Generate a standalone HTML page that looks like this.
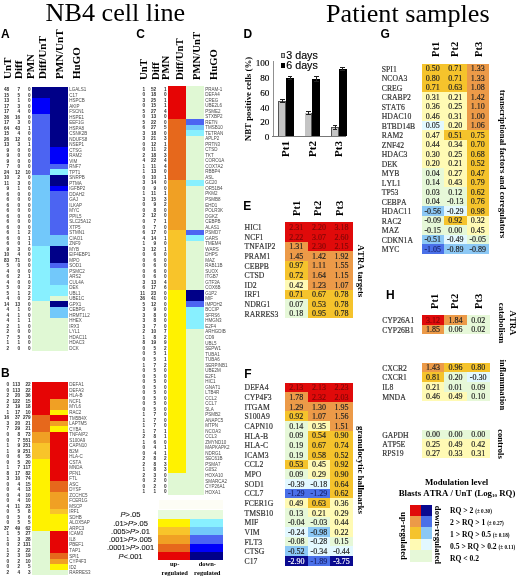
<!DOCTYPE html>
<html><head><meta charset="utf-8"><style>
html,body{margin:0;padding:0;background:#fff;}
body{width:520px;height:578px;position:relative;overflow:hidden;filter:blur(0.3px);}
body>div{position:absolute;font-kerning:none;font-variant-ligatures:none;}
</style></head><body>
<div style="left:45.50px;top:0.40px;font-family:'Liberation Serif', serif;font-size:26.2px;line-height:26.2px;font-weight:normal;color:#000;white-space:nowrap;">NB4 cell line</div>
<div style="left:326.00px;top:0.50px;font-family:'Liberation Serif', serif;font-size:26.2px;line-height:26.2px;font-weight:normal;color:#000;white-space:nowrap;">Patient samples</div>
<div style="left:1.00px;top:28.30px;font-family:'Liberation Sans', sans-serif;font-size:12px;line-height:12px;font-weight:bold;color:#000;white-space:nowrap;">A</div>
<div style="left:136.30px;top:28.20px;font-family:'Liberation Sans', sans-serif;font-size:12px;line-height:12px;font-weight:bold;color:#000;white-space:nowrap;">C</div>
<div style="left:243.50px;top:28.10px;font-family:'Liberation Sans', sans-serif;font-size:12px;line-height:12px;font-weight:bold;color:#000;white-space:nowrap;">D</div>
<div style="left:380.60px;top:27.60px;font-family:'Liberation Sans', sans-serif;font-size:12px;line-height:12px;font-weight:bold;color:#000;white-space:nowrap;">G</div>
<div style="left:1.00px;top:367.00px;font-family:'Liberation Sans', sans-serif;font-size:12px;line-height:12px;font-weight:bold;color:#000;white-space:nowrap;">B</div>
<div style="left:243.20px;top:200.30px;font-family:'Liberation Sans', sans-serif;font-size:12px;line-height:12px;font-weight:bold;color:#000;white-space:nowrap;">E</div>
<div style="left:244.30px;top:368.20px;font-family:'Liberation Sans', sans-serif;font-size:12px;line-height:12px;font-weight:bold;color:#000;white-space:nowrap;">F</div>
<div style="left:386.00px;top:288.80px;font-family:'Liberation Sans', sans-serif;font-size:12px;line-height:12px;font-weight:bold;color:#000;white-space:nowrap;">H</div>
<div style="left:32.00px;top:86.80px;width:18.00px;height:11.00px;background:#000088"></div>
<div style="left:32.00px;top:97.80px;width:18.00px;height:16.50px;background:#0000fa"></div>
<div style="left:32.00px;top:114.30px;width:18.00px;height:60.50px;background:#4c64f2"></div>
<div style="left:32.00px;top:174.80px;width:18.00px;height:71.50px;background:#72c8fa"></div>
<div style="left:32.00px;top:246.30px;width:18.00px;height:55.00px;background:#88f0ff"></div>
<div style="left:32.00px;top:301.30px;width:18.00px;height:49.50px;background:#e0f8d4"></div>
<div style="left:50.00px;top:86.80px;width:18.00px;height:60.50px;background:#000088"></div>
<div style="left:50.00px;top:147.30px;width:18.00px;height:16.50px;background:#0000fa"></div>
<div style="left:50.00px;top:163.80px;width:18.00px;height:5.50px;background:#4c64f2"></div>
<div style="left:50.00px;top:169.30px;width:18.00px;height:5.50px;background:#88f0ff"></div>
<div style="left:50.00px;top:174.80px;width:18.00px;height:11.00px;background:#000088"></div>
<div style="left:50.00px;top:185.80px;width:18.00px;height:5.50px;background:#0000fa"></div>
<div style="left:50.00px;top:191.30px;width:18.00px;height:44.00px;background:#4c64f2"></div>
<div style="left:50.00px;top:235.30px;width:18.00px;height:11.00px;background:#72c8fa"></div>
<div style="left:50.00px;top:246.30px;width:18.00px;height:16.50px;background:#000088"></div>
<div style="left:50.00px;top:262.80px;width:18.00px;height:5.50px;background:#4c64f2"></div>
<div style="left:50.00px;top:268.30px;width:18.00px;height:16.50px;background:#72c8fa"></div>
<div style="left:50.00px;top:284.80px;width:18.00px;height:11.00px;background:#88f0ff"></div>
<div style="left:50.00px;top:295.80px;width:18.00px;height:5.50px;background:#e0f8d4"></div>
<div style="left:50.00px;top:301.30px;width:18.00px;height:5.50px;background:#000088"></div>
<div style="left:50.00px;top:306.80px;width:18.00px;height:11.00px;background:#72c8fa"></div>
<div style="left:50.00px;top:317.80px;width:18.00px;height:33.00px;background:#e0f8d4"></div>
<div style="right:510.80px;top:88.10px;font-family:'Liberation Sans', sans-serif;font-size:4.7px;line-height:4.7px;font-weight:bold;color:#333;white-space:nowrap;">48</div>
<div style="right:499.80px;top:88.10px;font-family:'Liberation Sans', sans-serif;font-size:4.7px;line-height:4.7px;font-weight:bold;color:#333;white-space:nowrap;">7</div>
<div style="right:489.30px;top:88.10px;font-family:'Liberation Sans', sans-serif;font-size:4.7px;line-height:4.7px;font-weight:bold;color:#333;white-space:nowrap;">0</div>
<div style="left:69.20px;top:88.20px;font-family:'Liberation Sans', sans-serif;font-size:4.5px;line-height:4.5px;font-weight:normal;color:#4a4a4a;white-space:nowrap;">LGALS1</div>
<div style="right:510.80px;top:93.60px;font-family:'Liberation Sans', sans-serif;font-size:4.7px;line-height:4.7px;font-weight:bold;color:#333;white-space:nowrap;">15</div>
<div style="right:499.80px;top:93.60px;font-family:'Liberation Sans', sans-serif;font-size:4.7px;line-height:4.7px;font-weight:bold;color:#333;white-space:nowrap;">5</div>
<div style="right:489.30px;top:93.60px;font-family:'Liberation Sans', sans-serif;font-size:4.7px;line-height:4.7px;font-weight:bold;color:#333;white-space:nowrap;">0</div>
<div style="left:69.20px;top:93.70px;font-family:'Liberation Sans', sans-serif;font-size:4.5px;line-height:4.5px;font-weight:normal;color:#4a4a4a;white-space:nowrap;">C17</div>
<div style="right:510.80px;top:99.10px;font-family:'Liberation Sans', sans-serif;font-size:4.7px;line-height:4.7px;font-weight:bold;color:#333;white-space:nowrap;">13</div>
<div style="right:499.80px;top:99.10px;font-family:'Liberation Sans', sans-serif;font-size:4.7px;line-height:4.7px;font-weight:bold;color:#333;white-space:nowrap;">1</div>
<div style="right:489.30px;top:99.10px;font-family:'Liberation Sans', sans-serif;font-size:4.7px;line-height:4.7px;font-weight:bold;color:#333;white-space:nowrap;">0</div>
<div style="left:69.20px;top:99.20px;font-family:'Liberation Sans', sans-serif;font-size:4.5px;line-height:4.5px;font-weight:normal;color:#4a4a4a;white-space:nowrap;">HSPCB</div>
<div style="right:510.80px;top:104.60px;font-family:'Liberation Sans', sans-serif;font-size:4.7px;line-height:4.7px;font-weight:bold;color:#333;white-space:nowrap;">17</div>
<div style="right:499.80px;top:104.60px;font-family:'Liberation Sans', sans-serif;font-size:4.7px;line-height:4.7px;font-weight:bold;color:#333;white-space:nowrap;">3</div>
<div style="right:489.30px;top:104.60px;font-family:'Liberation Sans', sans-serif;font-size:4.7px;line-height:4.7px;font-weight:bold;color:#333;white-space:nowrap;">0</div>
<div style="left:69.20px;top:104.70px;font-family:'Liberation Sans', sans-serif;font-size:4.5px;line-height:4.5px;font-weight:normal;color:#4a4a4a;white-space:nowrap;">AKIP</div>
<div style="right:510.80px;top:110.10px;font-family:'Liberation Sans', sans-serif;font-size:4.7px;line-height:4.7px;font-weight:bold;color:#333;white-space:nowrap;">17</div>
<div style="right:499.80px;top:110.10px;font-family:'Liberation Sans', sans-serif;font-size:4.7px;line-height:4.7px;font-weight:bold;color:#333;white-space:nowrap;">4</div>
<div style="right:489.30px;top:110.10px;font-family:'Liberation Sans', sans-serif;font-size:4.7px;line-height:4.7px;font-weight:bold;color:#333;white-space:nowrap;">0</div>
<div style="left:69.20px;top:110.20px;font-family:'Liberation Sans', sans-serif;font-size:4.5px;line-height:4.5px;font-weight:normal;color:#4a4a4a;white-space:nowrap;">FSCN1</div>
<div style="right:510.80px;top:115.60px;font-family:'Liberation Sans', sans-serif;font-size:4.7px;line-height:4.7px;font-weight:bold;color:#333;white-space:nowrap;">36</div>
<div style="right:499.80px;top:115.60px;font-family:'Liberation Sans', sans-serif;font-size:4.7px;line-height:4.7px;font-weight:bold;color:#333;white-space:nowrap;">16</div>
<div style="right:489.30px;top:115.60px;font-family:'Liberation Sans', sans-serif;font-size:4.7px;line-height:4.7px;font-weight:bold;color:#333;white-space:nowrap;">0</div>
<div style="left:69.20px;top:115.70px;font-family:'Liberation Sans', sans-serif;font-size:4.5px;line-height:4.5px;font-weight:normal;color:#4a4a4a;white-space:nowrap;">HSPE1</div>
<div style="right:510.80px;top:121.10px;font-family:'Liberation Sans', sans-serif;font-size:4.7px;line-height:4.7px;font-weight:bold;color:#333;white-space:nowrap;">17</div>
<div style="right:499.80px;top:121.10px;font-family:'Liberation Sans', sans-serif;font-size:4.7px;line-height:4.7px;font-weight:bold;color:#333;white-space:nowrap;">3</div>
<div style="right:489.30px;top:121.10px;font-family:'Liberation Sans', sans-serif;font-size:4.7px;line-height:4.7px;font-weight:bold;color:#333;white-space:nowrap;">0</div>
<div style="left:69.20px;top:121.20px;font-family:'Liberation Sans', sans-serif;font-size:4.5px;line-height:4.5px;font-weight:normal;color:#4a4a4a;white-space:nowrap;">EEF1G</div>
<div style="right:510.80px;top:126.60px;font-family:'Liberation Sans', sans-serif;font-size:4.7px;line-height:4.7px;font-weight:bold;color:#333;white-space:nowrap;">64</div>
<div style="right:499.80px;top:126.60px;font-family:'Liberation Sans', sans-serif;font-size:4.7px;line-height:4.7px;font-weight:bold;color:#333;white-space:nowrap;">43</div>
<div style="right:489.30px;top:126.60px;font-family:'Liberation Sans', sans-serif;font-size:4.7px;line-height:4.7px;font-weight:bold;color:#333;white-space:nowrap;">1</div>
<div style="left:69.20px;top:126.70px;font-family:'Liberation Sans', sans-serif;font-size:4.5px;line-height:4.5px;font-weight:normal;color:#4a4a4a;white-space:nowrap;">HSPA8</div>
<div style="right:510.80px;top:132.10px;font-family:'Liberation Sans', sans-serif;font-size:4.7px;line-height:4.7px;font-weight:bold;color:#333;white-space:nowrap;">15</div>
<div style="right:499.80px;top:132.10px;font-family:'Liberation Sans', sans-serif;font-size:4.7px;line-height:4.7px;font-weight:bold;color:#333;white-space:nowrap;">4</div>
<div style="right:489.30px;top:132.10px;font-family:'Liberation Sans', sans-serif;font-size:4.7px;line-height:4.7px;font-weight:bold;color:#333;white-space:nowrap;">0</div>
<div style="left:69.20px;top:132.20px;font-family:'Liberation Sans', sans-serif;font-size:4.5px;line-height:4.5px;font-weight:normal;color:#4a4a4a;white-space:nowrap;">CSNK2B</div>
<div style="right:510.80px;top:137.60px;font-family:'Liberation Sans', sans-serif;font-size:4.7px;line-height:4.7px;font-weight:bold;color:#333;white-space:nowrap;">26</div>
<div style="right:499.80px;top:137.60px;font-family:'Liberation Sans', sans-serif;font-size:4.7px;line-height:4.7px;font-weight:bold;color:#333;white-space:nowrap;">12</div>
<div style="right:489.30px;top:137.60px;font-family:'Liberation Sans', sans-serif;font-size:4.7px;line-height:4.7px;font-weight:bold;color:#333;white-space:nowrap;">0</div>
<div style="left:69.20px;top:137.70px;font-family:'Liberation Sans', sans-serif;font-size:4.5px;line-height:4.5px;font-weight:normal;color:#4a4a4a;white-space:nowrap;">NDUFS8</div>
<div style="right:510.80px;top:143.10px;font-family:'Liberation Sans', sans-serif;font-size:4.7px;line-height:4.7px;font-weight:bold;color:#333;white-space:nowrap;">13</div>
<div style="right:499.80px;top:143.10px;font-family:'Liberation Sans', sans-serif;font-size:4.7px;line-height:4.7px;font-weight:bold;color:#333;white-space:nowrap;">3</div>
<div style="right:489.30px;top:143.10px;font-family:'Liberation Sans', sans-serif;font-size:4.7px;line-height:4.7px;font-weight:bold;color:#333;white-space:nowrap;">1</div>
<div style="left:69.20px;top:143.20px;font-family:'Liberation Sans', sans-serif;font-size:4.5px;line-height:4.5px;font-weight:normal;color:#4a4a4a;white-space:nowrap;">NSEP1</div>
<div style="right:510.80px;top:148.60px;font-family:'Liberation Sans', sans-serif;font-size:4.7px;line-height:4.7px;font-weight:bold;color:#333;white-space:nowrap;">9</div>
<div style="right:499.80px;top:148.60px;font-family:'Liberation Sans', sans-serif;font-size:4.7px;line-height:4.7px;font-weight:bold;color:#333;white-space:nowrap;">0</div>
<div style="right:489.30px;top:148.60px;font-family:'Liberation Sans', sans-serif;font-size:4.7px;line-height:4.7px;font-weight:bold;color:#333;white-space:nowrap;">0</div>
<div style="left:69.20px;top:148.70px;font-family:'Liberation Sans', sans-serif;font-size:4.5px;line-height:4.5px;font-weight:normal;color:#4a4a4a;white-space:nowrap;">CTSG</div>
<div style="right:510.80px;top:154.10px;font-family:'Liberation Sans', sans-serif;font-size:4.7px;line-height:4.7px;font-weight:bold;color:#333;white-space:nowrap;">9</div>
<div style="right:499.80px;top:154.10px;font-family:'Liberation Sans', sans-serif;font-size:4.7px;line-height:4.7px;font-weight:bold;color:#333;white-space:nowrap;">0</div>
<div style="right:489.30px;top:154.10px;font-family:'Liberation Sans', sans-serif;font-size:4.7px;line-height:4.7px;font-weight:bold;color:#333;white-space:nowrap;">0</div>
<div style="left:69.20px;top:154.20px;font-family:'Liberation Sans', sans-serif;font-size:4.5px;line-height:4.5px;font-weight:normal;color:#4a4a4a;white-space:nowrap;">RAM2</div>
<div style="right:510.80px;top:159.60px;font-family:'Liberation Sans', sans-serif;font-size:4.7px;line-height:4.7px;font-weight:bold;color:#333;white-space:nowrap;">9</div>
<div style="right:499.80px;top:159.60px;font-family:'Liberation Sans', sans-serif;font-size:4.7px;line-height:4.7px;font-weight:bold;color:#333;white-space:nowrap;">0</div>
<div style="right:489.30px;top:159.60px;font-family:'Liberation Sans', sans-serif;font-size:4.7px;line-height:4.7px;font-weight:bold;color:#333;white-space:nowrap;">0</div>
<div style="left:69.20px;top:159.70px;font-family:'Liberation Sans', sans-serif;font-size:4.5px;line-height:4.5px;font-weight:normal;color:#4a4a4a;white-space:nowrap;">VIM</div>
<div style="right:510.80px;top:165.10px;font-family:'Liberation Sans', sans-serif;font-size:4.7px;line-height:4.7px;font-weight:bold;color:#333;white-space:nowrap;">7</div>
<div style="right:499.80px;top:165.10px;font-family:'Liberation Sans', sans-serif;font-size:4.7px;line-height:4.7px;font-weight:bold;color:#333;white-space:nowrap;">0</div>
<div style="right:489.30px;top:165.10px;font-family:'Liberation Sans', sans-serif;font-size:4.7px;line-height:4.7px;font-weight:bold;color:#333;white-space:nowrap;">0</div>
<div style="left:69.20px;top:165.20px;font-family:'Liberation Sans', sans-serif;font-size:4.5px;line-height:4.5px;font-weight:normal;color:#4a4a4a;white-space:nowrap;">RNF7</div>
<div style="right:510.80px;top:170.60px;font-family:'Liberation Sans', sans-serif;font-size:4.7px;line-height:4.7px;font-weight:bold;color:#333;white-space:nowrap;">24</div>
<div style="right:499.80px;top:170.60px;font-family:'Liberation Sans', sans-serif;font-size:4.7px;line-height:4.7px;font-weight:bold;color:#333;white-space:nowrap;">12</div>
<div style="right:489.30px;top:170.60px;font-family:'Liberation Sans', sans-serif;font-size:4.7px;line-height:4.7px;font-weight:bold;color:#333;white-space:nowrap;">10</div>
<div style="left:69.20px;top:170.70px;font-family:'Liberation Sans', sans-serif;font-size:4.5px;line-height:4.5px;font-weight:normal;color:#4a4a4a;white-space:nowrap;">TPT1</div>
<div style="right:510.80px;top:176.10px;font-family:'Liberation Sans', sans-serif;font-size:4.7px;line-height:4.7px;font-weight:bold;color:#333;white-space:nowrap;">10</div>
<div style="right:499.80px;top:176.10px;font-family:'Liberation Sans', sans-serif;font-size:4.7px;line-height:4.7px;font-weight:bold;color:#333;white-space:nowrap;">2</div>
<div style="right:489.30px;top:176.10px;font-family:'Liberation Sans', sans-serif;font-size:4.7px;line-height:4.7px;font-weight:bold;color:#333;white-space:nowrap;">0</div>
<div style="left:69.20px;top:176.20px;font-family:'Liberation Sans', sans-serif;font-size:4.5px;line-height:4.5px;font-weight:normal;color:#4a4a4a;white-space:nowrap;">SNRPB</div>
<div style="right:510.80px;top:181.60px;font-family:'Liberation Sans', sans-serif;font-size:4.7px;line-height:4.7px;font-weight:bold;color:#333;white-space:nowrap;">11</div>
<div style="right:499.80px;top:181.60px;font-family:'Liberation Sans', sans-serif;font-size:4.7px;line-height:4.7px;font-weight:bold;color:#333;white-space:nowrap;">3</div>
<div style="right:489.30px;top:181.60px;font-family:'Liberation Sans', sans-serif;font-size:4.7px;line-height:4.7px;font-weight:bold;color:#333;white-space:nowrap;">0</div>
<div style="left:69.20px;top:181.70px;font-family:'Liberation Sans', sans-serif;font-size:4.5px;line-height:4.5px;font-weight:normal;color:#4a4a4a;white-space:nowrap;">PTMA</div>
<div style="right:510.80px;top:187.10px;font-family:'Liberation Sans', sans-serif;font-size:4.7px;line-height:4.7px;font-weight:bold;color:#333;white-space:nowrap;">9</div>
<div style="right:499.80px;top:187.10px;font-family:'Liberation Sans', sans-serif;font-size:4.7px;line-height:4.7px;font-weight:bold;color:#333;white-space:nowrap;">1</div>
<div style="right:489.30px;top:187.10px;font-family:'Liberation Sans', sans-serif;font-size:4.7px;line-height:4.7px;font-weight:bold;color:#333;white-space:nowrap;">0</div>
<div style="left:69.20px;top:187.20px;font-family:'Liberation Sans', sans-serif;font-size:4.5px;line-height:4.5px;font-weight:normal;color:#4a4a4a;white-space:nowrap;">IGFBP2</div>
<div style="right:510.80px;top:192.60px;font-family:'Liberation Sans', sans-serif;font-size:4.7px;line-height:4.7px;font-weight:bold;color:#333;white-space:nowrap;">6</div>
<div style="right:499.80px;top:192.60px;font-family:'Liberation Sans', sans-serif;font-size:4.7px;line-height:4.7px;font-weight:bold;color:#333;white-space:nowrap;">0</div>
<div style="right:489.30px;top:192.60px;font-family:'Liberation Sans', sans-serif;font-size:4.7px;line-height:4.7px;font-weight:bold;color:#333;white-space:nowrap;">0</div>
<div style="left:69.20px;top:192.70px;font-family:'Liberation Sans', sans-serif;font-size:4.5px;line-height:4.5px;font-weight:normal;color:#4a4a4a;white-space:nowrap;">DDAH2</div>
<div style="right:510.80px;top:198.10px;font-family:'Liberation Sans', sans-serif;font-size:4.7px;line-height:4.7px;font-weight:bold;color:#333;white-space:nowrap;">6</div>
<div style="right:499.80px;top:198.10px;font-family:'Liberation Sans', sans-serif;font-size:4.7px;line-height:4.7px;font-weight:bold;color:#333;white-space:nowrap;">0</div>
<div style="right:489.30px;top:198.10px;font-family:'Liberation Sans', sans-serif;font-size:4.7px;line-height:4.7px;font-weight:bold;color:#333;white-space:nowrap;">0</div>
<div style="left:69.20px;top:198.20px;font-family:'Liberation Sans', sans-serif;font-size:4.5px;line-height:4.5px;font-weight:normal;color:#4a4a4a;white-space:nowrap;">GAJ</div>
<div style="right:510.80px;top:203.60px;font-family:'Liberation Sans', sans-serif;font-size:4.7px;line-height:4.7px;font-weight:bold;color:#333;white-space:nowrap;">6</div>
<div style="right:499.80px;top:203.60px;font-family:'Liberation Sans', sans-serif;font-size:4.7px;line-height:4.7px;font-weight:bold;color:#333;white-space:nowrap;">0</div>
<div style="right:489.30px;top:203.60px;font-family:'Liberation Sans', sans-serif;font-size:4.7px;line-height:4.7px;font-weight:bold;color:#333;white-space:nowrap;">0</div>
<div style="left:69.20px;top:203.70px;font-family:'Liberation Sans', sans-serif;font-size:4.5px;line-height:4.5px;font-weight:normal;color:#4a4a4a;white-space:nowrap;">ILKAP</div>
<div style="right:510.80px;top:209.10px;font-family:'Liberation Sans', sans-serif;font-size:4.7px;line-height:4.7px;font-weight:bold;color:#333;white-space:nowrap;">6</div>
<div style="right:499.80px;top:209.10px;font-family:'Liberation Sans', sans-serif;font-size:4.7px;line-height:4.7px;font-weight:bold;color:#333;white-space:nowrap;">0</div>
<div style="right:489.30px;top:209.10px;font-family:'Liberation Sans', sans-serif;font-size:4.7px;line-height:4.7px;font-weight:bold;color:#333;white-space:nowrap;">0</div>
<div style="left:69.20px;top:209.20px;font-family:'Liberation Sans', sans-serif;font-size:4.5px;line-height:4.5px;font-weight:normal;color:#4a4a4a;white-space:nowrap;">MYC</div>
<div style="right:510.80px;top:214.60px;font-family:'Liberation Sans', sans-serif;font-size:4.7px;line-height:4.7px;font-weight:bold;color:#333;white-space:nowrap;">6</div>
<div style="right:499.80px;top:214.60px;font-family:'Liberation Sans', sans-serif;font-size:4.7px;line-height:4.7px;font-weight:bold;color:#333;white-space:nowrap;">0</div>
<div style="right:489.30px;top:214.60px;font-family:'Liberation Sans', sans-serif;font-size:4.7px;line-height:4.7px;font-weight:bold;color:#333;white-space:nowrap;">0</div>
<div style="left:69.20px;top:214.70px;font-family:'Liberation Sans', sans-serif;font-size:4.5px;line-height:4.5px;font-weight:normal;color:#4a4a4a;white-space:nowrap;">PPIL5</div>
<div style="right:510.80px;top:220.10px;font-family:'Liberation Sans', sans-serif;font-size:4.7px;line-height:4.7px;font-weight:bold;color:#333;white-space:nowrap;">6</div>
<div style="right:499.80px;top:220.10px;font-family:'Liberation Sans', sans-serif;font-size:4.7px;line-height:4.7px;font-weight:bold;color:#333;white-space:nowrap;">0</div>
<div style="right:489.30px;top:220.10px;font-family:'Liberation Sans', sans-serif;font-size:4.7px;line-height:4.7px;font-weight:bold;color:#333;white-space:nowrap;">0</div>
<div style="left:69.20px;top:220.20px;font-family:'Liberation Sans', sans-serif;font-size:4.5px;line-height:4.5px;font-weight:normal;color:#4a4a4a;white-space:nowrap;">SLC25A12</div>
<div style="right:510.80px;top:225.60px;font-family:'Liberation Sans', sans-serif;font-size:4.7px;line-height:4.7px;font-weight:bold;color:#333;white-space:nowrap;">6</div>
<div style="right:499.80px;top:225.60px;font-family:'Liberation Sans', sans-serif;font-size:4.7px;line-height:4.7px;font-weight:bold;color:#333;white-space:nowrap;">0</div>
<div style="right:489.30px;top:225.60px;font-family:'Liberation Sans', sans-serif;font-size:4.7px;line-height:4.7px;font-weight:bold;color:#333;white-space:nowrap;">0</div>
<div style="left:69.20px;top:225.70px;font-family:'Liberation Sans', sans-serif;font-size:4.5px;line-height:4.5px;font-weight:normal;color:#4a4a4a;white-space:nowrap;">XTP5</div>
<div style="right:510.80px;top:231.10px;font-family:'Liberation Sans', sans-serif;font-size:4.7px;line-height:4.7px;font-weight:bold;color:#333;white-space:nowrap;">6</div>
<div style="right:499.80px;top:231.10px;font-family:'Liberation Sans', sans-serif;font-size:4.7px;line-height:4.7px;font-weight:bold;color:#333;white-space:nowrap;">1</div>
<div style="right:489.30px;top:231.10px;font-family:'Liberation Sans', sans-serif;font-size:4.7px;line-height:4.7px;font-weight:bold;color:#333;white-space:nowrap;">2</div>
<div style="left:69.20px;top:231.20px;font-family:'Liberation Sans', sans-serif;font-size:4.5px;line-height:4.5px;font-weight:normal;color:#4a4a4a;white-space:nowrap;">STMN1</div>
<div style="right:510.80px;top:236.60px;font-family:'Liberation Sans', sans-serif;font-size:4.7px;line-height:4.7px;font-weight:bold;color:#333;white-space:nowrap;">6</div>
<div style="right:499.80px;top:236.60px;font-family:'Liberation Sans', sans-serif;font-size:4.7px;line-height:4.7px;font-weight:bold;color:#333;white-space:nowrap;">0</div>
<div style="right:489.30px;top:236.60px;font-family:'Liberation Sans', sans-serif;font-size:4.7px;line-height:4.7px;font-weight:bold;color:#333;white-space:nowrap;">1</div>
<div style="left:69.20px;top:236.70px;font-family:'Liberation Sans', sans-serif;font-size:4.5px;line-height:4.5px;font-weight:normal;color:#4a4a4a;white-space:nowrap;">CIAO1</div>
<div style="right:510.80px;top:242.10px;font-family:'Liberation Sans', sans-serif;font-size:4.7px;line-height:4.7px;font-weight:bold;color:#333;white-space:nowrap;">6</div>
<div style="right:499.80px;top:242.10px;font-family:'Liberation Sans', sans-serif;font-size:4.7px;line-height:4.7px;font-weight:bold;color:#333;white-space:nowrap;">0</div>
<div style="right:489.30px;top:242.10px;font-family:'Liberation Sans', sans-serif;font-size:4.7px;line-height:4.7px;font-weight:bold;color:#333;white-space:nowrap;">1</div>
<div style="left:69.20px;top:242.20px;font-family:'Liberation Sans', sans-serif;font-size:4.5px;line-height:4.5px;font-weight:normal;color:#4a4a4a;white-space:nowrap;">ZNF9</div>
<div style="right:510.80px;top:247.60px;font-family:'Liberation Sans', sans-serif;font-size:4.7px;line-height:4.7px;font-weight:bold;color:#333;white-space:nowrap;">9</div>
<div style="right:499.80px;top:247.60px;font-family:'Liberation Sans', sans-serif;font-size:4.7px;line-height:4.7px;font-weight:bold;color:#333;white-space:nowrap;">3</div>
<div style="right:489.30px;top:247.60px;font-family:'Liberation Sans', sans-serif;font-size:4.7px;line-height:4.7px;font-weight:bold;color:#333;white-space:nowrap;">0</div>
<div style="left:69.20px;top:247.70px;font-family:'Liberation Sans', sans-serif;font-size:4.5px;line-height:4.5px;font-weight:normal;color:#4a4a4a;white-space:nowrap;">MYB</div>
<div style="right:510.80px;top:253.10px;font-family:'Liberation Sans', sans-serif;font-size:4.7px;line-height:4.7px;font-weight:bold;color:#333;white-space:nowrap;">10</div>
<div style="right:499.80px;top:253.10px;font-family:'Liberation Sans', sans-serif;font-size:4.7px;line-height:4.7px;font-weight:bold;color:#333;white-space:nowrap;">4</div>
<div style="right:489.30px;top:253.10px;font-family:'Liberation Sans', sans-serif;font-size:4.7px;line-height:4.7px;font-weight:bold;color:#333;white-space:nowrap;">0</div>
<div style="left:69.20px;top:253.20px;font-family:'Liberation Sans', sans-serif;font-size:4.5px;line-height:4.5px;font-weight:normal;color:#4a4a4a;white-space:nowrap;">EIF4EBP1</div>
<div style="right:510.80px;top:258.60px;font-family:'Liberation Sans', sans-serif;font-size:4.7px;line-height:4.7px;font-weight:bold;color:#333;white-space:nowrap;">83</div>
<div style="right:499.80px;top:258.60px;font-family:'Liberation Sans', sans-serif;font-size:4.7px;line-height:4.7px;font-weight:bold;color:#333;white-space:nowrap;">71</div>
<div style="right:489.30px;top:258.60px;font-family:'Liberation Sans', sans-serif;font-size:4.7px;line-height:4.7px;font-weight:bold;color:#333;white-space:nowrap;">0</div>
<div style="left:69.20px;top:258.70px;font-family:'Liberation Sans', sans-serif;font-size:4.5px;line-height:4.5px;font-weight:normal;color:#4a4a4a;white-space:nowrap;">MPO</div>
<div style="right:510.80px;top:264.10px;font-family:'Liberation Sans', sans-serif;font-size:4.7px;line-height:4.7px;font-weight:bold;color:#333;white-space:nowrap;">5</div>
<div style="right:499.80px;top:264.10px;font-family:'Liberation Sans', sans-serif;font-size:4.7px;line-height:4.7px;font-weight:bold;color:#333;white-space:nowrap;">0</div>
<div style="right:489.30px;top:264.10px;font-family:'Liberation Sans', sans-serif;font-size:4.7px;line-height:4.7px;font-weight:bold;color:#333;white-space:nowrap;">0</div>
<div style="left:69.20px;top:264.20px;font-family:'Liberation Sans', sans-serif;font-size:4.5px;line-height:4.5px;font-weight:normal;color:#4a4a4a;white-space:nowrap;">SOD1</div>
<div style="right:510.80px;top:269.60px;font-family:'Liberation Sans', sans-serif;font-size:4.7px;line-height:4.7px;font-weight:bold;color:#333;white-space:nowrap;">4</div>
<div style="right:499.80px;top:269.60px;font-family:'Liberation Sans', sans-serif;font-size:4.7px;line-height:4.7px;font-weight:bold;color:#333;white-space:nowrap;">0</div>
<div style="right:489.30px;top:269.60px;font-family:'Liberation Sans', sans-serif;font-size:4.7px;line-height:4.7px;font-weight:bold;color:#333;white-space:nowrap;">0</div>
<div style="left:69.20px;top:269.70px;font-family:'Liberation Sans', sans-serif;font-size:4.5px;line-height:4.5px;font-weight:normal;color:#4a4a4a;white-space:nowrap;">PSMC2</div>
<div style="right:510.80px;top:275.10px;font-family:'Liberation Sans', sans-serif;font-size:4.7px;line-height:4.7px;font-weight:bold;color:#333;white-space:nowrap;">6</div>
<div style="right:499.80px;top:275.10px;font-family:'Liberation Sans', sans-serif;font-size:4.7px;line-height:4.7px;font-weight:bold;color:#333;white-space:nowrap;">2</div>
<div style="right:489.30px;top:275.10px;font-family:'Liberation Sans', sans-serif;font-size:4.7px;line-height:4.7px;font-weight:bold;color:#333;white-space:nowrap;">1</div>
<div style="left:69.20px;top:275.20px;font-family:'Liberation Sans', sans-serif;font-size:4.5px;line-height:4.5px;font-weight:normal;color:#4a4a4a;white-space:nowrap;">ARS2</div>
<div style="right:510.80px;top:280.60px;font-family:'Liberation Sans', sans-serif;font-size:4.7px;line-height:4.7px;font-weight:bold;color:#333;white-space:nowrap;">4</div>
<div style="right:499.80px;top:280.60px;font-family:'Liberation Sans', sans-serif;font-size:4.7px;line-height:4.7px;font-weight:bold;color:#333;white-space:nowrap;">0</div>
<div style="right:489.30px;top:280.60px;font-family:'Liberation Sans', sans-serif;font-size:4.7px;line-height:4.7px;font-weight:bold;color:#333;white-space:nowrap;">0</div>
<div style="left:69.20px;top:280.70px;font-family:'Liberation Sans', sans-serif;font-size:4.5px;line-height:4.5px;font-weight:normal;color:#4a4a4a;white-space:nowrap;">CUL4A</div>
<div style="right:510.80px;top:286.10px;font-family:'Liberation Sans', sans-serif;font-size:4.7px;line-height:4.7px;font-weight:bold;color:#333;white-space:nowrap;">5</div>
<div style="right:499.80px;top:286.10px;font-family:'Liberation Sans', sans-serif;font-size:4.7px;line-height:4.7px;font-weight:bold;color:#333;white-space:nowrap;">0</div>
<div style="right:489.30px;top:286.10px;font-family:'Liberation Sans', sans-serif;font-size:4.7px;line-height:4.7px;font-weight:bold;color:#333;white-space:nowrap;">2</div>
<div style="left:69.20px;top:286.20px;font-family:'Liberation Sans', sans-serif;font-size:4.5px;line-height:4.5px;font-weight:normal;color:#4a4a4a;white-space:nowrap;">DEK</div>
<div style="right:510.80px;top:291.60px;font-family:'Liberation Sans', sans-serif;font-size:4.7px;line-height:4.7px;font-weight:bold;color:#333;white-space:nowrap;">5</div>
<div style="right:499.80px;top:291.60px;font-family:'Liberation Sans', sans-serif;font-size:4.7px;line-height:4.7px;font-weight:bold;color:#333;white-space:nowrap;">1</div>
<div style="right:489.30px;top:291.60px;font-family:'Liberation Sans', sans-serif;font-size:4.7px;line-height:4.7px;font-weight:bold;color:#333;white-space:nowrap;">2</div>
<div style="left:69.20px;top:291.70px;font-family:'Liberation Sans', sans-serif;font-size:4.5px;line-height:4.5px;font-weight:normal;color:#4a4a4a;white-space:nowrap;">UBL1</div>
<div style="right:510.80px;top:297.10px;font-family:'Liberation Sans', sans-serif;font-size:4.7px;line-height:4.7px;font-weight:bold;color:#333;white-space:nowrap;">4</div>
<div style="right:499.80px;top:297.10px;font-family:'Liberation Sans', sans-serif;font-size:4.7px;line-height:4.7px;font-weight:bold;color:#333;white-space:nowrap;">0</div>
<div style="right:489.30px;top:297.10px;font-family:'Liberation Sans', sans-serif;font-size:4.7px;line-height:4.7px;font-weight:bold;color:#333;white-space:nowrap;">2</div>
<div style="left:69.20px;top:297.20px;font-family:'Liberation Sans', sans-serif;font-size:4.5px;line-height:4.5px;font-weight:normal;color:#4a4a4a;white-space:nowrap;">UBE1C</div>
<div style="right:510.80px;top:302.60px;font-family:'Liberation Sans', sans-serif;font-size:4.7px;line-height:4.7px;font-weight:bold;color:#333;white-space:nowrap;">14</div>
<div style="right:499.80px;top:302.60px;font-family:'Liberation Sans', sans-serif;font-size:4.7px;line-height:4.7px;font-weight:bold;color:#333;white-space:nowrap;">13</div>
<div style="right:489.30px;top:302.60px;font-family:'Liberation Sans', sans-serif;font-size:4.7px;line-height:4.7px;font-weight:bold;color:#333;white-space:nowrap;">0</div>
<div style="left:69.20px;top:302.70px;font-family:'Liberation Sans', sans-serif;font-size:4.5px;line-height:4.5px;font-weight:normal;color:#4a4a4a;white-space:nowrap;">GPX1</div>
<div style="right:510.80px;top:308.10px;font-family:'Liberation Sans', sans-serif;font-size:4.7px;line-height:4.7px;font-weight:bold;color:#333;white-space:nowrap;">4</div>
<div style="right:499.80px;top:308.10px;font-family:'Liberation Sans', sans-serif;font-size:4.7px;line-height:4.7px;font-weight:bold;color:#333;white-space:nowrap;">1</div>
<div style="right:489.30px;top:308.10px;font-family:'Liberation Sans', sans-serif;font-size:4.7px;line-height:4.7px;font-weight:bold;color:#333;white-space:nowrap;">0</div>
<div style="left:69.20px;top:308.20px;font-family:'Liberation Sans', sans-serif;font-size:4.5px;line-height:4.5px;font-weight:normal;color:#4a4a4a;white-space:nowrap;">CEBPG</div>
<div style="right:510.80px;top:313.60px;font-family:'Liberation Sans', sans-serif;font-size:4.7px;line-height:4.7px;font-weight:bold;color:#333;white-space:nowrap;">4</div>
<div style="right:499.80px;top:313.60px;font-family:'Liberation Sans', sans-serif;font-size:4.7px;line-height:4.7px;font-weight:bold;color:#333;white-space:nowrap;">1</div>
<div style="right:489.30px;top:313.60px;font-family:'Liberation Sans', sans-serif;font-size:4.7px;line-height:4.7px;font-weight:bold;color:#333;white-space:nowrap;">0</div>
<div style="left:69.20px;top:313.70px;font-family:'Liberation Sans', sans-serif;font-size:4.5px;line-height:4.5px;font-weight:normal;color:#4a4a4a;white-space:nowrap;">HRMT1L2</div>
<div style="right:510.80px;top:319.10px;font-family:'Liberation Sans', sans-serif;font-size:4.7px;line-height:4.7px;font-weight:bold;color:#333;white-space:nowrap;">4</div>
<div style="right:499.80px;top:319.10px;font-family:'Liberation Sans', sans-serif;font-size:4.7px;line-height:4.7px;font-weight:bold;color:#333;white-space:nowrap;">1</div>
<div style="right:489.30px;top:319.10px;font-family:'Liberation Sans', sans-serif;font-size:4.7px;line-height:4.7px;font-weight:bold;color:#333;white-space:nowrap;">1</div>
<div style="left:69.20px;top:319.20px;font-family:'Liberation Sans', sans-serif;font-size:4.5px;line-height:4.5px;font-weight:normal;color:#4a4a4a;white-space:nowrap;">HHEX</div>
<div style="right:510.80px;top:324.60px;font-family:'Liberation Sans', sans-serif;font-size:4.7px;line-height:4.7px;font-weight:bold;color:#333;white-space:nowrap;">2</div>
<div style="right:499.80px;top:324.60px;font-family:'Liberation Sans', sans-serif;font-size:4.7px;line-height:4.7px;font-weight:bold;color:#333;white-space:nowrap;">1</div>
<div style="right:489.30px;top:324.60px;font-family:'Liberation Sans', sans-serif;font-size:4.7px;line-height:4.7px;font-weight:bold;color:#333;white-space:nowrap;">0</div>
<div style="left:69.20px;top:324.70px;font-family:'Liberation Sans', sans-serif;font-size:4.5px;line-height:4.5px;font-weight:normal;color:#4a4a4a;white-space:nowrap;">IRX3</div>
<div style="right:510.80px;top:330.10px;font-family:'Liberation Sans', sans-serif;font-size:4.7px;line-height:4.7px;font-weight:bold;color:#333;white-space:nowrap;">2</div>
<div style="right:499.80px;top:330.10px;font-family:'Liberation Sans', sans-serif;font-size:4.7px;line-height:4.7px;font-weight:bold;color:#333;white-space:nowrap;">0</div>
<div style="right:489.30px;top:330.10px;font-family:'Liberation Sans', sans-serif;font-size:4.7px;line-height:4.7px;font-weight:bold;color:#333;white-space:nowrap;">0</div>
<div style="left:69.20px;top:330.20px;font-family:'Liberation Sans', sans-serif;font-size:4.5px;line-height:4.5px;font-weight:normal;color:#4a4a4a;white-space:nowrap;">LYL1</div>
<div style="right:510.80px;top:335.60px;font-family:'Liberation Sans', sans-serif;font-size:4.7px;line-height:4.7px;font-weight:bold;color:#333;white-space:nowrap;">7</div>
<div style="right:499.80px;top:335.60px;font-family:'Liberation Sans', sans-serif;font-size:4.7px;line-height:4.7px;font-weight:bold;color:#333;white-space:nowrap;">5</div>
<div style="right:489.30px;top:335.60px;font-family:'Liberation Sans', sans-serif;font-size:4.7px;line-height:4.7px;font-weight:bold;color:#333;white-space:nowrap;">0</div>
<div style="left:69.20px;top:335.70px;font-family:'Liberation Sans', sans-serif;font-size:4.5px;line-height:4.5px;font-weight:normal;color:#4a4a4a;white-space:nowrap;">HDAC11</div>
<div style="right:510.80px;top:341.10px;font-family:'Liberation Sans', sans-serif;font-size:4.7px;line-height:4.7px;font-weight:bold;color:#333;white-space:nowrap;">1</div>
<div style="right:499.80px;top:341.10px;font-family:'Liberation Sans', sans-serif;font-size:4.7px;line-height:4.7px;font-weight:bold;color:#333;white-space:nowrap;">1</div>
<div style="right:489.30px;top:341.10px;font-family:'Liberation Sans', sans-serif;font-size:4.7px;line-height:4.7px;font-weight:bold;color:#333;white-space:nowrap;">0</div>
<div style="left:69.20px;top:341.20px;font-family:'Liberation Sans', sans-serif;font-size:4.5px;line-height:4.5px;font-weight:normal;color:#4a4a4a;white-space:nowrap;">HDAC3</div>
<div style="right:510.80px;top:346.60px;font-family:'Liberation Sans', sans-serif;font-size:4.7px;line-height:4.7px;font-weight:bold;color:#333;white-space:nowrap;">2</div>
<div style="right:499.80px;top:346.60px;font-family:'Liberation Sans', sans-serif;font-size:4.7px;line-height:4.7px;font-weight:bold;color:#333;white-space:nowrap;">0</div>
<div style="right:489.30px;top:346.60px;font-family:'Liberation Sans', sans-serif;font-size:4.7px;line-height:4.7px;font-weight:bold;color:#333;white-space:nowrap;">0</div>
<div style="left:69.20px;top:346.70px;font-family:'Liberation Sans', sans-serif;font-size:4.5px;line-height:4.5px;font-weight:normal;color:#4a4a4a;white-space:nowrap;">DCK</div>
<div style="left:32.00px;top:382.00px;width:18.00px;height:33.12px;background:#e60505"></div>
<div style="left:32.00px;top:415.12px;width:18.00px;height:16.56px;background:#e6681c"></div>
<div style="left:32.00px;top:431.68px;width:18.00px;height:11.04px;background:#f0a024"></div>
<div style="left:32.00px;top:442.72px;width:18.00px;height:16.56px;background:#f8c42a"></div>
<div style="left:32.00px;top:459.28px;width:18.00px;height:71.76px;background:#fff200"></div>
<div style="left:32.00px;top:531.04px;width:18.00px;height:44.16px;background:#e0f8d4"></div>
<div style="left:50.00px;top:382.00px;width:18.00px;height:16.56px;background:#e60505"></div>
<div style="left:50.00px;top:398.56px;width:18.00px;height:11.04px;background:#f0a024"></div>
<div style="left:50.00px;top:409.60px;width:18.00px;height:5.52px;background:#fff200"></div>
<div style="left:50.00px;top:415.12px;width:18.00px;height:5.52px;background:#e60505"></div>
<div style="left:50.00px;top:420.64px;width:18.00px;height:5.52px;background:#f0a024"></div>
<div style="left:50.00px;top:426.16px;width:18.00px;height:5.52px;background:#fff200"></div>
<div style="left:50.00px;top:431.68px;width:18.00px;height:49.68px;background:#e60505"></div>
<div style="left:50.00px;top:481.36px;width:18.00px;height:11.04px;background:#e6681c"></div>
<div style="left:50.00px;top:492.40px;width:18.00px;height:16.56px;background:#f0a024"></div>
<div style="left:50.00px;top:508.96px;width:18.00px;height:5.52px;background:#f8c42a"></div>
<div style="left:50.00px;top:514.48px;width:18.00px;height:16.56px;background:#fff200"></div>
<div style="left:50.00px;top:531.04px;width:18.00px;height:22.08px;background:#e60505"></div>
<div style="left:50.00px;top:553.12px;width:18.00px;height:5.52px;background:#e6681c"></div>
<div style="left:50.00px;top:558.64px;width:18.00px;height:5.52px;background:#f0a024"></div>
<div style="left:50.00px;top:564.16px;width:18.00px;height:5.52px;background:#fff200"></div>
<div style="left:50.00px;top:569.68px;width:18.00px;height:5.52px;background:#e0f8d4"></div>
<div style="right:510.80px;top:383.31px;font-family:'Liberation Sans', sans-serif;font-size:4.7px;line-height:4.7px;font-weight:bold;color:#333;white-space:nowrap;">0</div>
<div style="right:499.80px;top:383.31px;font-family:'Liberation Sans', sans-serif;font-size:4.7px;line-height:4.7px;font-weight:bold;color:#333;white-space:nowrap;">113</div>
<div style="right:489.30px;top:383.31px;font-family:'Liberation Sans', sans-serif;font-size:4.7px;line-height:4.7px;font-weight:bold;color:#333;white-space:nowrap;">22</div>
<div style="left:69.20px;top:383.41px;font-family:'Liberation Sans', sans-serif;font-size:4.5px;line-height:4.5px;font-weight:normal;color:#4a4a4a;white-space:nowrap;">DEFA1</div>
<div style="right:510.80px;top:388.83px;font-family:'Liberation Sans', sans-serif;font-size:4.7px;line-height:4.7px;font-weight:bold;color:#333;white-space:nowrap;">0</div>
<div style="right:499.80px;top:388.83px;font-family:'Liberation Sans', sans-serif;font-size:4.7px;line-height:4.7px;font-weight:bold;color:#333;white-space:nowrap;">113</div>
<div style="right:489.30px;top:388.83px;font-family:'Liberation Sans', sans-serif;font-size:4.7px;line-height:4.7px;font-weight:bold;color:#333;white-space:nowrap;">22</div>
<div style="left:69.20px;top:388.93px;font-family:'Liberation Sans', sans-serif;font-size:4.5px;line-height:4.5px;font-weight:normal;color:#4a4a4a;white-space:nowrap;">DEFA3</div>
<div style="right:510.80px;top:394.35px;font-family:'Liberation Sans', sans-serif;font-size:4.7px;line-height:4.7px;font-weight:bold;color:#333;white-space:nowrap;">2</div>
<div style="right:499.80px;top:394.35px;font-family:'Liberation Sans', sans-serif;font-size:4.7px;line-height:4.7px;font-weight:bold;color:#333;white-space:nowrap;">20</div>
<div style="right:489.30px;top:394.35px;font-family:'Liberation Sans', sans-serif;font-size:4.7px;line-height:4.7px;font-weight:bold;color:#333;white-space:nowrap;">36</div>
<div style="left:69.20px;top:394.45px;font-family:'Liberation Sans', sans-serif;font-size:4.5px;line-height:4.5px;font-weight:normal;color:#4a4a4a;white-space:nowrap;">HLA-B</div>
<div style="right:510.80px;top:399.87px;font-family:'Liberation Sans', sans-serif;font-size:4.7px;line-height:4.7px;font-weight:bold;color:#333;white-space:nowrap;">2</div>
<div style="right:499.80px;top:399.87px;font-family:'Liberation Sans', sans-serif;font-size:4.7px;line-height:4.7px;font-weight:bold;color:#333;white-space:nowrap;">122</div>
<div style="right:489.30px;top:399.87px;font-family:'Liberation Sans', sans-serif;font-size:4.7px;line-height:4.7px;font-weight:bold;color:#333;white-space:nowrap;">15</div>
<div style="left:69.20px;top:399.97px;font-family:'Liberation Sans', sans-serif;font-size:4.5px;line-height:4.5px;font-weight:normal;color:#4a4a4a;white-space:nowrap;">NCF1</div>
<div style="right:510.80px;top:405.39px;font-family:'Liberation Sans', sans-serif;font-size:4.7px;line-height:4.7px;font-weight:bold;color:#333;white-space:nowrap;">2</div>
<div style="right:499.80px;top:405.39px;font-family:'Liberation Sans', sans-serif;font-size:4.7px;line-height:4.7px;font-weight:bold;color:#333;white-space:nowrap;">19</div>
<div style="right:489.30px;top:405.39px;font-family:'Liberation Sans', sans-serif;font-size:4.7px;line-height:4.7px;font-weight:bold;color:#333;white-space:nowrap;">18</div>
<div style="left:69.20px;top:405.49px;font-family:'Liberation Sans', sans-serif;font-size:4.5px;line-height:4.5px;font-weight:normal;color:#4a4a4a;white-space:nowrap;">MYL6</div>
<div style="right:510.80px;top:410.91px;font-family:'Liberation Sans', sans-serif;font-size:4.7px;line-height:4.7px;font-weight:bold;color:#333;white-space:nowrap;">1</div>
<div style="right:499.80px;top:410.91px;font-family:'Liberation Sans', sans-serif;font-size:4.7px;line-height:4.7px;font-weight:bold;color:#333;white-space:nowrap;">17</div>
<div style="right:489.30px;top:410.91px;font-family:'Liberation Sans', sans-serif;font-size:4.7px;line-height:4.7px;font-weight:bold;color:#333;white-space:nowrap;">10</div>
<div style="left:69.20px;top:411.01px;font-family:'Liberation Sans', sans-serif;font-size:4.5px;line-height:4.5px;font-weight:normal;color:#4a4a4a;white-space:nowrap;">RAC2</div>
<div style="right:510.80px;top:416.43px;font-family:'Liberation Sans', sans-serif;font-size:4.7px;line-height:4.7px;font-weight:bold;color:#333;white-space:nowrap;">16</div>
<div style="right:499.80px;top:416.43px;font-family:'Liberation Sans', sans-serif;font-size:4.7px;line-height:4.7px;font-weight:bold;color:#333;white-space:nowrap;">37</div>
<div style="right:489.30px;top:416.43px;font-family:'Liberation Sans', sans-serif;font-size:4.7px;line-height:4.7px;font-weight:bold;color:#333;white-space:nowrap;">279</div>
<div style="left:69.20px;top:416.53px;font-family:'Liberation Sans', sans-serif;font-size:4.5px;line-height:4.5px;font-weight:normal;color:#4a4a4a;white-space:nowrap;">TM5B4X</div>
<div style="right:510.80px;top:421.95px;font-family:'Liberation Sans', sans-serif;font-size:4.7px;line-height:4.7px;font-weight:bold;color:#333;white-space:nowrap;">3</div>
<div style="right:499.80px;top:421.95px;font-family:'Liberation Sans', sans-serif;font-size:4.7px;line-height:4.7px;font-weight:bold;color:#333;white-space:nowrap;">20</div>
<div style="right:489.30px;top:421.95px;font-family:'Liberation Sans', sans-serif;font-size:4.7px;line-height:4.7px;font-weight:bold;color:#333;white-space:nowrap;">21</div>
<div style="left:69.20px;top:422.05px;font-family:'Liberation Sans', sans-serif;font-size:4.5px;line-height:4.5px;font-weight:normal;color:#4a4a4a;white-space:nowrap;">LAPTM5</div>
<div style="right:510.80px;top:427.47px;font-family:'Liberation Sans', sans-serif;font-size:4.7px;line-height:4.7px;font-weight:bold;color:#333;white-space:nowrap;">7</div>
<div style="right:499.80px;top:427.47px;font-family:'Liberation Sans', sans-serif;font-size:4.7px;line-height:4.7px;font-weight:bold;color:#333;white-space:nowrap;">29</div>
<div style="right:489.30px;top:427.47px;font-family:'Liberation Sans', sans-serif;font-size:4.7px;line-height:4.7px;font-weight:bold;color:#333;white-space:nowrap;">21</div>
<div style="left:69.20px;top:427.57px;font-family:'Liberation Sans', sans-serif;font-size:4.5px;line-height:4.5px;font-weight:normal;color:#4a4a4a;white-space:nowrap;">CYBA</div>
<div style="right:510.80px;top:432.99px;font-family:'Liberation Sans', sans-serif;font-size:4.7px;line-height:4.7px;font-weight:bold;color:#333;white-space:nowrap;">0</div>
<div style="right:499.80px;top:432.99px;font-family:'Liberation Sans', sans-serif;font-size:4.7px;line-height:4.7px;font-weight:bold;color:#333;white-space:nowrap;">8</div>
<div style="right:489.30px;top:432.99px;font-family:'Liberation Sans', sans-serif;font-size:4.7px;line-height:4.7px;font-weight:bold;color:#333;white-space:nowrap;">73</div>
<div style="left:69.20px;top:433.09px;font-family:'Liberation Sans', sans-serif;font-size:4.5px;line-height:4.5px;font-weight:normal;color:#4a4a4a;white-space:nowrap;">TNFAIP2</div>
<div style="right:510.80px;top:438.51px;font-family:'Liberation Sans', sans-serif;font-size:4.7px;line-height:4.7px;font-weight:bold;color:#333;white-space:nowrap;">0</div>
<div style="right:499.80px;top:438.51px;font-family:'Liberation Sans', sans-serif;font-size:4.7px;line-height:4.7px;font-weight:bold;color:#333;white-space:nowrap;">7</div>
<div style="right:489.30px;top:438.51px;font-family:'Liberation Sans', sans-serif;font-size:4.7px;line-height:4.7px;font-weight:bold;color:#333;white-space:nowrap;">551</div>
<div style="left:69.20px;top:438.61px;font-family:'Liberation Sans', sans-serif;font-size:4.5px;line-height:4.5px;font-weight:normal;color:#4a4a4a;white-space:nowrap;">S100A9</div>
<div style="right:510.80px;top:444.03px;font-family:'Liberation Sans', sans-serif;font-size:4.7px;line-height:4.7px;font-weight:bold;color:#333;white-space:nowrap;">1</div>
<div style="right:499.80px;top:444.03px;font-family:'Liberation Sans', sans-serif;font-size:4.7px;line-height:4.7px;font-weight:bold;color:#333;white-space:nowrap;">9</div>
<div style="right:489.30px;top:444.03px;font-family:'Liberation Sans', sans-serif;font-size:4.7px;line-height:4.7px;font-weight:bold;color:#333;white-space:nowrap;">251</div>
<div style="left:69.20px;top:444.13px;font-family:'Liberation Sans', sans-serif;font-size:4.5px;line-height:4.5px;font-weight:normal;color:#4a4a4a;white-space:nowrap;">CAPN10</div>
<div style="right:510.80px;top:449.55px;font-family:'Liberation Sans', sans-serif;font-size:4.7px;line-height:4.7px;font-weight:bold;color:#333;white-space:nowrap;">1</div>
<div style="right:499.80px;top:449.55px;font-family:'Liberation Sans', sans-serif;font-size:4.7px;line-height:4.7px;font-weight:bold;color:#333;white-space:nowrap;">9</div>
<div style="right:489.30px;top:449.55px;font-family:'Liberation Sans', sans-serif;font-size:4.7px;line-height:4.7px;font-weight:bold;color:#333;white-space:nowrap;">251</div>
<div style="left:69.20px;top:449.65px;font-family:'Liberation Sans', sans-serif;font-size:4.5px;line-height:4.5px;font-weight:normal;color:#4a4a4a;white-space:nowrap;">B2M</div>
<div style="right:510.80px;top:455.07px;font-family:'Liberation Sans', sans-serif;font-size:4.7px;line-height:4.7px;font-weight:bold;color:#333;white-space:nowrap;">0</div>
<div style="right:499.80px;top:455.07px;font-family:'Liberation Sans', sans-serif;font-size:4.7px;line-height:4.7px;font-weight:bold;color:#333;white-space:nowrap;">6</div>
<div style="right:489.30px;top:455.07px;font-family:'Liberation Sans', sans-serif;font-size:4.7px;line-height:4.7px;font-weight:bold;color:#333;white-space:nowrap;">55</div>
<div style="left:69.20px;top:455.17px;font-family:'Liberation Sans', sans-serif;font-size:4.5px;line-height:4.5px;font-weight:normal;color:#4a4a4a;white-space:nowrap;">HLA-C</div>
<div style="right:510.80px;top:460.59px;font-family:'Liberation Sans', sans-serif;font-size:4.7px;line-height:4.7px;font-weight:bold;color:#333;white-space:nowrap;">0</div>
<div style="right:499.80px;top:460.59px;font-family:'Liberation Sans', sans-serif;font-size:4.7px;line-height:4.7px;font-weight:bold;color:#333;white-space:nowrap;">5</div>
<div style="right:489.30px;top:460.59px;font-family:'Liberation Sans', sans-serif;font-size:4.7px;line-height:4.7px;font-weight:bold;color:#333;white-space:nowrap;">20</div>
<div style="left:69.20px;top:460.69px;font-family:'Liberation Sans', sans-serif;font-size:4.5px;line-height:4.5px;font-weight:normal;color:#4a4a4a;white-space:nowrap;">CSTA</div>
<div style="right:510.80px;top:466.11px;font-family:'Liberation Sans', sans-serif;font-size:4.7px;line-height:4.7px;font-weight:bold;color:#333;white-space:nowrap;">1</div>
<div style="right:499.80px;top:466.11px;font-family:'Liberation Sans', sans-serif;font-size:4.7px;line-height:4.7px;font-weight:bold;color:#333;white-space:nowrap;">7</div>
<div style="right:489.30px;top:466.11px;font-family:'Liberation Sans', sans-serif;font-size:4.7px;line-height:4.7px;font-weight:bold;color:#333;white-space:nowrap;">117</div>
<div style="left:69.20px;top:466.21px;font-family:'Liberation Sans', sans-serif;font-size:4.5px;line-height:4.5px;font-weight:normal;color:#4a4a4a;white-space:nowrap;">MNDA</div>
<div style="right:510.80px;top:471.63px;font-family:'Liberation Sans', sans-serif;font-size:4.7px;line-height:4.7px;font-weight:bold;color:#333;white-space:nowrap;">8</div>
<div style="right:499.80px;top:471.63px;font-family:'Liberation Sans', sans-serif;font-size:4.7px;line-height:4.7px;font-weight:bold;color:#333;white-space:nowrap;">17</div>
<div style="right:489.30px;top:471.63px;font-family:'Liberation Sans', sans-serif;font-size:4.7px;line-height:4.7px;font-weight:bold;color:#333;white-space:nowrap;">82</div>
<div style="left:69.20px;top:471.73px;font-family:'Liberation Sans', sans-serif;font-size:4.5px;line-height:4.5px;font-weight:normal;color:#4a4a4a;white-space:nowrap;">PFN1</div>
<div style="right:510.80px;top:477.15px;font-family:'Liberation Sans', sans-serif;font-size:4.7px;line-height:4.7px;font-weight:bold;color:#333;white-space:nowrap;">3</div>
<div style="right:499.80px;top:477.15px;font-family:'Liberation Sans', sans-serif;font-size:4.7px;line-height:4.7px;font-weight:bold;color:#333;white-space:nowrap;">10</div>
<div style="right:489.30px;top:477.15px;font-family:'Liberation Sans', sans-serif;font-size:4.7px;line-height:4.7px;font-weight:bold;color:#333;white-space:nowrap;">74</div>
<div style="left:69.20px;top:477.25px;font-family:'Liberation Sans', sans-serif;font-size:4.5px;line-height:4.5px;font-weight:normal;color:#4a4a4a;white-space:nowrap;">FTL</div>
<div style="right:510.80px;top:482.67px;font-family:'Liberation Sans', sans-serif;font-size:4.7px;line-height:4.7px;font-weight:bold;color:#333;white-space:nowrap;">0</div>
<div style="right:499.80px;top:482.67px;font-family:'Liberation Sans', sans-serif;font-size:4.7px;line-height:4.7px;font-weight:bold;color:#333;white-space:nowrap;">4</div>
<div style="right:489.30px;top:482.67px;font-family:'Liberation Sans', sans-serif;font-size:4.7px;line-height:4.7px;font-weight:bold;color:#333;white-space:nowrap;">15</div>
<div style="left:69.20px;top:482.77px;font-family:'Liberation Sans', sans-serif;font-size:4.5px;line-height:4.5px;font-weight:normal;color:#4a4a4a;white-space:nowrap;">ASC</div>
<div style="right:510.80px;top:488.19px;font-family:'Liberation Sans', sans-serif;font-size:4.7px;line-height:4.7px;font-weight:bold;color:#333;white-space:nowrap;">0</div>
<div style="right:499.80px;top:488.19px;font-family:'Liberation Sans', sans-serif;font-size:4.7px;line-height:4.7px;font-weight:bold;color:#333;white-space:nowrap;">4</div>
<div style="right:489.30px;top:488.19px;font-family:'Liberation Sans', sans-serif;font-size:4.7px;line-height:4.7px;font-weight:bold;color:#333;white-space:nowrap;">13</div>
<div style="left:69.20px;top:488.29px;font-family:'Liberation Sans', sans-serif;font-size:4.5px;line-height:4.5px;font-weight:normal;color:#4a4a4a;white-space:nowrap;">DYSF</div>
<div style="right:510.80px;top:493.71px;font-family:'Liberation Sans', sans-serif;font-size:4.7px;line-height:4.7px;font-weight:bold;color:#333;white-space:nowrap;">0</div>
<div style="right:499.80px;top:493.71px;font-family:'Liberation Sans', sans-serif;font-size:4.7px;line-height:4.7px;font-weight:bold;color:#333;white-space:nowrap;">4</div>
<div style="right:489.30px;top:493.71px;font-family:'Liberation Sans', sans-serif;font-size:4.7px;line-height:4.7px;font-weight:bold;color:#333;white-space:nowrap;">10</div>
<div style="left:69.20px;top:493.81px;font-family:'Liberation Sans', sans-serif;font-size:4.5px;line-height:4.5px;font-weight:normal;color:#4a4a4a;white-space:nowrap;">ZCCHC5</div>
<div style="right:510.80px;top:499.23px;font-family:'Liberation Sans', sans-serif;font-size:4.7px;line-height:4.7px;font-weight:bold;color:#333;white-space:nowrap;">0</div>
<div style="right:499.80px;top:499.23px;font-family:'Liberation Sans', sans-serif;font-size:4.7px;line-height:4.7px;font-weight:bold;color:#333;white-space:nowrap;">4</div>
<div style="right:489.30px;top:499.23px;font-family:'Liberation Sans', sans-serif;font-size:4.7px;line-height:4.7px;font-weight:bold;color:#333;white-space:nowrap;">10</div>
<div style="left:69.20px;top:499.33px;font-family:'Liberation Sans', sans-serif;font-size:4.5px;line-height:4.5px;font-weight:normal;color:#4a4a4a;white-space:nowrap;">FCER1G</div>
<div style="right:510.80px;top:504.75px;font-family:'Liberation Sans', sans-serif;font-size:4.7px;line-height:4.7px;font-weight:bold;color:#333;white-space:nowrap;">4</div>
<div style="right:499.80px;top:504.75px;font-family:'Liberation Sans', sans-serif;font-size:4.7px;line-height:4.7px;font-weight:bold;color:#333;white-space:nowrap;">11</div>
<div style="right:489.30px;top:504.75px;font-family:'Liberation Sans', sans-serif;font-size:4.7px;line-height:4.7px;font-weight:bold;color:#333;white-space:nowrap;">23</div>
<div style="left:69.20px;top:504.85px;font-family:'Liberation Sans', sans-serif;font-size:4.5px;line-height:4.5px;font-weight:normal;color:#4a4a4a;white-space:nowrap;">MSCP</div>
<div style="right:510.80px;top:510.27px;font-family:'Liberation Sans', sans-serif;font-size:4.7px;line-height:4.7px;font-weight:bold;color:#333;white-space:nowrap;">0</div>
<div style="right:499.80px;top:510.27px;font-family:'Liberation Sans', sans-serif;font-size:4.7px;line-height:4.7px;font-weight:bold;color:#333;white-space:nowrap;">5</div>
<div style="right:489.30px;top:510.27px;font-family:'Liberation Sans', sans-serif;font-size:4.7px;line-height:4.7px;font-weight:bold;color:#333;white-space:nowrap;">8</div>
<div style="left:69.20px;top:510.37px;font-family:'Liberation Sans', sans-serif;font-size:4.5px;line-height:4.5px;font-weight:normal;color:#4a4a4a;white-space:nowrap;">IRF1</div>
<div style="right:510.80px;top:515.79px;font-family:'Liberation Sans', sans-serif;font-size:4.7px;line-height:4.7px;font-weight:bold;color:#333;white-space:nowrap;">0</div>
<div style="right:499.80px;top:515.79px;font-family:'Liberation Sans', sans-serif;font-size:4.7px;line-height:4.7px;font-weight:bold;color:#333;white-space:nowrap;">5</div>
<div style="right:489.30px;top:515.79px;font-family:'Liberation Sans', sans-serif;font-size:4.7px;line-height:4.7px;font-weight:bold;color:#333;white-space:nowrap;">6</div>
<div style="left:69.20px;top:515.89px;font-family:'Liberation Sans', sans-serif;font-size:4.5px;line-height:4.5px;font-weight:normal;color:#4a4a4a;white-space:nowrap;">SDHB</div>
<div style="right:510.80px;top:521.31px;font-family:'Liberation Sans', sans-serif;font-size:4.7px;line-height:4.7px;font-weight:bold;color:#333;white-space:nowrap;">0</div>
<div style="right:499.80px;top:521.31px;font-family:'Liberation Sans', sans-serif;font-size:4.7px;line-height:4.7px;font-weight:bold;color:#333;white-space:nowrap;">5</div>
<div style="right:489.30px;top:521.31px;font-family:'Liberation Sans', sans-serif;font-size:4.7px;line-height:4.7px;font-weight:bold;color:#333;white-space:nowrap;">5</div>
<div style="left:69.20px;top:521.41px;font-family:'Liberation Sans', sans-serif;font-size:4.5px;line-height:4.5px;font-weight:normal;color:#4a4a4a;white-space:nowrap;">ALOX5AP</div>
<div style="right:510.80px;top:526.83px;font-family:'Liberation Sans', sans-serif;font-size:4.7px;line-height:4.7px;font-weight:bold;color:#333;white-space:nowrap;">37</div>
<div style="right:499.80px;top:526.83px;font-family:'Liberation Sans', sans-serif;font-size:4.7px;line-height:4.7px;font-weight:bold;color:#333;white-space:nowrap;">49</div>
<div style="right:489.30px;top:526.83px;font-family:'Liberation Sans', sans-serif;font-size:4.7px;line-height:4.7px;font-weight:bold;color:#333;white-space:nowrap;">62</div>
<div style="left:69.20px;top:526.93px;font-family:'Liberation Sans', sans-serif;font-size:4.5px;line-height:4.5px;font-weight:normal;color:#4a4a4a;white-space:nowrap;">ARPC3</div>
<div style="right:510.80px;top:532.35px;font-family:'Liberation Sans', sans-serif;font-size:4.7px;line-height:4.7px;font-weight:bold;color:#333;white-space:nowrap;">1</div>
<div style="right:499.80px;top:532.35px;font-family:'Liberation Sans', sans-serif;font-size:4.7px;line-height:4.7px;font-weight:bold;color:#333;white-space:nowrap;">5</div>
<div style="right:489.30px;top:532.35px;font-family:'Liberation Sans', sans-serif;font-size:4.7px;line-height:4.7px;font-weight:bold;color:#333;white-space:nowrap;">27</div>
<div style="left:69.20px;top:532.45px;font-family:'Liberation Sans', sans-serif;font-size:4.5px;line-height:4.5px;font-weight:normal;color:#4a4a4a;white-space:nowrap;">ICAM3</div>
<div style="right:510.80px;top:537.87px;font-family:'Liberation Sans', sans-serif;font-size:4.7px;line-height:4.7px;font-weight:bold;color:#333;white-space:nowrap;">1</div>
<div style="right:499.80px;top:537.87px;font-family:'Liberation Sans', sans-serif;font-size:4.7px;line-height:4.7px;font-weight:bold;color:#333;white-space:nowrap;">3</div>
<div style="right:489.30px;top:537.87px;font-family:'Liberation Sans', sans-serif;font-size:4.7px;line-height:4.7px;font-weight:bold;color:#333;white-space:nowrap;">28</div>
<div style="left:69.20px;top:537.97px;font-family:'Liberation Sans', sans-serif;font-size:4.5px;line-height:4.5px;font-weight:normal;color:#4a4a4a;white-space:nowrap;">IL8</div>
<div style="right:510.80px;top:543.39px;font-family:'Liberation Sans', sans-serif;font-size:4.7px;line-height:4.7px;font-weight:bold;color:#333;white-space:nowrap;">0</div>
<div style="right:499.80px;top:543.39px;font-family:'Liberation Sans', sans-serif;font-size:4.7px;line-height:4.7px;font-weight:bold;color:#333;white-space:nowrap;">2</div>
<div style="right:489.30px;top:543.39px;font-family:'Liberation Sans', sans-serif;font-size:4.7px;line-height:4.7px;font-weight:bold;color:#333;white-space:nowrap;">131</div>
<div style="left:69.20px;top:543.49px;font-family:'Liberation Sans', sans-serif;font-size:4.5px;line-height:4.5px;font-weight:normal;color:#4a4a4a;white-space:nowrap;">PBEF1</div>
<div style="right:510.80px;top:548.91px;font-family:'Liberation Sans', sans-serif;font-size:4.7px;line-height:4.7px;font-weight:bold;color:#333;white-space:nowrap;">1</div>
<div style="right:499.80px;top:548.91px;font-family:'Liberation Sans', sans-serif;font-size:4.7px;line-height:4.7px;font-weight:bold;color:#333;white-space:nowrap;">2</div>
<div style="right:489.30px;top:548.91px;font-family:'Liberation Sans', sans-serif;font-size:4.7px;line-height:4.7px;font-weight:bold;color:#333;white-space:nowrap;">22</div>
<div style="left:69.20px;top:549.01px;font-family:'Liberation Sans', sans-serif;font-size:4.5px;line-height:4.5px;font-weight:normal;color:#4a4a4a;white-space:nowrap;">TAP1</div>
<div style="right:510.80px;top:554.43px;font-family:'Liberation Sans', sans-serif;font-size:4.7px;line-height:4.7px;font-weight:bold;color:#333;white-space:nowrap;">2</div>
<div style="right:499.80px;top:554.43px;font-family:'Liberation Sans', sans-serif;font-size:4.7px;line-height:4.7px;font-weight:bold;color:#333;white-space:nowrap;">3</div>
<div style="right:489.30px;top:554.43px;font-family:'Liberation Sans', sans-serif;font-size:4.7px;line-height:4.7px;font-weight:bold;color:#333;white-space:nowrap;">19</div>
<div style="left:69.20px;top:554.53px;font-family:'Liberation Sans', sans-serif;font-size:4.5px;line-height:4.5px;font-weight:normal;color:#4a4a4a;white-space:nowrap;">SPI1</div>
<div style="right:510.80px;top:559.95px;font-family:'Liberation Sans', sans-serif;font-size:4.7px;line-height:4.7px;font-weight:bold;color:#333;white-space:nowrap;">0</div>
<div style="right:499.80px;top:559.95px;font-family:'Liberation Sans', sans-serif;font-size:4.7px;line-height:4.7px;font-weight:bold;color:#333;white-space:nowrap;">2</div>
<div style="right:489.30px;top:559.95px;font-family:'Liberation Sans', sans-serif;font-size:4.7px;line-height:4.7px;font-weight:bold;color:#333;white-space:nowrap;">10</div>
<div style="left:69.20px;top:560.05px;font-family:'Liberation Sans', sans-serif;font-size:4.5px;line-height:4.5px;font-weight:normal;color:#4a4a4a;white-space:nowrap;">CYP4F3</div>
<div style="right:510.80px;top:565.47px;font-family:'Liberation Sans', sans-serif;font-size:4.7px;line-height:4.7px;font-weight:bold;color:#333;white-space:nowrap;">0</div>
<div style="right:499.80px;top:565.47px;font-family:'Liberation Sans', sans-serif;font-size:4.7px;line-height:4.7px;font-weight:bold;color:#333;white-space:nowrap;">2</div>
<div style="right:489.30px;top:565.47px;font-family:'Liberation Sans', sans-serif;font-size:4.7px;line-height:4.7px;font-weight:bold;color:#333;white-space:nowrap;">5</div>
<div style="left:69.20px;top:565.57px;font-family:'Liberation Sans', sans-serif;font-size:4.5px;line-height:4.5px;font-weight:normal;color:#4a4a4a;white-space:nowrap;">ID2</div>
<div style="right:510.80px;top:570.99px;font-family:'Liberation Sans', sans-serif;font-size:4.7px;line-height:4.7px;font-weight:bold;color:#333;white-space:nowrap;">2</div>
<div style="right:499.80px;top:570.99px;font-family:'Liberation Sans', sans-serif;font-size:4.7px;line-height:4.7px;font-weight:bold;color:#333;white-space:nowrap;">4</div>
<div style="right:489.30px;top:570.99px;font-family:'Liberation Sans', sans-serif;font-size:4.7px;line-height:4.7px;font-weight:bold;color:#333;white-space:nowrap;">3</div>
<div style="left:69.20px;top:571.09px;font-family:'Liberation Sans', sans-serif;font-size:4.5px;line-height:4.5px;font-weight:normal;color:#4a4a4a;white-space:nowrap;">RARRES3</div>
<div style="left:168.00px;top:86.20px;width:18.00px;height:33.12px;background:#e60505"></div>
<div style="left:168.00px;top:119.32px;width:18.00px;height:60.72px;background:#e6681c"></div>
<div style="left:168.00px;top:180.04px;width:18.00px;height:49.68px;background:#f0a024"></div>
<div style="left:168.00px;top:229.72px;width:18.00px;height:60.72px;background:#f8c42a"></div>
<div style="left:168.00px;top:290.44px;width:18.00px;height:182.16px;background:#fff200"></div>
<div style="left:168.00px;top:472.60px;width:18.00px;height:22.08px;background:#e0f8d4"></div>
<div style="left:186.00px;top:86.20px;width:18.00px;height:33.12px;background:#e0f8d4"></div>
<div style="left:186.00px;top:119.32px;width:18.00px;height:5.52px;background:#4c64f2"></div>
<div style="left:186.00px;top:124.84px;width:18.00px;height:5.52px;background:#72c8fa"></div>
<div style="left:186.00px;top:130.36px;width:18.00px;height:5.52px;background:#88f0ff"></div>
<div style="left:186.00px;top:135.88px;width:18.00px;height:44.16px;background:#e0f8d4"></div>
<div style="left:186.00px;top:180.04px;width:18.00px;height:5.52px;background:#88f0ff"></div>
<div style="left:186.00px;top:185.56px;width:18.00px;height:44.16px;background:#e0f8d4"></div>
<div style="left:186.00px;top:229.72px;width:18.00px;height:5.52px;background:#4c64f2"></div>
<div style="left:186.00px;top:235.24px;width:18.00px;height:5.52px;background:#88f0ff"></div>
<div style="left:186.00px;top:240.76px;width:18.00px;height:49.68px;background:#e0f8d4"></div>
<div style="left:186.00px;top:290.44px;width:18.00px;height:11.04px;background:#000088"></div>
<div style="left:186.00px;top:301.48px;width:18.00px;height:5.52px;background:#4c64f2"></div>
<div style="left:186.00px;top:307.00px;width:18.00px;height:22.08px;background:#88f0ff"></div>
<div style="left:186.00px;top:329.08px;width:18.00px;height:165.60px;background:#e0f8d4"></div>
<div style="right:374.80px;top:87.51px;font-family:'Liberation Sans', sans-serif;font-size:4.7px;line-height:4.7px;font-weight:bold;color:#333;white-space:nowrap;">1</div>
<div style="right:363.80px;top:87.51px;font-family:'Liberation Sans', sans-serif;font-size:4.7px;line-height:4.7px;font-weight:bold;color:#333;white-space:nowrap;">52</div>
<div style="right:353.30px;top:87.51px;font-family:'Liberation Sans', sans-serif;font-size:4.7px;line-height:4.7px;font-weight:bold;color:#333;white-space:nowrap;">1</div>
<div style="left:205.20px;top:87.61px;font-family:'Liberation Sans', sans-serif;font-size:4.5px;line-height:4.5px;font-weight:normal;color:#4a4a4a;white-space:nowrap;">PRAM-1</div>
<div style="right:374.80px;top:93.03px;font-family:'Liberation Sans', sans-serif;font-size:4.7px;line-height:4.7px;font-weight:bold;color:#333;white-space:nowrap;">0</div>
<div style="right:363.80px;top:93.03px;font-family:'Liberation Sans', sans-serif;font-size:4.7px;line-height:4.7px;font-weight:bold;color:#333;white-space:nowrap;">18</div>
<div style="right:353.30px;top:93.03px;font-family:'Liberation Sans', sans-serif;font-size:4.7px;line-height:4.7px;font-weight:bold;color:#333;white-space:nowrap;">0</div>
<div style="left:205.20px;top:93.13px;font-family:'Liberation Sans', sans-serif;font-size:4.5px;line-height:4.5px;font-weight:normal;color:#4a4a4a;white-space:nowrap;">DEFA4</div>
<div style="right:374.80px;top:98.55px;font-family:'Liberation Sans', sans-serif;font-size:4.7px;line-height:4.7px;font-weight:bold;color:#333;white-space:nowrap;">3</div>
<div style="right:363.80px;top:98.55px;font-family:'Liberation Sans', sans-serif;font-size:4.7px;line-height:4.7px;font-weight:bold;color:#333;white-space:nowrap;">25</div>
<div style="right:353.30px;top:98.55px;font-family:'Liberation Sans', sans-serif;font-size:4.7px;line-height:4.7px;font-weight:bold;color:#333;white-space:nowrap;">1</div>
<div style="left:205.20px;top:98.65px;font-family:'Liberation Sans', sans-serif;font-size:4.5px;line-height:4.5px;font-weight:normal;color:#4a4a4a;white-space:nowrap;">CREG</div>
<div style="right:374.80px;top:104.07px;font-family:'Liberation Sans', sans-serif;font-size:4.7px;line-height:4.7px;font-weight:bold;color:#333;white-space:nowrap;">0</div>
<div style="right:363.80px;top:104.07px;font-family:'Liberation Sans', sans-serif;font-size:4.7px;line-height:4.7px;font-weight:bold;color:#333;white-space:nowrap;">15</div>
<div style="right:353.30px;top:104.07px;font-family:'Liberation Sans', sans-serif;font-size:4.7px;line-height:4.7px;font-weight:bold;color:#333;white-space:nowrap;">1</div>
<div style="left:205.20px;top:104.17px;font-family:'Liberation Sans', sans-serif;font-size:4.5px;line-height:4.5px;font-weight:normal;color:#4a4a4a;white-space:nowrap;">UBE2L6</div>
<div style="right:374.80px;top:109.59px;font-family:'Liberation Sans', sans-serif;font-size:4.7px;line-height:4.7px;font-weight:bold;color:#333;white-space:nowrap;">5</div>
<div style="right:363.80px;top:109.59px;font-family:'Liberation Sans', sans-serif;font-size:4.7px;line-height:4.7px;font-weight:bold;color:#333;white-space:nowrap;">27</div>
<div style="right:353.30px;top:109.59px;font-family:'Liberation Sans', sans-serif;font-size:4.7px;line-height:4.7px;font-weight:bold;color:#333;white-space:nowrap;">4</div>
<div style="left:205.20px;top:109.69px;font-family:'Liberation Sans', sans-serif;font-size:4.5px;line-height:4.5px;font-weight:normal;color:#4a4a4a;white-space:nowrap;">PSME2</div>
<div style="right:374.80px;top:115.11px;font-family:'Liberation Sans', sans-serif;font-size:4.7px;line-height:4.7px;font-weight:bold;color:#333;white-space:nowrap;">0</div>
<div style="right:363.80px;top:115.11px;font-family:'Liberation Sans', sans-serif;font-size:4.7px;line-height:4.7px;font-weight:bold;color:#333;white-space:nowrap;">13</div>
<div style="right:353.30px;top:115.11px;font-family:'Liberation Sans', sans-serif;font-size:4.7px;line-height:4.7px;font-weight:bold;color:#333;white-space:nowrap;">0</div>
<div style="left:205.20px;top:115.21px;font-family:'Liberation Sans', sans-serif;font-size:4.5px;line-height:4.5px;font-weight:normal;color:#4a4a4a;white-space:nowrap;">STXBP2</div>
<div style="right:374.80px;top:120.63px;font-family:'Liberation Sans', sans-serif;font-size:4.7px;line-height:4.7px;font-weight:bold;color:#333;white-space:nowrap;">5</div>
<div style="right:363.80px;top:120.63px;font-family:'Liberation Sans', sans-serif;font-size:4.7px;line-height:4.7px;font-weight:bold;color:#333;white-space:nowrap;">22</div>
<div style="right:353.30px;top:120.63px;font-family:'Liberation Sans', sans-serif;font-size:4.7px;line-height:4.7px;font-weight:bold;color:#333;white-space:nowrap;">0</div>
<div style="left:205.20px;top:120.73px;font-family:'Liberation Sans', sans-serif;font-size:4.5px;line-height:4.5px;font-weight:normal;color:#4a4a4a;white-space:nowrap;">RETN</div>
<div style="right:374.80px;top:126.15px;font-family:'Liberation Sans', sans-serif;font-size:4.7px;line-height:4.7px;font-weight:bold;color:#333;white-space:nowrap;">6</div>
<div style="right:363.80px;top:126.15px;font-family:'Liberation Sans', sans-serif;font-size:4.7px;line-height:4.7px;font-weight:bold;color:#333;white-space:nowrap;">27</div>
<div style="right:353.30px;top:126.15px;font-family:'Liberation Sans', sans-serif;font-size:4.7px;line-height:4.7px;font-weight:bold;color:#333;white-space:nowrap;">5</div>
<div style="left:205.20px;top:126.25px;font-family:'Liberation Sans', sans-serif;font-size:4.5px;line-height:4.5px;font-weight:normal;color:#4a4a4a;white-space:nowrap;">TMSB10</div>
<div style="right:374.80px;top:131.67px;font-family:'Liberation Sans', sans-serif;font-size:4.7px;line-height:4.7px;font-weight:bold;color:#333;white-space:nowrap;">3</div>
<div style="right:363.80px;top:131.67px;font-family:'Liberation Sans', sans-serif;font-size:4.7px;line-height:4.7px;font-weight:bold;color:#333;white-space:nowrap;">18</div>
<div style="right:353.30px;top:131.67px;font-family:'Liberation Sans', sans-serif;font-size:4.7px;line-height:4.7px;font-weight:bold;color:#333;white-space:nowrap;">0</div>
<div style="left:205.20px;top:131.77px;font-family:'Liberation Sans', sans-serif;font-size:4.5px;line-height:4.5px;font-weight:normal;color:#4a4a4a;white-space:nowrap;">TETRAN</div>
<div style="right:374.80px;top:137.19px;font-family:'Liberation Sans', sans-serif;font-size:4.7px;line-height:4.7px;font-weight:bold;color:#333;white-space:nowrap;">3</div>
<div style="right:363.80px;top:137.19px;font-family:'Liberation Sans', sans-serif;font-size:4.7px;line-height:4.7px;font-weight:bold;color:#333;white-space:nowrap;">21</div>
<div style="right:353.30px;top:137.19px;font-family:'Liberation Sans', sans-serif;font-size:4.7px;line-height:4.7px;font-weight:bold;color:#333;white-space:nowrap;">3</div>
<div style="left:205.20px;top:137.29px;font-family:'Liberation Sans', sans-serif;font-size:4.5px;line-height:4.5px;font-weight:normal;color:#4a4a4a;white-space:nowrap;">APLP2</div>
<div style="right:374.80px;top:142.71px;font-family:'Liberation Sans', sans-serif;font-size:4.7px;line-height:4.7px;font-weight:bold;color:#333;white-space:nowrap;">0</div>
<div style="right:363.80px;top:142.71px;font-family:'Liberation Sans', sans-serif;font-size:4.7px;line-height:4.7px;font-weight:bold;color:#333;white-space:nowrap;">12</div>
<div style="right:353.30px;top:142.71px;font-family:'Liberation Sans', sans-serif;font-size:4.7px;line-height:4.7px;font-weight:bold;color:#333;white-space:nowrap;">1</div>
<div style="left:205.20px;top:142.81px;font-family:'Liberation Sans', sans-serif;font-size:4.5px;line-height:4.5px;font-weight:normal;color:#4a4a4a;white-space:nowrap;">PRTN3</div>
<div style="right:374.80px;top:148.23px;font-family:'Liberation Sans', sans-serif;font-size:4.7px;line-height:4.7px;font-weight:bold;color:#333;white-space:nowrap;">0</div>
<div style="right:363.80px;top:148.23px;font-family:'Liberation Sans', sans-serif;font-size:4.7px;line-height:4.7px;font-weight:bold;color:#333;white-space:nowrap;">11</div>
<div style="right:353.30px;top:148.23px;font-family:'Liberation Sans', sans-serif;font-size:4.7px;line-height:4.7px;font-weight:bold;color:#333;white-space:nowrap;">2</div>
<div style="left:205.20px;top:148.33px;font-family:'Liberation Sans', sans-serif;font-size:4.5px;line-height:4.5px;font-weight:normal;color:#4a4a4a;white-space:nowrap;">CTSD</div>
<div style="right:374.80px;top:153.75px;font-family:'Liberation Sans', sans-serif;font-size:4.7px;line-height:4.7px;font-weight:bold;color:#333;white-space:nowrap;">2</div>
<div style="right:363.80px;top:153.75px;font-family:'Liberation Sans', sans-serif;font-size:4.7px;line-height:4.7px;font-weight:bold;color:#333;white-space:nowrap;">18</div>
<div style="right:353.30px;top:153.75px;font-family:'Liberation Sans', sans-serif;font-size:4.7px;line-height:4.7px;font-weight:bold;color:#333;white-space:nowrap;">3</div>
<div style="left:205.20px;top:153.85px;font-family:'Liberation Sans', sans-serif;font-size:4.5px;line-height:4.5px;font-weight:normal;color:#4a4a4a;white-space:nowrap;">TKT</div>
<div style="right:374.80px;top:159.27px;font-family:'Liberation Sans', sans-serif;font-size:4.7px;line-height:4.7px;font-weight:bold;color:#333;white-space:nowrap;">4</div>
<div style="right:363.80px;top:159.27px;font-family:'Liberation Sans', sans-serif;font-size:4.7px;line-height:4.7px;font-weight:bold;color:#333;white-space:nowrap;">22</div>
<div style="right:353.30px;top:159.27px;font-family:'Liberation Sans', sans-serif;font-size:4.7px;line-height:4.7px;font-weight:bold;color:#333;white-space:nowrap;">4</div>
<div style="left:205.20px;top:159.37px;font-family:'Liberation Sans', sans-serif;font-size:4.5px;line-height:4.5px;font-weight:normal;color:#4a4a4a;white-space:nowrap;">CORO1A</div>
<div style="right:374.80px;top:164.79px;font-family:'Liberation Sans', sans-serif;font-size:4.7px;line-height:4.7px;font-weight:bold;color:#333;white-space:nowrap;">1</div>
<div style="right:363.80px;top:164.79px;font-family:'Liberation Sans', sans-serif;font-size:4.7px;line-height:4.7px;font-weight:bold;color:#333;white-space:nowrap;">11</div>
<div style="right:353.30px;top:164.79px;font-family:'Liberation Sans', sans-serif;font-size:4.7px;line-height:4.7px;font-weight:bold;color:#333;white-space:nowrap;">4</div>
<div style="left:205.20px;top:164.89px;font-family:'Liberation Sans', sans-serif;font-size:4.5px;line-height:4.5px;font-weight:normal;color:#4a4a4a;white-space:nowrap;">COX7A2</div>
<div style="right:374.80px;top:170.31px;font-family:'Liberation Sans', sans-serif;font-size:4.7px;line-height:4.7px;font-weight:bold;color:#333;white-space:nowrap;">1</div>
<div style="right:363.80px;top:170.31px;font-family:'Liberation Sans', sans-serif;font-size:4.7px;line-height:4.7px;font-weight:bold;color:#333;white-space:nowrap;">13</div>
<div style="right:353.30px;top:170.31px;font-family:'Liberation Sans', sans-serif;font-size:4.7px;line-height:4.7px;font-weight:bold;color:#333;white-space:nowrap;">0</div>
<div style="left:205.20px;top:170.41px;font-family:'Liberation Sans', sans-serif;font-size:4.5px;line-height:4.5px;font-weight:normal;color:#4a4a4a;white-space:nowrap;">RBBP4</div>
<div style="right:374.80px;top:175.83px;font-family:'Liberation Sans', sans-serif;font-size:4.7px;line-height:4.7px;font-weight:bold;color:#333;white-space:nowrap;">0</div>
<div style="right:363.80px;top:175.83px;font-family:'Liberation Sans', sans-serif;font-size:4.7px;line-height:4.7px;font-weight:bold;color:#333;white-space:nowrap;">10</div>
<div style="right:353.30px;top:175.83px;font-family:'Liberation Sans', sans-serif;font-size:4.7px;line-height:4.7px;font-weight:bold;color:#333;white-space:nowrap;">1</div>
<div style="left:205.20px;top:175.93px;font-family:'Liberation Sans', sans-serif;font-size:4.5px;line-height:4.5px;font-weight:normal;color:#4a4a4a;white-space:nowrap;">ASL</div>
<div style="right:374.80px;top:181.35px;font-family:'Liberation Sans', sans-serif;font-size:4.7px;line-height:4.7px;font-weight:bold;color:#333;white-space:nowrap;">3</div>
<div style="right:363.80px;top:181.35px;font-family:'Liberation Sans', sans-serif;font-size:4.7px;line-height:4.7px;font-weight:bold;color:#333;white-space:nowrap;">14</div>
<div style="right:353.30px;top:181.35px;font-family:'Liberation Sans', sans-serif;font-size:4.7px;line-height:4.7px;font-weight:bold;color:#333;white-space:nowrap;">0</div>
<div style="left:205.20px;top:181.45px;font-family:'Liberation Sans', sans-serif;font-size:4.5px;line-height:4.5px;font-weight:normal;color:#4a4a4a;white-space:nowrap;">GC20</div>
<div style="right:374.80px;top:186.87px;font-family:'Liberation Sans', sans-serif;font-size:4.7px;line-height:4.7px;font-weight:bold;color:#333;white-space:nowrap;">0</div>
<div style="right:363.80px;top:186.87px;font-family:'Liberation Sans', sans-serif;font-size:4.7px;line-height:4.7px;font-weight:bold;color:#333;white-space:nowrap;">9</div>
<div style="right:353.30px;top:186.87px;font-family:'Liberation Sans', sans-serif;font-size:4.7px;line-height:4.7px;font-weight:bold;color:#333;white-space:nowrap;">0</div>
<div style="left:205.20px;top:186.97px;font-family:'Liberation Sans', sans-serif;font-size:4.5px;line-height:4.5px;font-weight:normal;color:#4a4a4a;white-space:nowrap;">OR51B4</div>
<div style="right:374.80px;top:192.39px;font-family:'Liberation Sans', sans-serif;font-size:4.7px;line-height:4.7px;font-weight:bold;color:#333;white-space:nowrap;">1</div>
<div style="right:363.80px;top:192.39px;font-family:'Liberation Sans', sans-serif;font-size:4.7px;line-height:4.7px;font-weight:bold;color:#333;white-space:nowrap;">11</div>
<div style="right:353.30px;top:192.39px;font-family:'Liberation Sans', sans-serif;font-size:4.7px;line-height:4.7px;font-weight:bold;color:#333;white-space:nowrap;">1</div>
<div style="left:205.20px;top:192.49px;font-family:'Liberation Sans', sans-serif;font-size:4.5px;line-height:4.5px;font-weight:normal;color:#4a4a4a;white-space:nowrap;">PKM2</div>
<div style="right:374.80px;top:197.91px;font-family:'Liberation Sans', sans-serif;font-size:4.7px;line-height:4.7px;font-weight:bold;color:#333;white-space:nowrap;">3</div>
<div style="right:363.80px;top:197.91px;font-family:'Liberation Sans', sans-serif;font-size:4.7px;line-height:4.7px;font-weight:bold;color:#333;white-space:nowrap;">15</div>
<div style="right:353.30px;top:197.91px;font-family:'Liberation Sans', sans-serif;font-size:4.7px;line-height:4.7px;font-weight:bold;color:#333;white-space:nowrap;">3</div>
<div style="left:205.20px;top:198.01px;font-family:'Liberation Sans', sans-serif;font-size:4.5px;line-height:4.5px;font-weight:normal;color:#4a4a4a;white-space:nowrap;">PSMB8</div>
<div style="right:374.80px;top:203.43px;font-family:'Liberation Sans', sans-serif;font-size:4.7px;line-height:4.7px;font-weight:bold;color:#333;white-space:nowrap;">0</div>
<div style="right:363.80px;top:203.43px;font-family:'Liberation Sans', sans-serif;font-size:4.7px;line-height:4.7px;font-weight:bold;color:#333;white-space:nowrap;">9</div>
<div style="right:353.30px;top:203.43px;font-family:'Liberation Sans', sans-serif;font-size:4.7px;line-height:4.7px;font-weight:bold;color:#333;white-space:nowrap;">2</div>
<div style="left:205.20px;top:203.53px;font-family:'Liberation Sans', sans-serif;font-size:4.5px;line-height:4.5px;font-weight:normal;color:#4a4a4a;white-space:nowrap;">EHD1</div>
<div style="right:374.80px;top:208.95px;font-family:'Liberation Sans', sans-serif;font-size:4.7px;line-height:4.7px;font-weight:bold;color:#333;white-space:nowrap;">0</div>
<div style="right:363.80px;top:208.95px;font-family:'Liberation Sans', sans-serif;font-size:4.7px;line-height:4.7px;font-weight:bold;color:#333;white-space:nowrap;">8</div>
<div style="right:353.30px;top:208.95px;font-family:'Liberation Sans', sans-serif;font-size:4.7px;line-height:4.7px;font-weight:bold;color:#333;white-space:nowrap;">0</div>
<div style="left:205.20px;top:209.05px;font-family:'Liberation Sans', sans-serif;font-size:4.5px;line-height:4.5px;font-weight:normal;color:#4a4a4a;white-space:nowrap;">POLR3K</div>
<div style="right:374.80px;top:214.47px;font-family:'Liberation Sans', sans-serif;font-size:4.7px;line-height:4.7px;font-weight:bold;color:#333;white-space:nowrap;">2</div>
<div style="right:363.80px;top:214.47px;font-family:'Liberation Sans', sans-serif;font-size:4.7px;line-height:4.7px;font-weight:bold;color:#333;white-space:nowrap;">12</div>
<div style="right:353.30px;top:214.47px;font-family:'Liberation Sans', sans-serif;font-size:4.7px;line-height:4.7px;font-weight:bold;color:#333;white-space:nowrap;">0</div>
<div style="left:205.20px;top:214.57px;font-family:'Liberation Sans', sans-serif;font-size:4.5px;line-height:4.5px;font-weight:normal;color:#4a4a4a;white-space:nowrap;">DGKZ</div>
<div style="right:374.80px;top:219.99px;font-family:'Liberation Sans', sans-serif;font-size:4.7px;line-height:4.7px;font-weight:bold;color:#333;white-space:nowrap;">0</div>
<div style="right:363.80px;top:219.99px;font-family:'Liberation Sans', sans-serif;font-size:4.7px;line-height:4.7px;font-weight:bold;color:#333;white-space:nowrap;">7</div>
<div style="right:353.30px;top:219.99px;font-family:'Liberation Sans', sans-serif;font-size:4.7px;line-height:4.7px;font-weight:bold;color:#333;white-space:nowrap;">1</div>
<div style="left:205.20px;top:220.09px;font-family:'Liberation Sans', sans-serif;font-size:4.5px;line-height:4.5px;font-weight:normal;color:#4a4a4a;white-space:nowrap;">CEBPB</div>
<div style="right:374.80px;top:225.51px;font-family:'Liberation Sans', sans-serif;font-size:4.7px;line-height:4.7px;font-weight:bold;color:#333;white-space:nowrap;">0</div>
<div style="right:363.80px;top:225.51px;font-family:'Liberation Sans', sans-serif;font-size:4.7px;line-height:4.7px;font-weight:bold;color:#333;white-space:nowrap;">7</div>
<div style="right:353.30px;top:225.51px;font-family:'Liberation Sans', sans-serif;font-size:4.7px;line-height:4.7px;font-weight:bold;color:#333;white-space:nowrap;">0</div>
<div style="left:205.20px;top:225.61px;font-family:'Liberation Sans', sans-serif;font-size:4.5px;line-height:4.5px;font-weight:normal;color:#4a4a4a;white-space:nowrap;">ALAS1</div>
<div style="right:374.80px;top:231.03px;font-family:'Liberation Sans', sans-serif;font-size:4.7px;line-height:4.7px;font-weight:bold;color:#333;white-space:nowrap;">6</div>
<div style="right:363.80px;top:231.03px;font-family:'Liberation Sans', sans-serif;font-size:4.7px;line-height:4.7px;font-weight:bold;color:#333;white-space:nowrap;">17</div>
<div style="right:353.30px;top:231.03px;font-family:'Liberation Sans', sans-serif;font-size:4.7px;line-height:4.7px;font-weight:bold;color:#333;white-space:nowrap;">0</div>
<div style="left:205.20px;top:231.13px;font-family:'Liberation Sans', sans-serif;font-size:4.5px;line-height:4.5px;font-weight:normal;color:#4a4a4a;white-space:nowrap;">PSMD7</div>
<div style="right:374.80px;top:236.55px;font-family:'Liberation Sans', sans-serif;font-size:4.7px;line-height:4.7px;font-weight:bold;color:#333;white-space:nowrap;">4</div>
<div style="right:363.80px;top:236.55px;font-family:'Liberation Sans', sans-serif;font-size:4.7px;line-height:4.7px;font-weight:bold;color:#333;white-space:nowrap;">14</div>
<div style="right:353.30px;top:236.55px;font-family:'Liberation Sans', sans-serif;font-size:4.7px;line-height:4.7px;font-weight:bold;color:#333;white-space:nowrap;">1</div>
<div style="left:205.20px;top:236.65px;font-family:'Liberation Sans', sans-serif;font-size:4.5px;line-height:4.5px;font-weight:normal;color:#4a4a4a;white-space:nowrap;">GARS</div>
<div style="right:374.80px;top:242.07px;font-family:'Liberation Sans', sans-serif;font-size:4.7px;line-height:4.7px;font-weight:bold;color:#333;white-space:nowrap;">1</div>
<div style="right:363.80px;top:242.07px;font-family:'Liberation Sans', sans-serif;font-size:4.7px;line-height:4.7px;font-weight:bold;color:#333;white-space:nowrap;">9</div>
<div style="right:353.30px;top:242.07px;font-family:'Liberation Sans', sans-serif;font-size:4.7px;line-height:4.7px;font-weight:bold;color:#333;white-space:nowrap;">0</div>
<div style="left:205.20px;top:242.17px;font-family:'Liberation Sans', sans-serif;font-size:4.5px;line-height:4.5px;font-weight:normal;color:#4a4a4a;white-space:nowrap;">TMEM4</div>
<div style="right:374.80px;top:247.59px;font-family:'Liberation Sans', sans-serif;font-size:4.7px;line-height:4.7px;font-weight:bold;color:#333;white-space:nowrap;">3</div>
<div style="right:363.80px;top:247.59px;font-family:'Liberation Sans', sans-serif;font-size:4.7px;line-height:4.7px;font-weight:bold;color:#333;white-space:nowrap;">12</div>
<div style="right:353.30px;top:247.59px;font-family:'Liberation Sans', sans-serif;font-size:4.7px;line-height:4.7px;font-weight:bold;color:#333;white-space:nowrap;">1</div>
<div style="left:205.20px;top:247.69px;font-family:'Liberation Sans', sans-serif;font-size:4.5px;line-height:4.5px;font-weight:normal;color:#4a4a4a;white-space:nowrap;">WARS</div>
<div style="right:374.80px;top:253.11px;font-family:'Liberation Sans', sans-serif;font-size:4.7px;line-height:4.7px;font-weight:bold;color:#333;white-space:nowrap;">0</div>
<div style="right:363.80px;top:253.11px;font-family:'Liberation Sans', sans-serif;font-size:4.7px;line-height:4.7px;font-weight:bold;color:#333;white-space:nowrap;">6</div>
<div style="right:353.30px;top:253.11px;font-family:'Liberation Sans', sans-serif;font-size:4.7px;line-height:4.7px;font-weight:bold;color:#333;white-space:nowrap;">0</div>
<div style="left:205.20px;top:253.21px;font-family:'Liberation Sans', sans-serif;font-size:4.5px;line-height:4.5px;font-weight:normal;color:#4a4a4a;white-space:nowrap;">DHPS</div>
<div style="right:374.80px;top:258.63px;font-family:'Liberation Sans', sans-serif;font-size:4.7px;line-height:4.7px;font-weight:bold;color:#333;white-space:nowrap;">0</div>
<div style="right:363.80px;top:258.63px;font-family:'Liberation Sans', sans-serif;font-size:4.7px;line-height:4.7px;font-weight:bold;color:#333;white-space:nowrap;">6</div>
<div style="right:353.30px;top:258.63px;font-family:'Liberation Sans', sans-serif;font-size:4.7px;line-height:4.7px;font-weight:bold;color:#333;white-space:nowrap;">0</div>
<div style="left:205.20px;top:258.73px;font-family:'Liberation Sans', sans-serif;font-size:4.5px;line-height:4.5px;font-weight:normal;color:#4a4a4a;white-space:nowrap;">MAZ</div>
<div style="right:374.80px;top:264.15px;font-family:'Liberation Sans', sans-serif;font-size:4.7px;line-height:4.7px;font-weight:bold;color:#333;white-space:nowrap;">0</div>
<div style="right:363.80px;top:264.15px;font-family:'Liberation Sans', sans-serif;font-size:4.7px;line-height:4.7px;font-weight:bold;color:#333;white-space:nowrap;">6</div>
<div style="right:353.30px;top:264.15px;font-family:'Liberation Sans', sans-serif;font-size:4.7px;line-height:4.7px;font-weight:bold;color:#333;white-space:nowrap;">0</div>
<div style="left:205.20px;top:264.25px;font-family:'Liberation Sans', sans-serif;font-size:4.5px;line-height:4.5px;font-weight:normal;color:#4a4a4a;white-space:nowrap;">RAB11B</div>
<div style="right:374.80px;top:269.67px;font-family:'Liberation Sans', sans-serif;font-size:4.7px;line-height:4.7px;font-weight:bold;color:#333;white-space:nowrap;">0</div>
<div style="right:363.80px;top:269.67px;font-family:'Liberation Sans', sans-serif;font-size:4.7px;line-height:4.7px;font-weight:bold;color:#333;white-space:nowrap;">6</div>
<div style="right:353.30px;top:269.67px;font-family:'Liberation Sans', sans-serif;font-size:4.7px;line-height:4.7px;font-weight:bold;color:#333;white-space:nowrap;">0</div>
<div style="left:205.20px;top:269.77px;font-family:'Liberation Sans', sans-serif;font-size:4.5px;line-height:4.5px;font-weight:normal;color:#4a4a4a;white-space:nowrap;">SUOX</div>
<div style="right:374.80px;top:275.19px;font-family:'Liberation Sans', sans-serif;font-size:4.7px;line-height:4.7px;font-weight:bold;color:#333;white-space:nowrap;">0</div>
<div style="right:363.80px;top:275.19px;font-family:'Liberation Sans', sans-serif;font-size:4.7px;line-height:4.7px;font-weight:bold;color:#333;white-space:nowrap;">6</div>
<div style="right:353.30px;top:275.19px;font-family:'Liberation Sans', sans-serif;font-size:4.7px;line-height:4.7px;font-weight:bold;color:#333;white-space:nowrap;">0</div>
<div style="left:205.20px;top:275.29px;font-family:'Liberation Sans', sans-serif;font-size:4.5px;line-height:4.5px;font-weight:normal;color:#4a4a4a;white-space:nowrap;">ITGB7</div>
<div style="right:374.80px;top:280.71px;font-family:'Liberation Sans', sans-serif;font-size:4.7px;line-height:4.7px;font-weight:bold;color:#333;white-space:nowrap;">3</div>
<div style="right:363.80px;top:280.71px;font-family:'Liberation Sans', sans-serif;font-size:4.7px;line-height:4.7px;font-weight:bold;color:#333;white-space:nowrap;">13</div>
<div style="right:353.30px;top:280.71px;font-family:'Liberation Sans', sans-serif;font-size:4.7px;line-height:4.7px;font-weight:bold;color:#333;white-space:nowrap;">4</div>
<div style="left:205.20px;top:280.81px;font-family:'Liberation Sans', sans-serif;font-size:4.5px;line-height:4.5px;font-weight:normal;color:#4a4a4a;white-space:nowrap;">GTF3A</div>
<div style="right:374.80px;top:286.23px;font-family:'Liberation Sans', sans-serif;font-size:4.7px;line-height:4.7px;font-weight:bold;color:#333;white-space:nowrap;">6</div>
<div style="right:363.80px;top:286.23px;font-family:'Liberation Sans', sans-serif;font-size:4.7px;line-height:4.7px;font-weight:bold;color:#333;white-space:nowrap;">17</div>
<div style="right:353.30px;top:286.23px;font-family:'Liberation Sans', sans-serif;font-size:4.7px;line-height:4.7px;font-weight:bold;color:#333;white-space:nowrap;">6</div>
<div style="left:205.20px;top:286.33px;font-family:'Liberation Sans', sans-serif;font-size:4.5px;line-height:4.5px;font-weight:normal;color:#4a4a4a;white-space:nowrap;">COX6B</div>
<div style="right:374.80px;top:291.75px;font-family:'Liberation Sans', sans-serif;font-size:4.7px;line-height:4.7px;font-weight:bold;color:#333;white-space:nowrap;">11</div>
<div style="right:363.80px;top:291.75px;font-family:'Liberation Sans', sans-serif;font-size:4.7px;line-height:4.7px;font-weight:bold;color:#333;white-space:nowrap;">23</div>
<div style="right:353.30px;top:291.75px;font-family:'Liberation Sans', sans-serif;font-size:4.7px;line-height:4.7px;font-weight:bold;color:#333;white-space:nowrap;">0</div>
<div style="left:205.20px;top:291.85px;font-family:'Liberation Sans', sans-serif;font-size:4.5px;line-height:4.5px;font-weight:normal;color:#4a4a4a;white-space:nowrap;">G1P2</div>
<div style="right:374.80px;top:297.27px;font-family:'Liberation Sans', sans-serif;font-size:4.7px;line-height:4.7px;font-weight:bold;color:#333;white-space:nowrap;">36</div>
<div style="right:363.80px;top:297.27px;font-family:'Liberation Sans', sans-serif;font-size:4.7px;line-height:4.7px;font-weight:bold;color:#333;white-space:nowrap;">41</div>
<div style="right:353.30px;top:297.27px;font-family:'Liberation Sans', sans-serif;font-size:4.7px;line-height:4.7px;font-weight:bold;color:#333;white-space:nowrap;">0</div>
<div style="left:205.20px;top:297.37px;font-family:'Liberation Sans', sans-serif;font-size:4.5px;line-height:4.5px;font-weight:normal;color:#4a4a4a;white-space:nowrap;">MIF</div>
<div style="right:374.80px;top:302.79px;font-family:'Liberation Sans', sans-serif;font-size:4.7px;line-height:4.7px;font-weight:bold;color:#333;white-space:nowrap;">5</div>
<div style="right:363.80px;top:302.79px;font-family:'Liberation Sans', sans-serif;font-size:4.7px;line-height:4.7px;font-weight:bold;color:#333;white-space:nowrap;">12</div>
<div style="right:353.30px;top:302.79px;font-family:'Liberation Sans', sans-serif;font-size:4.7px;line-height:4.7px;font-weight:bold;color:#333;white-space:nowrap;">0</div>
<div style="left:205.20px;top:302.89px;font-family:'Liberation Sans', sans-serif;font-size:4.5px;line-height:4.5px;font-weight:normal;color:#4a4a4a;white-space:nowrap;">IMPDH2</div>
<div style="right:374.80px;top:308.31px;font-family:'Liberation Sans', sans-serif;font-size:4.7px;line-height:4.7px;font-weight:bold;color:#333;white-space:nowrap;">3</div>
<div style="right:363.80px;top:308.31px;font-family:'Liberation Sans', sans-serif;font-size:4.7px;line-height:4.7px;font-weight:bold;color:#333;white-space:nowrap;">9</div>
<div style="right:353.30px;top:308.31px;font-family:'Liberation Sans', sans-serif;font-size:4.7px;line-height:4.7px;font-weight:bold;color:#333;white-space:nowrap;">0</div>
<div style="left:205.20px;top:308.41px;font-family:'Liberation Sans', sans-serif;font-size:4.5px;line-height:4.5px;font-weight:normal;color:#4a4a4a;white-space:nowrap;">BCCIP</div>
<div style="right:374.80px;top:313.83px;font-family:'Liberation Sans', sans-serif;font-size:4.7px;line-height:4.7px;font-weight:bold;color:#333;white-space:nowrap;">3</div>
<div style="right:363.80px;top:313.83px;font-family:'Liberation Sans', sans-serif;font-size:4.7px;line-height:4.7px;font-weight:bold;color:#333;white-space:nowrap;">8</div>
<div style="right:353.30px;top:313.83px;font-family:'Liberation Sans', sans-serif;font-size:4.7px;line-height:4.7px;font-weight:bold;color:#333;white-space:nowrap;">0</div>
<div style="left:205.20px;top:313.93px;font-family:'Liberation Sans', sans-serif;font-size:4.5px;line-height:4.5px;font-weight:normal;color:#4a4a4a;white-space:nowrap;">SFRS6</div>
<div style="right:374.80px;top:319.35px;font-family:'Liberation Sans', sans-serif;font-size:4.7px;line-height:4.7px;font-weight:bold;color:#333;white-space:nowrap;">3</div>
<div style="right:363.80px;top:319.35px;font-family:'Liberation Sans', sans-serif;font-size:4.7px;line-height:4.7px;font-weight:bold;color:#333;white-space:nowrap;">8</div>
<div style="right:353.30px;top:319.35px;font-family:'Liberation Sans', sans-serif;font-size:4.7px;line-height:4.7px;font-weight:bold;color:#333;white-space:nowrap;">0</div>
<div style="left:205.20px;top:319.45px;font-family:'Liberation Sans', sans-serif;font-size:4.5px;line-height:4.5px;font-weight:normal;color:#4a4a4a;white-space:nowrap;">HMGN3</div>
<div style="right:374.80px;top:324.87px;font-family:'Liberation Sans', sans-serif;font-size:4.7px;line-height:4.7px;font-weight:bold;color:#333;white-space:nowrap;">3</div>
<div style="right:363.80px;top:324.87px;font-family:'Liberation Sans', sans-serif;font-size:4.7px;line-height:4.7px;font-weight:bold;color:#333;white-space:nowrap;">7</div>
<div style="right:353.30px;top:324.87px;font-family:'Liberation Sans', sans-serif;font-size:4.7px;line-height:4.7px;font-weight:bold;color:#333;white-space:nowrap;">0</div>
<div style="left:205.20px;top:324.97px;font-family:'Liberation Sans', sans-serif;font-size:4.5px;line-height:4.5px;font-weight:normal;color:#4a4a4a;white-space:nowrap;">E2F4</div>
<div style="right:374.80px;top:330.39px;font-family:'Liberation Sans', sans-serif;font-size:4.7px;line-height:4.7px;font-weight:bold;color:#333;white-space:nowrap;">2</div>
<div style="right:363.80px;top:330.39px;font-family:'Liberation Sans', sans-serif;font-size:4.7px;line-height:4.7px;font-weight:bold;color:#333;white-space:nowrap;">10</div>
<div style="right:353.30px;top:330.39px;font-family:'Liberation Sans', sans-serif;font-size:4.7px;line-height:4.7px;font-weight:bold;color:#333;white-space:nowrap;">7</div>
<div style="left:205.20px;top:330.49px;font-family:'Liberation Sans', sans-serif;font-size:4.5px;line-height:4.5px;font-weight:normal;color:#4a4a4a;white-space:nowrap;">ARHGDIB</div>
<div style="right:374.80px;top:335.91px;font-family:'Liberation Sans', sans-serif;font-size:4.7px;line-height:4.7px;font-weight:bold;color:#333;white-space:nowrap;">1</div>
<div style="right:363.80px;top:335.91px;font-family:'Liberation Sans', sans-serif;font-size:4.7px;line-height:4.7px;font-weight:bold;color:#333;white-space:nowrap;">8</div>
<div style="right:353.30px;top:335.91px;font-family:'Liberation Sans', sans-serif;font-size:4.7px;line-height:4.7px;font-weight:bold;color:#333;white-space:nowrap;">2</div>
<div style="left:205.20px;top:336.01px;font-family:'Liberation Sans', sans-serif;font-size:4.5px;line-height:4.5px;font-weight:normal;color:#4a4a4a;white-space:nowrap;">CD9</div>
<div style="right:374.80px;top:341.43px;font-family:'Liberation Sans', sans-serif;font-size:4.7px;line-height:4.7px;font-weight:bold;color:#333;white-space:nowrap;">8</div>
<div style="right:363.80px;top:341.43px;font-family:'Liberation Sans', sans-serif;font-size:4.7px;line-height:4.7px;font-weight:bold;color:#333;white-space:nowrap;">19</div>
<div style="right:353.30px;top:341.43px;font-family:'Liberation Sans', sans-serif;font-size:4.7px;line-height:4.7px;font-weight:bold;color:#333;white-space:nowrap;">9</div>
<div style="left:205.20px;top:341.53px;font-family:'Liberation Sans', sans-serif;font-size:4.5px;line-height:4.5px;font-weight:normal;color:#4a4a4a;white-space:nowrap;">UBL5</div>
<div style="right:374.80px;top:346.95px;font-family:'Liberation Sans', sans-serif;font-size:4.7px;line-height:4.7px;font-weight:bold;color:#333;white-space:nowrap;">0</div>
<div style="right:363.80px;top:346.95px;font-family:'Liberation Sans', sans-serif;font-size:4.7px;line-height:4.7px;font-weight:bold;color:#333;white-space:nowrap;">5</div>
<div style="right:353.30px;top:346.95px;font-family:'Liberation Sans', sans-serif;font-size:4.7px;line-height:4.7px;font-weight:bold;color:#333;white-space:nowrap;">2</div>
<div style="left:205.20px;top:347.05px;font-family:'Liberation Sans', sans-serif;font-size:4.5px;line-height:4.5px;font-weight:normal;color:#4a4a4a;white-space:nowrap;">SEPW1</div>
<div style="right:374.80px;top:352.47px;font-family:'Liberation Sans', sans-serif;font-size:4.7px;line-height:4.7px;font-weight:bold;color:#333;white-space:nowrap;">0</div>
<div style="right:363.80px;top:352.47px;font-family:'Liberation Sans', sans-serif;font-size:4.7px;line-height:4.7px;font-weight:bold;color:#333;white-space:nowrap;">5</div>
<div style="right:353.30px;top:352.47px;font-family:'Liberation Sans', sans-serif;font-size:4.7px;line-height:4.7px;font-weight:bold;color:#333;white-space:nowrap;">1</div>
<div style="left:205.20px;top:352.57px;font-family:'Liberation Sans', sans-serif;font-size:4.5px;line-height:4.5px;font-weight:normal;color:#4a4a4a;white-space:nowrap;">TUBA1</div>
<div style="right:374.80px;top:357.99px;font-family:'Liberation Sans', sans-serif;font-size:4.7px;line-height:4.7px;font-weight:bold;color:#333;white-space:nowrap;">0</div>
<div style="right:363.80px;top:357.99px;font-family:'Liberation Sans', sans-serif;font-size:4.7px;line-height:4.7px;font-weight:bold;color:#333;white-space:nowrap;">5</div>
<div style="right:353.30px;top:357.99px;font-family:'Liberation Sans', sans-serif;font-size:4.7px;line-height:4.7px;font-weight:bold;color:#333;white-space:nowrap;">1</div>
<div style="left:205.20px;top:358.09px;font-family:'Liberation Sans', sans-serif;font-size:4.5px;line-height:4.5px;font-weight:normal;color:#4a4a4a;white-space:nowrap;">TUBA6</div>
<div style="right:374.80px;top:363.51px;font-family:'Liberation Sans', sans-serif;font-size:4.7px;line-height:4.7px;font-weight:bold;color:#333;white-space:nowrap;">1</div>
<div style="right:363.80px;top:363.51px;font-family:'Liberation Sans', sans-serif;font-size:4.7px;line-height:4.7px;font-weight:bold;color:#333;white-space:nowrap;">7</div>
<div style="right:353.30px;top:363.51px;font-family:'Liberation Sans', sans-serif;font-size:4.7px;line-height:4.7px;font-weight:bold;color:#333;white-space:nowrap;">2</div>
<div style="left:205.20px;top:363.61px;font-family:'Liberation Sans', sans-serif;font-size:4.5px;line-height:4.5px;font-weight:normal;color:#4a4a4a;white-space:nowrap;">SERPINB1</div>
<div style="right:374.80px;top:369.03px;font-family:'Liberation Sans', sans-serif;font-size:4.7px;line-height:4.7px;font-weight:bold;color:#333;white-space:nowrap;">0</div>
<div style="right:363.80px;top:369.03px;font-family:'Liberation Sans', sans-serif;font-size:4.7px;line-height:4.7px;font-weight:bold;color:#333;white-space:nowrap;">5</div>
<div style="right:353.30px;top:369.03px;font-family:'Liberation Sans', sans-serif;font-size:4.7px;line-height:4.7px;font-weight:bold;color:#333;white-space:nowrap;">0</div>
<div style="left:205.20px;top:369.13px;font-family:'Liberation Sans', sans-serif;font-size:4.5px;line-height:4.5px;font-weight:normal;color:#4a4a4a;white-space:nowrap;">UBE2M</div>
<div style="right:374.80px;top:374.55px;font-family:'Liberation Sans', sans-serif;font-size:4.7px;line-height:4.7px;font-weight:bold;color:#333;white-space:nowrap;">0</div>
<div style="right:363.80px;top:374.55px;font-family:'Liberation Sans', sans-serif;font-size:4.7px;line-height:4.7px;font-weight:bold;color:#333;white-space:nowrap;">5</div>
<div style="right:353.30px;top:374.55px;font-family:'Liberation Sans', sans-serif;font-size:4.7px;line-height:4.7px;font-weight:bold;color:#333;white-space:nowrap;">0</div>
<div style="left:205.20px;top:374.65px;font-family:'Liberation Sans', sans-serif;font-size:4.5px;line-height:4.5px;font-weight:normal;color:#4a4a4a;white-space:nowrap;">E2F1</div>
<div style="right:374.80px;top:380.07px;font-family:'Liberation Sans', sans-serif;font-size:4.7px;line-height:4.7px;font-weight:bold;color:#333;white-space:nowrap;">0</div>
<div style="right:363.80px;top:380.07px;font-family:'Liberation Sans', sans-serif;font-size:4.7px;line-height:4.7px;font-weight:bold;color:#333;white-space:nowrap;">5</div>
<div style="right:353.30px;top:380.07px;font-family:'Liberation Sans', sans-serif;font-size:4.7px;line-height:4.7px;font-weight:bold;color:#333;white-space:nowrap;">0</div>
<div style="left:205.20px;top:380.17px;font-family:'Liberation Sans', sans-serif;font-size:4.5px;line-height:4.5px;font-weight:normal;color:#4a4a4a;white-space:nowrap;">HIC1</div>
<div style="right:374.80px;top:385.59px;font-family:'Liberation Sans', sans-serif;font-size:4.7px;line-height:4.7px;font-weight:bold;color:#333;white-space:nowrap;">0</div>
<div style="right:363.80px;top:385.59px;font-family:'Liberation Sans', sans-serif;font-size:4.7px;line-height:4.7px;font-weight:bold;color:#333;white-space:nowrap;">5</div>
<div style="right:353.30px;top:385.59px;font-family:'Liberation Sans', sans-serif;font-size:4.7px;line-height:4.7px;font-weight:bold;color:#333;white-space:nowrap;">0</div>
<div style="left:205.20px;top:385.69px;font-family:'Liberation Sans', sans-serif;font-size:4.5px;line-height:4.5px;font-weight:normal;color:#4a4a4a;white-space:nowrap;">GNAT1</div>
<div style="right:374.80px;top:391.11px;font-family:'Liberation Sans', sans-serif;font-size:4.7px;line-height:4.7px;font-weight:bold;color:#333;white-space:nowrap;">0</div>
<div style="right:363.80px;top:391.11px;font-family:'Liberation Sans', sans-serif;font-size:4.7px;line-height:4.7px;font-weight:bold;color:#333;white-space:nowrap;">5</div>
<div style="right:353.30px;top:391.11px;font-family:'Liberation Sans', sans-serif;font-size:4.7px;line-height:4.7px;font-weight:bold;color:#333;white-space:nowrap;">0</div>
<div style="left:205.20px;top:391.21px;font-family:'Liberation Sans', sans-serif;font-size:4.5px;line-height:4.5px;font-weight:normal;color:#4a4a4a;white-space:nowrap;">LTB4R</div>
<div style="right:374.80px;top:396.63px;font-family:'Liberation Sans', sans-serif;font-size:4.7px;line-height:4.7px;font-weight:bold;color:#333;white-space:nowrap;">0</div>
<div style="right:363.80px;top:396.63px;font-family:'Liberation Sans', sans-serif;font-size:4.7px;line-height:4.7px;font-weight:bold;color:#333;white-space:nowrap;">5</div>
<div style="right:353.30px;top:396.63px;font-family:'Liberation Sans', sans-serif;font-size:4.7px;line-height:4.7px;font-weight:bold;color:#333;white-space:nowrap;">0</div>
<div style="left:205.20px;top:396.73px;font-family:'Liberation Sans', sans-serif;font-size:4.5px;line-height:4.5px;font-weight:normal;color:#4a4a4a;white-space:nowrap;">CCL2</div>
<div style="right:374.80px;top:402.15px;font-family:'Liberation Sans', sans-serif;font-size:4.7px;line-height:4.7px;font-weight:bold;color:#333;white-space:nowrap;">0</div>
<div style="right:363.80px;top:402.15px;font-family:'Liberation Sans', sans-serif;font-size:4.7px;line-height:4.7px;font-weight:bold;color:#333;white-space:nowrap;">5</div>
<div style="right:353.30px;top:402.15px;font-family:'Liberation Sans', sans-serif;font-size:4.7px;line-height:4.7px;font-weight:bold;color:#333;white-space:nowrap;">0</div>
<div style="left:205.20px;top:402.25px;font-family:'Liberation Sans', sans-serif;font-size:4.5px;line-height:4.5px;font-weight:normal;color:#4a4a4a;white-space:nowrap;">CCL7</div>
<div style="right:374.80px;top:407.67px;font-family:'Liberation Sans', sans-serif;font-size:4.7px;line-height:4.7px;font-weight:bold;color:#333;white-space:nowrap;">0</div>
<div style="right:363.80px;top:407.67px;font-family:'Liberation Sans', sans-serif;font-size:4.7px;line-height:4.7px;font-weight:bold;color:#333;white-space:nowrap;">5</div>
<div style="right:353.30px;top:407.67px;font-family:'Liberation Sans', sans-serif;font-size:4.7px;line-height:4.7px;font-weight:bold;color:#333;white-space:nowrap;">0</div>
<div style="left:205.20px;top:407.77px;font-family:'Liberation Sans', sans-serif;font-size:4.5px;line-height:4.5px;font-weight:normal;color:#4a4a4a;white-space:nowrap;">SLA</div>
<div style="right:374.80px;top:413.19px;font-family:'Liberation Sans', sans-serif;font-size:4.7px;line-height:4.7px;font-weight:bold;color:#333;white-space:nowrap;">1</div>
<div style="right:363.80px;top:413.19px;font-family:'Liberation Sans', sans-serif;font-size:4.7px;line-height:4.7px;font-weight:bold;color:#333;white-space:nowrap;">7</div>
<div style="right:353.30px;top:413.19px;font-family:'Liberation Sans', sans-serif;font-size:4.7px;line-height:4.7px;font-weight:bold;color:#333;white-space:nowrap;">0</div>
<div style="left:205.20px;top:413.29px;font-family:'Liberation Sans', sans-serif;font-size:4.5px;line-height:4.5px;font-weight:normal;color:#4a4a4a;white-space:nowrap;">PSMB2</div>
<div style="right:374.80px;top:418.71px;font-family:'Liberation Sans', sans-serif;font-size:4.7px;line-height:4.7px;font-weight:bold;color:#333;white-space:nowrap;">1</div>
<div style="right:363.80px;top:418.71px;font-family:'Liberation Sans', sans-serif;font-size:4.7px;line-height:4.7px;font-weight:bold;color:#333;white-space:nowrap;">7</div>
<div style="right:353.30px;top:418.71px;font-family:'Liberation Sans', sans-serif;font-size:4.7px;line-height:4.7px;font-weight:bold;color:#333;white-space:nowrap;">0</div>
<div style="left:205.20px;top:418.81px;font-family:'Liberation Sans', sans-serif;font-size:4.5px;line-height:4.5px;font-weight:normal;color:#4a4a4a;white-space:nowrap;">ANAPC5</div>
<div style="right:374.80px;top:424.23px;font-family:'Liberation Sans', sans-serif;font-size:4.7px;line-height:4.7px;font-weight:bold;color:#333;white-space:nowrap;">1</div>
<div style="right:363.80px;top:424.23px;font-family:'Liberation Sans', sans-serif;font-size:4.7px;line-height:4.7px;font-weight:bold;color:#333;white-space:nowrap;">7</div>
<div style="right:353.30px;top:424.23px;font-family:'Liberation Sans', sans-serif;font-size:4.7px;line-height:4.7px;font-weight:bold;color:#333;white-space:nowrap;">0</div>
<div style="left:205.20px;top:424.33px;font-family:'Liberation Sans', sans-serif;font-size:4.5px;line-height:4.5px;font-weight:normal;color:#4a4a4a;white-space:nowrap;">MTPN</div>
<div style="right:374.80px;top:429.75px;font-family:'Liberation Sans', sans-serif;font-size:4.7px;line-height:4.7px;font-weight:bold;color:#333;white-space:nowrap;">1</div>
<div style="right:363.80px;top:429.75px;font-family:'Liberation Sans', sans-serif;font-size:4.7px;line-height:4.7px;font-weight:bold;color:#333;white-space:nowrap;">7</div>
<div style="right:353.30px;top:429.75px;font-family:'Liberation Sans', sans-serif;font-size:4.7px;line-height:4.7px;font-weight:bold;color:#333;white-space:nowrap;">1</div>
<div style="left:205.20px;top:429.85px;font-family:'Liberation Sans', sans-serif;font-size:4.5px;line-height:4.5px;font-weight:normal;color:#4a4a4a;white-space:nowrap;">NCOA3</div>
<div style="right:374.80px;top:435.27px;font-family:'Liberation Sans', sans-serif;font-size:4.7px;line-height:4.7px;font-weight:bold;color:#333;white-space:nowrap;">2</div>
<div style="right:363.80px;top:435.27px;font-family:'Liberation Sans', sans-serif;font-size:4.7px;line-height:4.7px;font-weight:bold;color:#333;white-space:nowrap;">8</div>
<div style="right:353.30px;top:435.27px;font-family:'Liberation Sans', sans-serif;font-size:4.7px;line-height:4.7px;font-weight:bold;color:#333;white-space:nowrap;">1</div>
<div style="left:205.20px;top:435.37px;font-family:'Liberation Sans', sans-serif;font-size:4.5px;line-height:4.5px;font-weight:normal;color:#4a4a4a;white-space:nowrap;">CCL3</div>
<div style="right:374.80px;top:440.79px;font-family:'Liberation Sans', sans-serif;font-size:4.7px;line-height:4.7px;font-weight:bold;color:#333;white-space:nowrap;">1</div>
<div style="right:363.80px;top:440.79px;font-family:'Liberation Sans', sans-serif;font-size:4.7px;line-height:4.7px;font-weight:bold;color:#333;white-space:nowrap;">6</div>
<div style="right:353.30px;top:440.79px;font-family:'Liberation Sans', sans-serif;font-size:4.7px;line-height:4.7px;font-weight:bold;color:#333;white-space:nowrap;">0</div>
<div style="left:205.20px;top:440.89px;font-family:'Liberation Sans', sans-serif;font-size:4.5px;line-height:4.5px;font-weight:normal;color:#4a4a4a;white-space:nowrap;">ZMYND10</div>
<div style="right:374.80px;top:446.31px;font-family:'Liberation Sans', sans-serif;font-size:4.7px;line-height:4.7px;font-weight:bold;color:#333;white-space:nowrap;">0</div>
<div style="right:363.80px;top:446.31px;font-family:'Liberation Sans', sans-serif;font-size:4.7px;line-height:4.7px;font-weight:bold;color:#333;white-space:nowrap;">4</div>
<div style="right:353.30px;top:446.31px;font-family:'Liberation Sans', sans-serif;font-size:4.7px;line-height:4.7px;font-weight:bold;color:#333;white-space:nowrap;">1</div>
<div style="left:205.20px;top:446.41px;font-family:'Liberation Sans', sans-serif;font-size:4.5px;line-height:4.5px;font-weight:normal;color:#4a4a4a;white-space:nowrap;">MAPKAPK2</div>
<div style="right:374.80px;top:451.83px;font-family:'Liberation Sans', sans-serif;font-size:4.7px;line-height:4.7px;font-weight:bold;color:#333;white-space:nowrap;">0</div>
<div style="right:363.80px;top:451.83px;font-family:'Liberation Sans', sans-serif;font-size:4.7px;line-height:4.7px;font-weight:bold;color:#333;white-space:nowrap;">4</div>
<div style="right:353.30px;top:451.83px;font-family:'Liberation Sans', sans-serif;font-size:4.7px;line-height:4.7px;font-weight:bold;color:#333;white-space:nowrap;">1</div>
<div style="left:205.20px;top:451.93px;font-family:'Liberation Sans', sans-serif;font-size:4.5px;line-height:4.5px;font-weight:normal;color:#4a4a4a;white-space:nowrap;">NDRG1</div>
<div style="right:374.80px;top:457.35px;font-family:'Liberation Sans', sans-serif;font-size:4.7px;line-height:4.7px;font-weight:bold;color:#333;white-space:nowrap;">2</div>
<div style="right:363.80px;top:457.35px;font-family:'Liberation Sans', sans-serif;font-size:4.7px;line-height:4.7px;font-weight:bold;color:#333;white-space:nowrap;">8</div>
<div style="right:353.30px;top:457.35px;font-family:'Liberation Sans', sans-serif;font-size:4.7px;line-height:4.7px;font-weight:bold;color:#333;white-space:nowrap;">2</div>
<div style="left:205.20px;top:457.45px;font-family:'Liberation Sans', sans-serif;font-size:4.5px;line-height:4.5px;font-weight:normal;color:#4a4a4a;white-space:nowrap;">SEC61B</div>
<div style="right:374.80px;top:462.87px;font-family:'Liberation Sans', sans-serif;font-size:4.7px;line-height:4.7px;font-weight:bold;color:#333;white-space:nowrap;">2</div>
<div style="right:363.80px;top:462.87px;font-family:'Liberation Sans', sans-serif;font-size:4.7px;line-height:4.7px;font-weight:bold;color:#333;white-space:nowrap;">8</div>
<div style="right:353.30px;top:462.87px;font-family:'Liberation Sans', sans-serif;font-size:4.7px;line-height:4.7px;font-weight:bold;color:#333;white-space:nowrap;">3</div>
<div style="left:205.20px;top:462.97px;font-family:'Liberation Sans', sans-serif;font-size:4.5px;line-height:4.5px;font-weight:normal;color:#4a4a4a;white-space:nowrap;">PSMA7</div>
<div style="right:374.80px;top:468.39px;font-family:'Liberation Sans', sans-serif;font-size:4.7px;line-height:4.7px;font-weight:bold;color:#333;white-space:nowrap;">1</div>
<div style="right:363.80px;top:468.39px;font-family:'Liberation Sans', sans-serif;font-size:4.7px;line-height:4.7px;font-weight:bold;color:#333;white-space:nowrap;">8</div>
<div style="right:353.30px;top:468.39px;font-family:'Liberation Sans', sans-serif;font-size:4.7px;line-height:4.7px;font-weight:bold;color:#333;white-space:nowrap;">3</div>
<div style="left:205.20px;top:468.49px;font-family:'Liberation Sans', sans-serif;font-size:4.5px;line-height:4.5px;font-weight:normal;color:#4a4a4a;white-space:nowrap;">G0S2</div>
<div style="right:374.80px;top:473.91px;font-family:'Liberation Sans', sans-serif;font-size:4.7px;line-height:4.7px;font-weight:bold;color:#333;white-space:nowrap;">2</div>
<div style="right:363.80px;top:473.91px;font-family:'Liberation Sans', sans-serif;font-size:4.7px;line-height:4.7px;font-weight:bold;color:#333;white-space:nowrap;">3</div>
<div style="right:353.30px;top:473.91px;font-family:'Liberation Sans', sans-serif;font-size:4.7px;line-height:4.7px;font-weight:bold;color:#333;white-space:nowrap;">0</div>
<div style="left:205.20px;top:474.01px;font-family:'Liberation Sans', sans-serif;font-size:4.5px;line-height:4.5px;font-weight:normal;color:#4a4a4a;white-space:nowrap;">HOXA10</div>
<div style="right:374.80px;top:479.43px;font-family:'Liberation Sans', sans-serif;font-size:4.7px;line-height:4.7px;font-weight:bold;color:#333;white-space:nowrap;">0</div>
<div style="right:363.80px;top:479.43px;font-family:'Liberation Sans', sans-serif;font-size:4.7px;line-height:4.7px;font-weight:bold;color:#333;white-space:nowrap;">2</div>
<div style="right:353.30px;top:479.43px;font-family:'Liberation Sans', sans-serif;font-size:4.7px;line-height:4.7px;font-weight:bold;color:#333;white-space:nowrap;">0</div>
<div style="left:205.20px;top:479.53px;font-family:'Liberation Sans', sans-serif;font-size:4.5px;line-height:4.5px;font-weight:normal;color:#4a4a4a;white-space:nowrap;">SMARCA2</div>
<div style="right:374.80px;top:484.95px;font-family:'Liberation Sans', sans-serif;font-size:4.7px;line-height:4.7px;font-weight:bold;color:#333;white-space:nowrap;">0</div>
<div style="right:363.80px;top:484.95px;font-family:'Liberation Sans', sans-serif;font-size:4.7px;line-height:4.7px;font-weight:bold;color:#333;white-space:nowrap;">2</div>
<div style="right:353.30px;top:484.95px;font-family:'Liberation Sans', sans-serif;font-size:4.7px;line-height:4.7px;font-weight:bold;color:#333;white-space:nowrap;">0</div>
<div style="left:205.20px;top:485.05px;font-family:'Liberation Sans', sans-serif;font-size:4.5px;line-height:4.5px;font-weight:normal;color:#4a4a4a;white-space:nowrap;">CYP26A1</div>
<div style="right:374.80px;top:490.47px;font-family:'Liberation Sans', sans-serif;font-size:4.7px;line-height:4.7px;font-weight:bold;color:#333;white-space:nowrap;">1</div>
<div style="right:363.80px;top:490.47px;font-family:'Liberation Sans', sans-serif;font-size:4.7px;line-height:4.7px;font-weight:bold;color:#333;white-space:nowrap;">1</div>
<div style="right:353.30px;top:490.47px;font-family:'Liberation Sans', sans-serif;font-size:4.7px;line-height:4.7px;font-weight:bold;color:#333;white-space:nowrap;">0</div>
<div style="left:205.20px;top:490.57px;font-family:'Liberation Sans', sans-serif;font-size:4.5px;line-height:4.5px;font-weight:normal;color:#4a4a4a;white-space:nowrap;">HOXA1</div>
<div style="left:1.50px;top:79.00px;font-family:'Liberation Serif', serif;font-size:11px;line-height:11px;font-weight:bold;color:#000;white-space:nowrap;transform-origin:0 0;transform:rotate(-90deg)">UnT</div>
<div style="left:13.10px;top:79.00px;font-family:'Liberation Serif', serif;font-size:11px;line-height:11px;font-weight:bold;color:#000;white-space:nowrap;transform-origin:0 0;transform:rotate(-90deg)">Diff</div>
<div style="left:24.50px;top:79.00px;font-family:'Liberation Serif', serif;font-size:11px;line-height:11px;font-weight:bold;color:#000;white-space:nowrap;transform-origin:0 0;transform:rotate(-90deg)">PMN</div>
<div style="left:37.20px;top:79.00px;font-family:'Liberation Serif', serif;font-size:11px;line-height:11px;font-weight:bold;color:#000;white-space:nowrap;transform-origin:0 0;transform:rotate(-90deg)">Diff/UnT</div>
<div style="left:54.20px;top:79.00px;font-family:'Liberation Serif', serif;font-size:11px;line-height:11px;font-weight:bold;color:#000;white-space:nowrap;transform-origin:0 0;transform:rotate(-90deg)">PMN/UnT</div>
<div style="left:70.50px;top:79.00px;font-family:'Liberation Serif', serif;font-size:11px;line-height:11px;font-weight:bold;color:#000;white-space:nowrap;transform-origin:0 0;transform:rotate(-90deg)">HuGO</div>
<div style="left:137.65px;top:79.90px;font-family:'Liberation Serif', serif;font-size:10.7px;line-height:10.7px;font-weight:bold;color:#000;white-space:nowrap;transform-origin:0 0;transform:rotate(-90deg)">UnT</div>
<div style="left:149.55px;top:79.90px;font-family:'Liberation Serif', serif;font-size:10.7px;line-height:10.7px;font-weight:bold;color:#000;white-space:nowrap;transform-origin:0 0;transform:rotate(-90deg)">Diff</div>
<div style="left:160.45px;top:79.90px;font-family:'Liberation Serif', serif;font-size:10.7px;line-height:10.7px;font-weight:bold;color:#000;white-space:nowrap;transform-origin:0 0;transform:rotate(-90deg)">PMN</div>
<div style="left:173.85px;top:79.90px;font-family:'Liberation Serif', serif;font-size:10.7px;line-height:10.7px;font-weight:bold;color:#000;white-space:nowrap;transform-origin:0 0;transform:rotate(-90deg)">Diff/UnT</div>
<div style="left:191.05px;top:79.90px;font-family:'Liberation Serif', serif;font-size:10.7px;line-height:10.7px;font-weight:bold;color:#000;white-space:nowrap;transform-origin:0 0;transform:rotate(-90deg)">PMN/UnT</div>
<div style="left:208.15px;top:79.90px;font-family:'Liberation Serif', serif;font-size:10.7px;line-height:10.7px;font-weight:bold;color:#000;white-space:nowrap;transform-origin:0 0;transform:rotate(-90deg)">HuGO</div>
<div style="left:159.00px;top:500.00px;width:64.00px;height:9.00px;background:#fdfdf5"></div>
<div style="left:158.00px;top:510.40px;width:32.00px;height:8.33px;background:#e6fadc"></div>
<div style="left:190.00px;top:510.40px;width:33.00px;height:8.33px;background:#e6fadc"></div>
<div style="left:158.00px;top:518.73px;width:32.00px;height:8.33px;background:#fff200"></div>
<div style="left:190.00px;top:518.73px;width:33.00px;height:8.33px;background:#88f0ff"></div>
<div style="left:158.00px;top:527.06px;width:32.00px;height:8.33px;background:#f8c42a"></div>
<div style="left:190.00px;top:527.06px;width:33.00px;height:8.33px;background:#72c8fa"></div>
<div style="left:158.00px;top:535.39px;width:32.00px;height:8.33px;background:#f0a024"></div>
<div style="left:190.00px;top:535.39px;width:33.00px;height:8.33px;background:#4c64f2"></div>
<div style="left:158.00px;top:543.72px;width:32.00px;height:8.33px;background:#e6681c"></div>
<div style="left:190.00px;top:543.72px;width:33.00px;height:8.33px;background:#0000fa"></div>
<div style="left:158.00px;top:552.05px;width:32.00px;height:8.33px;background:#e60505"></div>
<div style="left:190.00px;top:552.05px;width:33.00px;height:8.33px;background:#000088"></div>
<div style="left:-69.50px;width:400px;text-align:center;top:511.25px;font-family:'Liberation Sans', sans-serif;font-size:7.5px;line-height:7.5px;font-weight:normal;color:#1a1a1a;white-space:nowrap;-webkit-text-stroke:0.12px;"><i>P</i>&gt;.05</div>
<div style="left:-69.50px;width:400px;text-align:center;top:519.50px;font-family:'Liberation Sans', sans-serif;font-size:7.5px;line-height:7.5px;font-weight:normal;color:#1a1a1a;white-space:nowrap;-webkit-text-stroke:0.12px;">.01&gt;<i>P</i>&gt;.05</div>
<div style="left:-69.50px;width:400px;text-align:center;top:527.75px;font-family:'Liberation Sans', sans-serif;font-size:7.5px;line-height:7.5px;font-weight:normal;color:#1a1a1a;white-space:nowrap;-webkit-text-stroke:0.12px;">.005&gt;<i>P</i>&gt;.01</div>
<div style="left:-69.50px;width:400px;text-align:center;top:536.00px;font-family:'Liberation Sans', sans-serif;font-size:7.5px;line-height:7.5px;font-weight:normal;color:#1a1a1a;white-space:nowrap;-webkit-text-stroke:0.12px;">.001&gt;<i>P</i>&gt;.005</div>
<div style="left:-69.50px;width:400px;text-align:center;top:544.25px;font-family:'Liberation Sans', sans-serif;font-size:7.5px;line-height:7.5px;font-weight:normal;color:#1a1a1a;white-space:nowrap;-webkit-text-stroke:0.12px;">.0001&gt;<i>P</i>&gt;.001</div>
<div style="left:-69.50px;width:400px;text-align:center;top:552.50px;font-family:'Liberation Sans', sans-serif;font-size:7.5px;line-height:7.5px;font-weight:normal;color:#1a1a1a;white-space:nowrap;-webkit-text-stroke:0.12px;"><i>P</i>&lt;.001</div>
<div style="left:-25.30px;width:400px;text-align:center;top:561.45px;font-family:'Liberation Serif', serif;font-size:6.5px;line-height:6.5px;font-weight:bold;color:#000;white-space:nowrap;">up-</div>
<div style="left:-25.30px;width:400px;text-align:center;top:570.05px;font-family:'Liberation Serif', serif;font-size:6.5px;line-height:6.5px;font-weight:bold;color:#000;white-space:nowrap;">regulated</div>
<div style="left:7.30px;width:400px;text-align:center;top:561.45px;font-family:'Liberation Serif', serif;font-size:6.5px;line-height:6.5px;font-weight:bold;color:#000;white-space:nowrap;">down-</div>
<div style="left:7.30px;width:400px;text-align:center;top:570.05px;font-family:'Liberation Serif', serif;font-size:6.5px;line-height:6.5px;font-weight:bold;color:#000;white-space:nowrap;">regulated</div>
<div style="left:272.50px;top:61.40px;width:1.15px;height:75.40px;background:#909090"></div>
<div style="left:272.40px;top:135.90px;width:73.60px;height:1.20px;background:#777"></div>
<div style="right:250.60px;top:133.10px;font-family:'Liberation Serif', serif;font-size:9.2px;line-height:9.2px;font-weight:normal;color:#000;white-space:nowrap;-webkit-text-stroke:0.15px;">0</div>
<div style="right:250.60px;top:118.34px;font-family:'Liberation Serif', serif;font-size:9.2px;line-height:9.2px;font-weight:normal;color:#000;white-space:nowrap;-webkit-text-stroke:0.15px;">20</div>
<div style="right:250.60px;top:103.58px;font-family:'Liberation Serif', serif;font-size:9.2px;line-height:9.2px;font-weight:normal;color:#000;white-space:nowrap;-webkit-text-stroke:0.15px;">40</div>
<div style="right:250.60px;top:88.82px;font-family:'Liberation Serif', serif;font-size:9.2px;line-height:9.2px;font-weight:normal;color:#000;white-space:nowrap;-webkit-text-stroke:0.15px;">60</div>
<div style="right:250.60px;top:74.06px;font-family:'Liberation Serif', serif;font-size:9.2px;line-height:9.2px;font-weight:normal;color:#000;white-space:nowrap;-webkit-text-stroke:0.15px;">80</div>
<div style="right:250.60px;top:59.30px;font-family:'Liberation Serif', serif;font-size:9.2px;line-height:9.2px;font-weight:normal;color:#000;white-space:nowrap;-webkit-text-stroke:0.15px;">100</div>
<div style="left:248.40px;top:98.60px;font-family:'Liberation Serif', serif;font-size:8.8px;line-height:8.8px;font-weight:bold;color:#000;white-space:nowrap;transform:translate(-50%,-50%) rotate(-90deg)">NBT positive cells (%)</div>
<div style="left:278.30px;top:100.88px;width:7.80px;height:35.42px;background:#555"></div>
<div style="left:279.10px;top:101.68px;width:6.20px;height:34.62px;background:#c4c4c4"></div>
<div style="left:286.10px;top:78.00px;width:7.80px;height:58.30px;background:#000"></div>
<div style="left:281.75px;top:99.40px;width:0.90px;height:2.95px;background:#222"></div>
<div style="left:279.80px;top:98.95px;width:4.80px;height:0.90px;background:#222"></div>
<div style="left:279.80px;top:101.90px;width:4.80px;height:0.90px;background:#222"></div>
<div style="left:289.55px;top:76.15px;width:0.90px;height:3.69px;background:#222"></div>
<div style="left:287.60px;top:75.70px;width:4.80px;height:0.90px;background:#222"></div>
<div style="left:287.60px;top:79.39px;width:4.80px;height:0.90px;background:#222"></div>
<div style="left:304.50px;top:112.68px;width:7.80px;height:23.62px;background:#555"></div>
<div style="left:305.30px;top:113.48px;width:6.20px;height:22.82px;background:#c4c4c4"></div>
<div style="left:312.30px;top:78.74px;width:7.80px;height:57.56px;background:#000"></div>
<div style="left:307.95px;top:111.21px;width:0.90px;height:2.95px;background:#222"></div>
<div style="left:306.00px;top:110.76px;width:4.80px;height:0.90px;background:#222"></div>
<div style="left:306.00px;top:113.71px;width:4.80px;height:0.90px;background:#222"></div>
<div style="left:315.75px;top:76.52px;width:0.90px;height:4.43px;background:#222"></div>
<div style="left:313.80px;top:76.07px;width:4.80px;height:0.90px;background:#222"></div>
<div style="left:313.80px;top:80.50px;width:4.80px;height:0.90px;background:#222"></div>
<div style="left:331.10px;top:127.44px;width:7.80px;height:8.86px;background:#555"></div>
<div style="left:331.90px;top:128.24px;width:6.20px;height:8.06px;background:#c4c4c4"></div>
<div style="left:338.90px;top:69.14px;width:7.80px;height:67.16px;background:#000"></div>
<div style="left:334.55px;top:125.60px;width:0.90px;height:3.69px;background:#222"></div>
<div style="left:332.60px;top:125.15px;width:4.80px;height:0.90px;background:#222"></div>
<div style="left:332.60px;top:128.84px;width:4.80px;height:0.90px;background:#222"></div>
<div style="left:342.35px;top:67.67px;width:0.90px;height:2.95px;background:#222"></div>
<div style="left:340.40px;top:67.22px;width:4.80px;height:0.90px;background:#222"></div>
<div style="left:340.40px;top:70.17px;width:4.80px;height:0.90px;background:#222"></div>
<div style="left:279.90px;top:156.60px;font-family:'Liberation Serif', serif;font-size:11px;line-height:11px;font-weight:bold;color:#000;white-space:nowrap;transform-origin:0 0;transform:rotate(-90deg)">Pt1</div>
<div style="left:306.50px;top:156.60px;font-family:'Liberation Serif', serif;font-size:11px;line-height:11px;font-weight:bold;color:#000;white-space:nowrap;transform-origin:0 0;transform:rotate(-90deg)">Pt2</div>
<div style="left:333.10px;top:156.60px;font-family:'Liberation Serif', serif;font-size:11px;line-height:11px;font-weight:bold;color:#000;white-space:nowrap;transform-origin:0 0;transform:rotate(-90deg)">Pt3</div>
<div style="left:281.10px;top:52.90px;width:3.90px;height:5.20px;background:#555"></div>
<div style="left:281.90px;top:53.70px;width:2.30px;height:3.60px;background:#c8c8c8"></div>
<div style="left:281.10px;top:63.10px;width:3.90px;height:5.20px;background:#000"></div>
<div style="left:286.30px;top:50.25px;font-family:'Liberation Sans', sans-serif;font-size:10.7px;line-height:10.7px;font-weight:normal;color:#000;white-space:nowrap;-webkit-text-stroke:0.15px;">3 days</div>
<div style="left:286.30px;top:59.65px;font-family:'Liberation Sans', sans-serif;font-size:10.7px;line-height:10.7px;font-weight:normal;color:#000;white-space:nowrap;-webkit-text-stroke:0.15px;">6 days</div>
<div style="left:285.00px;top:222.30px;width:22.65px;height:9.65px;background:#e00a0a"></div>
<div style="left:307.60px;top:222.30px;width:22.65px;height:9.65px;background:#e00a0a"></div>
<div style="left:330.20px;top:222.30px;width:22.65px;height:9.65px;background:#e00a0a"></div>
<div style="left:244.60px;top:224.15px;font-family:'Liberation Serif', serif;font-size:7.7px;line-height:7.7px;font-weight:normal;color:#303030;white-space:nowrap;-webkit-text-stroke:0.16px;">HIC1</div>
<div style="left:96.30px;width:400px;text-align:center;top:224.00px;font-family:'Liberation Serif', serif;font-size:8px;line-height:8px;font-weight:normal;color:#800808;white-space:nowrap;-webkit-text-stroke:0.16px;">2.31</div>
<div style="left:118.90px;width:400px;text-align:center;top:224.00px;font-family:'Liberation Serif', serif;font-size:8px;line-height:8px;font-weight:normal;color:#800808;white-space:nowrap;-webkit-text-stroke:0.16px;">2.20</div>
<div style="left:141.50px;width:400px;text-align:center;top:224.00px;font-family:'Liberation Serif', serif;font-size:8px;line-height:8px;font-weight:normal;color:#800808;white-space:nowrap;-webkit-text-stroke:0.16px;">3.18</div>
<div style="left:285.00px;top:231.90px;width:22.65px;height:9.65px;background:#e00a0a"></div>
<div style="left:307.60px;top:231.90px;width:22.65px;height:9.65px;background:#e00a0a"></div>
<div style="left:330.20px;top:231.90px;width:22.65px;height:9.65px;background:#e00a0a"></div>
<div style="left:244.60px;top:233.75px;font-family:'Liberation Serif', serif;font-size:7.7px;line-height:7.7px;font-weight:normal;color:#303030;white-space:nowrap;-webkit-text-stroke:0.16px;">NCF1</div>
<div style="left:96.30px;width:400px;text-align:center;top:233.60px;font-family:'Liberation Serif', serif;font-size:8px;line-height:8px;font-weight:normal;color:#800808;white-space:nowrap;-webkit-text-stroke:0.16px;">2.22</div>
<div style="left:118.90px;width:400px;text-align:center;top:233.60px;font-family:'Liberation Serif', serif;font-size:8px;line-height:8px;font-weight:normal;color:#800808;white-space:nowrap;-webkit-text-stroke:0.16px;">3.07</div>
<div style="left:141.50px;width:400px;text-align:center;top:233.60px;font-family:'Liberation Serif', serif;font-size:8px;line-height:8px;font-weight:normal;color:#800808;white-space:nowrap;-webkit-text-stroke:0.16px;">2.60</div>
<div style="left:285.00px;top:241.50px;width:22.65px;height:9.65px;background:#ec9a48"></div>
<div style="left:307.60px;top:241.50px;width:22.65px;height:9.65px;background:#e00a0a"></div>
<div style="left:330.20px;top:241.50px;width:22.65px;height:9.65px;background:#e00a0a"></div>
<div style="left:244.60px;top:243.35px;font-family:'Liberation Serif', serif;font-size:7.7px;line-height:7.7px;font-weight:normal;color:#303030;white-space:nowrap;-webkit-text-stroke:0.16px;">TNFAIP2</div>
<div style="left:96.30px;width:400px;text-align:center;top:243.20px;font-family:'Liberation Serif', serif;font-size:8px;line-height:8px;font-weight:normal;color:#222;white-space:nowrap;-webkit-text-stroke:0.16px;">1.31</div>
<div style="left:118.90px;width:400px;text-align:center;top:243.20px;font-family:'Liberation Serif', serif;font-size:8px;line-height:8px;font-weight:normal;color:#800808;white-space:nowrap;-webkit-text-stroke:0.16px;">2.30</div>
<div style="left:141.50px;width:400px;text-align:center;top:243.20px;font-family:'Liberation Serif', serif;font-size:8px;line-height:8px;font-weight:normal;color:#800808;white-space:nowrap;-webkit-text-stroke:0.16px;">2.15</div>
<div style="left:285.00px;top:251.10px;width:22.65px;height:9.65px;background:#ec9a48"></div>
<div style="left:307.60px;top:251.10px;width:22.65px;height:9.65px;background:#ec9a48"></div>
<div style="left:330.20px;top:251.10px;width:22.65px;height:9.65px;background:#ec9a48"></div>
<div style="left:244.60px;top:252.95px;font-family:'Liberation Serif', serif;font-size:7.7px;line-height:7.7px;font-weight:normal;color:#303030;white-space:nowrap;-webkit-text-stroke:0.16px;">PRAM1</div>
<div style="left:96.30px;width:400px;text-align:center;top:252.80px;font-family:'Liberation Serif', serif;font-size:8px;line-height:8px;font-weight:normal;color:#222;white-space:nowrap;-webkit-text-stroke:0.16px;">1.45</div>
<div style="left:118.90px;width:400px;text-align:center;top:252.80px;font-family:'Liberation Serif', serif;font-size:8px;line-height:8px;font-weight:normal;color:#222;white-space:nowrap;-webkit-text-stroke:0.16px;">1.42</div>
<div style="left:141.50px;width:400px;text-align:center;top:252.80px;font-family:'Liberation Serif', serif;font-size:8px;line-height:8px;font-weight:normal;color:#222;white-space:nowrap;-webkit-text-stroke:0.16px;">1.92</div>
<div style="left:285.00px;top:260.70px;width:22.65px;height:9.65px;background:#f5c32c"></div>
<div style="left:307.60px;top:260.70px;width:22.65px;height:9.65px;background:#ec9a48"></div>
<div style="left:330.20px;top:260.70px;width:22.65px;height:9.65px;background:#ec9a48"></div>
<div style="left:244.60px;top:262.55px;font-family:'Liberation Serif', serif;font-size:7.7px;line-height:7.7px;font-weight:normal;color:#303030;white-space:nowrap;-webkit-text-stroke:0.16px;">CEBPB</div>
<div style="left:96.30px;width:400px;text-align:center;top:262.40px;font-family:'Liberation Serif', serif;font-size:8px;line-height:8px;font-weight:normal;color:#222;white-space:nowrap;-webkit-text-stroke:0.16px;">0.97</div>
<div style="left:118.90px;width:400px;text-align:center;top:262.40px;font-family:'Liberation Serif', serif;font-size:8px;line-height:8px;font-weight:normal;color:#222;white-space:nowrap;-webkit-text-stroke:0.16px;">1.11</div>
<div style="left:141.50px;width:400px;text-align:center;top:262.40px;font-family:'Liberation Serif', serif;font-size:8px;line-height:8px;font-weight:normal;color:#222;white-space:nowrap;-webkit-text-stroke:0.16px;">1.55</div>
<div style="left:285.00px;top:270.30px;width:22.65px;height:9.65px;background:#f5c32c"></div>
<div style="left:307.60px;top:270.30px;width:22.65px;height:9.65px;background:#ec9a48"></div>
<div style="left:330.20px;top:270.30px;width:22.65px;height:9.65px;background:#ec9a48"></div>
<div style="left:244.60px;top:272.15px;font-family:'Liberation Serif', serif;font-size:7.7px;line-height:7.7px;font-weight:normal;color:#303030;white-space:nowrap;-webkit-text-stroke:0.16px;">CTSD</div>
<div style="left:96.30px;width:400px;text-align:center;top:272.00px;font-family:'Liberation Serif', serif;font-size:8px;line-height:8px;font-weight:normal;color:#222;white-space:nowrap;-webkit-text-stroke:0.16px;">0.72</div>
<div style="left:118.90px;width:400px;text-align:center;top:272.00px;font-family:'Liberation Serif', serif;font-size:8px;line-height:8px;font-weight:normal;color:#222;white-space:nowrap;-webkit-text-stroke:0.16px;">1.64</div>
<div style="left:141.50px;width:400px;text-align:center;top:272.00px;font-family:'Liberation Serif', serif;font-size:8px;line-height:8px;font-weight:normal;color:#222;white-space:nowrap;-webkit-text-stroke:0.16px;">1.15</div>
<div style="left:285.00px;top:279.90px;width:22.65px;height:9.65px;background:#fffab4"></div>
<div style="left:307.60px;top:279.90px;width:22.65px;height:9.65px;background:#ec9a48"></div>
<div style="left:330.20px;top:279.90px;width:22.65px;height:9.65px;background:#ec9a48"></div>
<div style="left:244.60px;top:281.75px;font-family:'Liberation Serif', serif;font-size:7.7px;line-height:7.7px;font-weight:normal;color:#303030;white-space:nowrap;-webkit-text-stroke:0.16px;">ID2</div>
<div style="left:96.30px;width:400px;text-align:center;top:281.60px;font-family:'Liberation Serif', serif;font-size:8px;line-height:8px;font-weight:normal;color:#222;white-space:nowrap;-webkit-text-stroke:0.16px;">0.42</div>
<div style="left:118.90px;width:400px;text-align:center;top:281.60px;font-family:'Liberation Serif', serif;font-size:8px;line-height:8px;font-weight:normal;color:#222;white-space:nowrap;-webkit-text-stroke:0.16px;">1.23</div>
<div style="left:141.50px;width:400px;text-align:center;top:281.60px;font-family:'Liberation Serif', serif;font-size:8px;line-height:8px;font-weight:normal;color:#222;white-space:nowrap;-webkit-text-stroke:0.16px;">1.07</div>
<div style="left:285.00px;top:289.50px;width:22.65px;height:9.65px;background:#f5c32c"></div>
<div style="left:307.60px;top:289.50px;width:22.65px;height:9.65px;background:#f5c32c"></div>
<div style="left:330.20px;top:289.50px;width:22.65px;height:9.65px;background:#f5c32c"></div>
<div style="left:244.60px;top:291.35px;font-family:'Liberation Serif', serif;font-size:7.7px;line-height:7.7px;font-weight:normal;color:#303030;white-space:nowrap;-webkit-text-stroke:0.16px;">IRF1</div>
<div style="left:96.30px;width:400px;text-align:center;top:291.20px;font-family:'Liberation Serif', serif;font-size:8px;line-height:8px;font-weight:normal;color:#222;white-space:nowrap;-webkit-text-stroke:0.16px;">0.71</div>
<div style="left:118.90px;width:400px;text-align:center;top:291.20px;font-family:'Liberation Serif', serif;font-size:8px;line-height:8px;font-weight:normal;color:#222;white-space:nowrap;-webkit-text-stroke:0.16px;">0.67</div>
<div style="left:141.50px;width:400px;text-align:center;top:291.20px;font-family:'Liberation Serif', serif;font-size:8px;line-height:8px;font-weight:normal;color:#222;white-space:nowrap;-webkit-text-stroke:0.16px;">0.78</div>
<div style="left:285.00px;top:299.10px;width:22.65px;height:9.65px;background:#e6f8d8"></div>
<div style="left:307.60px;top:299.10px;width:22.65px;height:9.65px;background:#f5c32c"></div>
<div style="left:330.20px;top:299.10px;width:22.65px;height:9.65px;background:#f5c32c"></div>
<div style="left:244.60px;top:300.95px;font-family:'Liberation Serif', serif;font-size:7.7px;line-height:7.7px;font-weight:normal;color:#303030;white-space:nowrap;-webkit-text-stroke:0.16px;">NDRG1</div>
<div style="left:96.30px;width:400px;text-align:center;top:300.80px;font-family:'Liberation Serif', serif;font-size:8px;line-height:8px;font-weight:normal;color:#222;white-space:nowrap;-webkit-text-stroke:0.16px;">0.07</div>
<div style="left:118.90px;width:400px;text-align:center;top:300.80px;font-family:'Liberation Serif', serif;font-size:8px;line-height:8px;font-weight:normal;color:#222;white-space:nowrap;-webkit-text-stroke:0.16px;">0.53</div>
<div style="left:141.50px;width:400px;text-align:center;top:300.80px;font-family:'Liberation Serif', serif;font-size:8px;line-height:8px;font-weight:normal;color:#222;white-space:nowrap;-webkit-text-stroke:0.16px;">0.78</div>
<div style="left:285.00px;top:308.70px;width:22.65px;height:9.65px;background:#e6f8d8"></div>
<div style="left:307.60px;top:308.70px;width:22.65px;height:9.65px;background:#f5c32c"></div>
<div style="left:330.20px;top:308.70px;width:22.65px;height:9.65px;background:#f5c32c"></div>
<div style="left:244.60px;top:310.55px;font-family:'Liberation Serif', serif;font-size:7.7px;line-height:7.7px;font-weight:normal;color:#303030;white-space:nowrap;-webkit-text-stroke:0.16px;">RARRES3</div>
<div style="left:96.30px;width:400px;text-align:center;top:310.40px;font-family:'Liberation Serif', serif;font-size:8px;line-height:8px;font-weight:normal;color:#222;white-space:nowrap;-webkit-text-stroke:0.16px;">0.18</div>
<div style="left:118.90px;width:400px;text-align:center;top:310.40px;font-family:'Liberation Serif', serif;font-size:8px;line-height:8px;font-weight:normal;color:#222;white-space:nowrap;-webkit-text-stroke:0.16px;">0.95</div>
<div style="left:141.50px;width:400px;text-align:center;top:310.40px;font-family:'Liberation Serif', serif;font-size:8px;line-height:8px;font-weight:normal;color:#222;white-space:nowrap;-webkit-text-stroke:0.16px;">0.78</div>
<div style="left:285.00px;top:382.50px;width:22.65px;height:9.69px;background:#e00a0a"></div>
<div style="left:307.60px;top:382.50px;width:22.65px;height:9.69px;background:#e00a0a"></div>
<div style="left:330.20px;top:382.50px;width:22.65px;height:9.69px;background:#e00a0a"></div>
<div style="left:244.60px;top:384.37px;font-family:'Liberation Serif', serif;font-size:7.7px;line-height:7.7px;font-weight:normal;color:#303030;white-space:nowrap;-webkit-text-stroke:0.16px;">DEFA4</div>
<div style="left:96.30px;width:400px;text-align:center;top:384.22px;font-family:'Liberation Serif', serif;font-size:8px;line-height:8px;font-weight:normal;color:#800808;white-space:nowrap;-webkit-text-stroke:0.16px;">2.13</div>
<div style="left:118.90px;width:400px;text-align:center;top:384.22px;font-family:'Liberation Serif', serif;font-size:8px;line-height:8px;font-weight:normal;color:#800808;white-space:nowrap;-webkit-text-stroke:0.16px;">2.13</div>
<div style="left:141.50px;width:400px;text-align:center;top:384.22px;font-family:'Liberation Serif', serif;font-size:8px;line-height:8px;font-weight:normal;color:#800808;white-space:nowrap;-webkit-text-stroke:0.16px;">2.23</div>
<div style="left:285.00px;top:392.14px;width:22.65px;height:9.69px;background:#ec9a48"></div>
<div style="left:307.60px;top:392.14px;width:22.65px;height:9.69px;background:#e00a0a"></div>
<div style="left:330.20px;top:392.14px;width:22.65px;height:9.69px;background:#e00a0a"></div>
<div style="left:244.60px;top:394.01px;font-family:'Liberation Serif', serif;font-size:7.7px;line-height:7.7px;font-weight:normal;color:#303030;white-space:nowrap;-webkit-text-stroke:0.16px;">CYP4F3</div>
<div style="left:96.30px;width:400px;text-align:center;top:393.86px;font-family:'Liberation Serif', serif;font-size:8px;line-height:8px;font-weight:normal;color:#222;white-space:nowrap;-webkit-text-stroke:0.16px;">1.78</div>
<div style="left:118.90px;width:400px;text-align:center;top:393.86px;font-family:'Liberation Serif', serif;font-size:8px;line-height:8px;font-weight:normal;color:#800808;white-space:nowrap;-webkit-text-stroke:0.16px;">2.32</div>
<div style="left:141.50px;width:400px;text-align:center;top:393.86px;font-family:'Liberation Serif', serif;font-size:8px;line-height:8px;font-weight:normal;color:#800808;white-space:nowrap;-webkit-text-stroke:0.16px;">2.03</div>
<div style="left:285.00px;top:401.78px;width:22.65px;height:9.69px;background:#ec9a48"></div>
<div style="left:307.60px;top:401.78px;width:22.65px;height:9.69px;background:#ec9a48"></div>
<div style="left:330.20px;top:401.78px;width:22.65px;height:9.69px;background:#ec9a48"></div>
<div style="left:244.60px;top:403.65px;font-family:'Liberation Serif', serif;font-size:7.7px;line-height:7.7px;font-weight:normal;color:#303030;white-space:nowrap;-webkit-text-stroke:0.16px;">ITGAM</div>
<div style="left:96.30px;width:400px;text-align:center;top:403.50px;font-family:'Liberation Serif', serif;font-size:8px;line-height:8px;font-weight:normal;color:#222;white-space:nowrap;-webkit-text-stroke:0.16px;">1.29</div>
<div style="left:118.90px;width:400px;text-align:center;top:403.50px;font-family:'Liberation Serif', serif;font-size:8px;line-height:8px;font-weight:normal;color:#222;white-space:nowrap;-webkit-text-stroke:0.16px;">1.30</div>
<div style="left:141.50px;width:400px;text-align:center;top:403.50px;font-family:'Liberation Serif', serif;font-size:8px;line-height:8px;font-weight:normal;color:#222;white-space:nowrap;-webkit-text-stroke:0.16px;">1.95</div>
<div style="left:285.00px;top:411.42px;width:22.65px;height:9.69px;background:#f5c32c"></div>
<div style="left:307.60px;top:411.42px;width:22.65px;height:9.69px;background:#ec9a48"></div>
<div style="left:330.20px;top:411.42px;width:22.65px;height:9.69px;background:#ec9a48"></div>
<div style="left:244.60px;top:413.29px;font-family:'Liberation Serif', serif;font-size:7.7px;line-height:7.7px;font-weight:normal;color:#303030;white-space:nowrap;-webkit-text-stroke:0.16px;">S100A9</div>
<div style="left:96.30px;width:400px;text-align:center;top:413.14px;font-family:'Liberation Serif', serif;font-size:8px;line-height:8px;font-weight:normal;color:#222;white-space:nowrap;-webkit-text-stroke:0.16px;">0.92</div>
<div style="left:118.90px;width:400px;text-align:center;top:413.14px;font-family:'Liberation Serif', serif;font-size:8px;line-height:8px;font-weight:normal;color:#222;white-space:nowrap;-webkit-text-stroke:0.16px;">1.07</div>
<div style="left:141.50px;width:400px;text-align:center;top:413.14px;font-family:'Liberation Serif', serif;font-size:8px;line-height:8px;font-weight:normal;color:#222;white-space:nowrap;-webkit-text-stroke:0.16px;">1.56</div>
<div style="left:285.00px;top:421.06px;width:22.65px;height:9.69px;background:#e6f8d8"></div>
<div style="left:307.60px;top:421.06px;width:22.65px;height:9.69px;background:#fffab4"></div>
<div style="left:330.20px;top:421.06px;width:22.65px;height:9.69px;background:#ec9a48"></div>
<div style="left:244.60px;top:422.93px;font-family:'Liberation Serif', serif;font-size:7.7px;line-height:7.7px;font-weight:normal;color:#303030;white-space:nowrap;-webkit-text-stroke:0.16px;">CAPN10</div>
<div style="left:96.30px;width:400px;text-align:center;top:422.78px;font-family:'Liberation Serif', serif;font-size:8px;line-height:8px;font-weight:normal;color:#222;white-space:nowrap;-webkit-text-stroke:0.16px;">0.14</div>
<div style="left:118.90px;width:400px;text-align:center;top:422.78px;font-family:'Liberation Serif', serif;font-size:8px;line-height:8px;font-weight:normal;color:#222;white-space:nowrap;-webkit-text-stroke:0.16px;">0.35</div>
<div style="left:141.50px;width:400px;text-align:center;top:422.78px;font-family:'Liberation Serif', serif;font-size:8px;line-height:8px;font-weight:normal;color:#222;white-space:nowrap;-webkit-text-stroke:0.16px;">1.51</div>
<div style="left:285.00px;top:430.70px;width:22.65px;height:9.69px;background:#e6f8d8"></div>
<div style="left:307.60px;top:430.70px;width:22.65px;height:9.69px;background:#f5c32c"></div>
<div style="left:330.20px;top:430.70px;width:22.65px;height:9.69px;background:#f5c32c"></div>
<div style="left:244.60px;top:432.57px;font-family:'Liberation Serif', serif;font-size:7.7px;line-height:7.7px;font-weight:normal;color:#303030;white-space:nowrap;-webkit-text-stroke:0.16px;">HLA-B</div>
<div style="left:96.30px;width:400px;text-align:center;top:432.42px;font-family:'Liberation Serif', serif;font-size:8px;line-height:8px;font-weight:normal;color:#222;white-space:nowrap;-webkit-text-stroke:0.16px;">0.09</div>
<div style="left:118.90px;width:400px;text-align:center;top:432.42px;font-family:'Liberation Serif', serif;font-size:8px;line-height:8px;font-weight:normal;color:#222;white-space:nowrap;-webkit-text-stroke:0.16px;">0.54</div>
<div style="left:141.50px;width:400px;text-align:center;top:432.42px;font-family:'Liberation Serif', serif;font-size:8px;line-height:8px;font-weight:normal;color:#222;white-space:nowrap;-webkit-text-stroke:0.16px;">0.90</div>
<div style="left:285.00px;top:440.34px;width:22.65px;height:9.69px;background:#e6f8d8"></div>
<div style="left:307.60px;top:440.34px;width:22.65px;height:9.69px;background:#f5c32c"></div>
<div style="left:330.20px;top:440.34px;width:22.65px;height:9.69px;background:#f5c32c"></div>
<div style="left:244.60px;top:442.21px;font-family:'Liberation Serif', serif;font-size:7.7px;line-height:7.7px;font-weight:normal;color:#303030;white-space:nowrap;-webkit-text-stroke:0.16px;">HLA-C</div>
<div style="left:96.30px;width:400px;text-align:center;top:442.06px;font-family:'Liberation Serif', serif;font-size:8px;line-height:8px;font-weight:normal;color:#222;white-space:nowrap;-webkit-text-stroke:0.16px;">0.19</div>
<div style="left:118.90px;width:400px;text-align:center;top:442.06px;font-family:'Liberation Serif', serif;font-size:8px;line-height:8px;font-weight:normal;color:#222;white-space:nowrap;-webkit-text-stroke:0.16px;">0.67</div>
<div style="left:141.50px;width:400px;text-align:center;top:442.06px;font-family:'Liberation Serif', serif;font-size:8px;line-height:8px;font-weight:normal;color:#222;white-space:nowrap;-webkit-text-stroke:0.16px;">0.74</div>
<div style="left:285.00px;top:449.98px;width:22.65px;height:9.69px;background:#e6f8d8"></div>
<div style="left:307.60px;top:449.98px;width:22.65px;height:9.69px;background:#f5c32c"></div>
<div style="left:330.20px;top:449.98px;width:22.65px;height:9.69px;background:#f5c32c"></div>
<div style="left:244.60px;top:451.85px;font-family:'Liberation Serif', serif;font-size:7.7px;line-height:7.7px;font-weight:normal;color:#303030;white-space:nowrap;-webkit-text-stroke:0.16px;">ICAM3</div>
<div style="left:96.30px;width:400px;text-align:center;top:451.70px;font-family:'Liberation Serif', serif;font-size:8px;line-height:8px;font-weight:normal;color:#222;white-space:nowrap;-webkit-text-stroke:0.16px;">0.19</div>
<div style="left:118.90px;width:400px;text-align:center;top:451.70px;font-family:'Liberation Serif', serif;font-size:8px;line-height:8px;font-weight:normal;color:#222;white-space:nowrap;-webkit-text-stroke:0.16px;">0.58</div>
<div style="left:141.50px;width:400px;text-align:center;top:451.70px;font-family:'Liberation Serif', serif;font-size:8px;line-height:8px;font-weight:normal;color:#222;white-space:nowrap;-webkit-text-stroke:0.16px;">0.52</div>
<div style="left:285.00px;top:459.62px;width:22.65px;height:9.69px;background:#f5c32c"></div>
<div style="left:307.60px;top:459.62px;width:22.65px;height:9.69px;background:#fffab4"></div>
<div style="left:330.20px;top:459.62px;width:22.65px;height:9.69px;background:#f5c32c"></div>
<div style="left:244.60px;top:461.49px;font-family:'Liberation Serif', serif;font-size:7.7px;line-height:7.7px;font-weight:normal;color:#303030;white-space:nowrap;-webkit-text-stroke:0.16px;">CCL2</div>
<div style="left:96.30px;width:400px;text-align:center;top:461.34px;font-family:'Liberation Serif', serif;font-size:8px;line-height:8px;font-weight:normal;color:#222;white-space:nowrap;-webkit-text-stroke:0.16px;">0.53</div>
<div style="left:118.90px;width:400px;text-align:center;top:461.34px;font-family:'Liberation Serif', serif;font-size:8px;line-height:8px;font-weight:normal;color:#222;white-space:nowrap;-webkit-text-stroke:0.16px;">0.45</div>
<div style="left:141.50px;width:400px;text-align:center;top:461.34px;font-family:'Liberation Serif', serif;font-size:8px;line-height:8px;font-weight:normal;color:#222;white-space:nowrap;-webkit-text-stroke:0.16px;">0.92</div>
<div style="left:285.00px;top:469.26px;width:22.65px;height:9.69px;background:#e6f8d8"></div>
<div style="left:307.60px;top:469.26px;width:22.65px;height:9.69px;background:#fffab4"></div>
<div style="left:330.20px;top:469.26px;width:22.65px;height:9.69px;background:#f5c32c"></div>
<div style="left:244.60px;top:471.13px;font-family:'Liberation Serif', serif;font-size:7.7px;line-height:7.7px;font-weight:normal;color:#303030;white-space:nowrap;-webkit-text-stroke:0.16px;">MPO</div>
<div style="left:96.30px;width:400px;text-align:center;top:470.98px;font-family:'Liberation Serif', serif;font-size:8px;line-height:8px;font-weight:normal;color:#222;white-space:nowrap;-webkit-text-stroke:0.16px;">0.09</div>
<div style="left:118.90px;width:400px;text-align:center;top:470.98px;font-family:'Liberation Serif', serif;font-size:8px;line-height:8px;font-weight:normal;color:#222;white-space:nowrap;-webkit-text-stroke:0.16px;">0.29</div>
<div style="left:141.50px;width:400px;text-align:center;top:470.98px;font-family:'Liberation Serif', serif;font-size:8px;line-height:8px;font-weight:normal;color:#222;white-space:nowrap;-webkit-text-stroke:0.16px;">0.90</div>
<div style="left:285.00px;top:478.90px;width:22.65px;height:9.69px;background:#e2f8ff"></div>
<div style="left:307.60px;top:478.90px;width:22.65px;height:9.69px;background:#e2f8ff"></div>
<div style="left:330.20px;top:478.90px;width:22.65px;height:9.69px;background:#f5c32c"></div>
<div style="left:244.60px;top:480.77px;font-family:'Liberation Serif', serif;font-size:7.7px;line-height:7.7px;font-weight:normal;color:#303030;white-space:nowrap;-webkit-text-stroke:0.16px;">SOD1</div>
<div style="left:96.30px;width:400px;text-align:center;top:480.62px;font-family:'Liberation Serif', serif;font-size:8px;line-height:8px;font-weight:normal;color:#222;white-space:nowrap;-webkit-text-stroke:0.16px;">-0.39</div>
<div style="left:118.90px;width:400px;text-align:center;top:480.62px;font-family:'Liberation Serif', serif;font-size:8px;line-height:8px;font-weight:normal;color:#222;white-space:nowrap;-webkit-text-stroke:0.16px;">-0.18</div>
<div style="left:141.50px;width:400px;text-align:center;top:480.62px;font-family:'Liberation Serif', serif;font-size:8px;line-height:8px;font-weight:normal;color:#222;white-space:nowrap;-webkit-text-stroke:0.16px;">0.64</div>
<div style="left:285.00px;top:488.54px;width:22.65px;height:9.69px;background:#4a70e8"></div>
<div style="left:307.60px;top:488.54px;width:22.65px;height:9.69px;background:#4a70e8"></div>
<div style="left:330.20px;top:488.54px;width:22.65px;height:9.69px;background:#f5c32c"></div>
<div style="left:244.60px;top:490.41px;font-family:'Liberation Serif', serif;font-size:7.7px;line-height:7.7px;font-weight:normal;color:#303030;white-space:nowrap;-webkit-text-stroke:0.16px;">CCL7</div>
<div style="left:96.30px;width:400px;text-align:center;top:490.26px;font-family:'Liberation Serif', serif;font-size:8px;line-height:8px;font-weight:normal;color:#1a2470;white-space:nowrap;-webkit-text-stroke:0.16px;">-1.29</div>
<div style="left:118.90px;width:400px;text-align:center;top:490.26px;font-family:'Liberation Serif', serif;font-size:8px;line-height:8px;font-weight:normal;color:#1a2470;white-space:nowrap;-webkit-text-stroke:0.16px;">-1.29</div>
<div style="left:141.50px;width:400px;text-align:center;top:490.26px;font-family:'Liberation Serif', serif;font-size:8px;line-height:8px;font-weight:normal;color:#222;white-space:nowrap;-webkit-text-stroke:0.16px;">0.62</div>
<div style="left:285.00px;top:498.18px;width:22.65px;height:9.69px;background:#fffab4"></div>
<div style="left:307.60px;top:498.18px;width:22.65px;height:9.69px;background:#f5c32c"></div>
<div style="left:330.20px;top:498.18px;width:22.65px;height:9.69px;background:#fffab4"></div>
<div style="left:244.60px;top:500.05px;font-family:'Liberation Serif', serif;font-size:7.7px;line-height:7.7px;font-weight:normal;color:#303030;white-space:nowrap;-webkit-text-stroke:0.16px;">FCER1G</div>
<div style="left:96.30px;width:400px;text-align:center;top:499.90px;font-family:'Liberation Serif', serif;font-size:8px;line-height:8px;font-weight:normal;color:#222;white-space:nowrap;-webkit-text-stroke:0.16px;">0.49</div>
<div style="left:118.90px;width:400px;text-align:center;top:499.90px;font-family:'Liberation Serif', serif;font-size:8px;line-height:8px;font-weight:normal;color:#222;white-space:nowrap;-webkit-text-stroke:0.16px;">0.63</div>
<div style="left:141.50px;width:400px;text-align:center;top:499.90px;font-family:'Liberation Serif', serif;font-size:8px;line-height:8px;font-weight:normal;color:#222;white-space:nowrap;-webkit-text-stroke:0.16px;">0.36</div>
<div style="left:285.00px;top:507.82px;width:22.65px;height:9.69px;background:#e6f8d8"></div>
<div style="left:307.60px;top:507.82px;width:22.65px;height:9.69px;background:#fffab4"></div>
<div style="left:330.20px;top:507.82px;width:22.65px;height:9.69px;background:#fffab4"></div>
<div style="left:244.60px;top:509.69px;font-family:'Liberation Serif', serif;font-size:7.7px;line-height:7.7px;font-weight:normal;color:#303030;white-space:nowrap;-webkit-text-stroke:0.16px;">TMSB10</div>
<div style="left:96.30px;width:400px;text-align:center;top:509.54px;font-family:'Liberation Serif', serif;font-size:8px;line-height:8px;font-weight:normal;color:#222;white-space:nowrap;-webkit-text-stroke:0.16px;">0.13</div>
<div style="left:118.90px;width:400px;text-align:center;top:509.54px;font-family:'Liberation Serif', serif;font-size:8px;line-height:8px;font-weight:normal;color:#222;white-space:nowrap;-webkit-text-stroke:0.16px;">0.21</div>
<div style="left:141.50px;width:400px;text-align:center;top:509.54px;font-family:'Liberation Serif', serif;font-size:8px;line-height:8px;font-weight:normal;color:#222;white-space:nowrap;-webkit-text-stroke:0.16px;">0.29</div>
<div style="left:285.00px;top:517.46px;width:22.65px;height:9.69px;background:#e6f8d8"></div>
<div style="left:307.60px;top:517.46px;width:22.65px;height:9.69px;background:#e6f8d8"></div>
<div style="left:330.20px;top:517.46px;width:22.65px;height:9.69px;background:#fffab4"></div>
<div style="left:244.60px;top:519.33px;font-family:'Liberation Serif', serif;font-size:7.7px;line-height:7.7px;font-weight:normal;color:#303030;white-space:nowrap;-webkit-text-stroke:0.16px;">MIF</div>
<div style="left:96.30px;width:400px;text-align:center;top:519.18px;font-family:'Liberation Serif', serif;font-size:8px;line-height:8px;font-weight:normal;color:#222;white-space:nowrap;-webkit-text-stroke:0.16px;">-0.04</div>
<div style="left:118.90px;width:400px;text-align:center;top:519.18px;font-family:'Liberation Serif', serif;font-size:8px;line-height:8px;font-weight:normal;color:#222;white-space:nowrap;-webkit-text-stroke:0.16px;">-0.03</div>
<div style="left:141.50px;width:400px;text-align:center;top:519.18px;font-family:'Liberation Serif', serif;font-size:8px;line-height:8px;font-weight:normal;color:#222;white-space:nowrap;-webkit-text-stroke:0.16px;">0.44</div>
<div style="left:285.00px;top:527.10px;width:22.65px;height:9.69px;background:#e2f8ff"></div>
<div style="left:307.60px;top:527.10px;width:22.65px;height:9.69px;background:#8cc8f5"></div>
<div style="left:330.20px;top:527.10px;width:22.65px;height:9.69px;background:#fffab4"></div>
<div style="left:244.60px;top:528.97px;font-family:'Liberation Serif', serif;font-size:7.7px;line-height:7.7px;font-weight:normal;color:#303030;white-space:nowrap;-webkit-text-stroke:0.16px;">VIM</div>
<div style="left:96.30px;width:400px;text-align:center;top:528.82px;font-family:'Liberation Serif', serif;font-size:8px;line-height:8px;font-weight:normal;color:#222;white-space:nowrap;-webkit-text-stroke:0.16px;">-0.24</div>
<div style="left:118.90px;width:400px;text-align:center;top:528.82px;font-family:'Liberation Serif', serif;font-size:8px;line-height:8px;font-weight:normal;color:#222;white-space:nowrap;-webkit-text-stroke:0.16px;">-0.98</div>
<div style="left:141.50px;width:400px;text-align:center;top:528.82px;font-family:'Liberation Serif', serif;font-size:8px;line-height:8px;font-weight:normal;color:#222;white-space:nowrap;-webkit-text-stroke:0.16px;">0.22</div>
<div style="left:285.00px;top:536.74px;width:22.65px;height:9.69px;background:#e6f8d8"></div>
<div style="left:307.60px;top:536.74px;width:22.65px;height:9.69px;background:#e2f8ff"></div>
<div style="left:330.20px;top:536.74px;width:22.65px;height:9.69px;background:#e6f8d8"></div>
<div style="left:244.60px;top:538.61px;font-family:'Liberation Serif', serif;font-size:7.7px;line-height:7.7px;font-weight:normal;color:#303030;white-space:nowrap;-webkit-text-stroke:0.16px;">FLT3</div>
<div style="left:96.30px;width:400px;text-align:center;top:538.46px;font-family:'Liberation Serif', serif;font-size:8px;line-height:8px;font-weight:normal;color:#222;white-space:nowrap;-webkit-text-stroke:0.16px;">-0.08</div>
<div style="left:118.90px;width:400px;text-align:center;top:538.46px;font-family:'Liberation Serif', serif;font-size:8px;line-height:8px;font-weight:normal;color:#222;white-space:nowrap;-webkit-text-stroke:0.16px;">-0.28</div>
<div style="left:141.50px;width:400px;text-align:center;top:538.46px;font-family:'Liberation Serif', serif;font-size:8px;line-height:8px;font-weight:normal;color:#222;white-space:nowrap;-webkit-text-stroke:0.16px;">0.15</div>
<div style="left:285.00px;top:546.38px;width:22.65px;height:9.69px;background:#8cc8f5"></div>
<div style="left:307.60px;top:546.38px;width:22.65px;height:9.69px;background:#e2f8ff"></div>
<div style="left:330.20px;top:546.38px;width:22.65px;height:9.69px;background:#e2f8ff"></div>
<div style="left:244.60px;top:548.25px;font-family:'Liberation Serif', serif;font-size:7.7px;line-height:7.7px;font-weight:normal;color:#303030;white-space:nowrap;-webkit-text-stroke:0.16px;">CTSG</div>
<div style="left:96.30px;width:400px;text-align:center;top:548.10px;font-family:'Liberation Serif', serif;font-size:8px;line-height:8px;font-weight:normal;color:#222;white-space:nowrap;-webkit-text-stroke:0.16px;">-0.52</div>
<div style="left:118.90px;width:400px;text-align:center;top:548.10px;font-family:'Liberation Serif', serif;font-size:8px;line-height:8px;font-weight:normal;color:#222;white-space:nowrap;-webkit-text-stroke:0.16px;">-0.34</div>
<div style="left:141.50px;width:400px;text-align:center;top:548.10px;font-family:'Liberation Serif', serif;font-size:8px;line-height:8px;font-weight:normal;color:#222;white-space:nowrap;-webkit-text-stroke:0.16px;">-0.44</div>
<div style="left:285.00px;top:556.02px;width:22.65px;height:9.69px;background:#0a0a90"></div>
<div style="left:307.60px;top:556.02px;width:22.65px;height:9.69px;background:#4a70e8"></div>
<div style="left:330.20px;top:556.02px;width:22.65px;height:9.69px;background:#0a0a90"></div>
<div style="left:244.60px;top:557.89px;font-family:'Liberation Serif', serif;font-size:7.7px;line-height:7.7px;font-weight:normal;color:#303030;white-space:nowrap;-webkit-text-stroke:0.16px;">C17</div>
<div style="left:96.30px;width:400px;text-align:center;top:557.74px;font-family:'Liberation Serif', serif;font-size:8px;line-height:8px;font-weight:normal;color:#ffffff;white-space:nowrap;-webkit-text-stroke:0.16px;">-2.90</div>
<div style="left:118.90px;width:400px;text-align:center;top:557.74px;font-family:'Liberation Serif', serif;font-size:8px;line-height:8px;font-weight:normal;color:#1a2470;white-space:nowrap;-webkit-text-stroke:0.16px;">-1.89</div>
<div style="left:141.50px;width:400px;text-align:center;top:557.74px;font-family:'Liberation Serif', serif;font-size:8px;line-height:8px;font-weight:normal;color:#ffffff;white-space:nowrap;-webkit-text-stroke:0.16px;">-3.75</div>
<div style="left:421.50px;top:63.80px;width:22.55px;height:9.55px;background:#f5c32c"></div>
<div style="left:444.00px;top:63.80px;width:22.55px;height:9.55px;background:#f5c32c"></div>
<div style="left:466.50px;top:63.80px;width:22.55px;height:9.55px;background:#ec9a48"></div>
<div style="left:381.80px;top:65.60px;font-family:'Liberation Serif', serif;font-size:7.7px;line-height:7.7px;font-weight:normal;color:#303030;white-space:nowrap;-webkit-text-stroke:0.16px;">SPI1</div>
<div style="left:232.75px;width:400px;text-align:center;top:65.45px;font-family:'Liberation Serif', serif;font-size:8px;line-height:8px;font-weight:normal;color:#222;white-space:nowrap;-webkit-text-stroke:0.16px;">0.50</div>
<div style="left:255.25px;width:400px;text-align:center;top:65.45px;font-family:'Liberation Serif', serif;font-size:8px;line-height:8px;font-weight:normal;color:#222;white-space:nowrap;-webkit-text-stroke:0.16px;">0.71</div>
<div style="left:277.75px;width:400px;text-align:center;top:65.45px;font-family:'Liberation Serif', serif;font-size:8px;line-height:8px;font-weight:normal;color:#222;white-space:nowrap;-webkit-text-stroke:0.16px;">1.33</div>
<div style="left:421.50px;top:73.30px;width:22.55px;height:9.55px;background:#f5c32c"></div>
<div style="left:444.00px;top:73.30px;width:22.55px;height:9.55px;background:#f5c32c"></div>
<div style="left:466.50px;top:73.30px;width:22.55px;height:9.55px;background:#ec9a48"></div>
<div style="left:381.80px;top:75.10px;font-family:'Liberation Serif', serif;font-size:7.7px;line-height:7.7px;font-weight:normal;color:#303030;white-space:nowrap;-webkit-text-stroke:0.16px;">NCOA3</div>
<div style="left:232.75px;width:400px;text-align:center;top:74.95px;font-family:'Liberation Serif', serif;font-size:8px;line-height:8px;font-weight:normal;color:#222;white-space:nowrap;-webkit-text-stroke:0.16px;">0.80</div>
<div style="left:255.25px;width:400px;text-align:center;top:74.95px;font-family:'Liberation Serif', serif;font-size:8px;line-height:8px;font-weight:normal;color:#222;white-space:nowrap;-webkit-text-stroke:0.16px;">0.71</div>
<div style="left:277.75px;width:400px;text-align:center;top:74.95px;font-family:'Liberation Serif', serif;font-size:8px;line-height:8px;font-weight:normal;color:#222;white-space:nowrap;-webkit-text-stroke:0.16px;">1.33</div>
<div style="left:421.50px;top:82.80px;width:22.55px;height:9.55px;background:#f5c32c"></div>
<div style="left:444.00px;top:82.80px;width:22.55px;height:9.55px;background:#f5c32c"></div>
<div style="left:466.50px;top:82.80px;width:22.55px;height:9.55px;background:#ec9a48"></div>
<div style="left:381.80px;top:84.60px;font-family:'Liberation Serif', serif;font-size:7.7px;line-height:7.7px;font-weight:normal;color:#303030;white-space:nowrap;-webkit-text-stroke:0.16px;">CREG</div>
<div style="left:232.75px;width:400px;text-align:center;top:84.45px;font-family:'Liberation Serif', serif;font-size:8px;line-height:8px;font-weight:normal;color:#222;white-space:nowrap;-webkit-text-stroke:0.16px;">0.71</div>
<div style="left:255.25px;width:400px;text-align:center;top:84.45px;font-family:'Liberation Serif', serif;font-size:8px;line-height:8px;font-weight:normal;color:#222;white-space:nowrap;-webkit-text-stroke:0.16px;">0.63</div>
<div style="left:277.75px;width:400px;text-align:center;top:84.45px;font-family:'Liberation Serif', serif;font-size:8px;line-height:8px;font-weight:normal;color:#222;white-space:nowrap;-webkit-text-stroke:0.16px;">1.08</div>
<div style="left:421.50px;top:92.30px;width:22.55px;height:9.55px;background:#fffab4"></div>
<div style="left:444.00px;top:92.30px;width:22.55px;height:9.55px;background:#fffab4"></div>
<div style="left:466.50px;top:92.30px;width:22.55px;height:9.55px;background:#ec9a48"></div>
<div style="left:381.80px;top:94.10px;font-family:'Liberation Serif', serif;font-size:7.7px;line-height:7.7px;font-weight:normal;color:#303030;white-space:nowrap;-webkit-text-stroke:0.16px;">CRABP2</div>
<div style="left:232.75px;width:400px;text-align:center;top:93.95px;font-family:'Liberation Serif', serif;font-size:8px;line-height:8px;font-weight:normal;color:#222;white-space:nowrap;-webkit-text-stroke:0.16px;">0.31</div>
<div style="left:255.25px;width:400px;text-align:center;top:93.95px;font-family:'Liberation Serif', serif;font-size:8px;line-height:8px;font-weight:normal;color:#222;white-space:nowrap;-webkit-text-stroke:0.16px;">0.21</div>
<div style="left:277.75px;width:400px;text-align:center;top:93.95px;font-family:'Liberation Serif', serif;font-size:8px;line-height:8px;font-weight:normal;color:#222;white-space:nowrap;-webkit-text-stroke:0.16px;">1.42</div>
<div style="left:421.50px;top:101.80px;width:22.55px;height:9.55px;background:#fffab4"></div>
<div style="left:444.00px;top:101.80px;width:22.55px;height:9.55px;background:#fffab4"></div>
<div style="left:466.50px;top:101.80px;width:22.55px;height:9.55px;background:#ec9a48"></div>
<div style="left:381.80px;top:103.60px;font-family:'Liberation Serif', serif;font-size:7.7px;line-height:7.7px;font-weight:normal;color:#303030;white-space:nowrap;-webkit-text-stroke:0.16px;">STAT6</div>
<div style="left:232.75px;width:400px;text-align:center;top:103.45px;font-family:'Liberation Serif', serif;font-size:8px;line-height:8px;font-weight:normal;color:#222;white-space:nowrap;-webkit-text-stroke:0.16px;">0.36</div>
<div style="left:255.25px;width:400px;text-align:center;top:103.45px;font-family:'Liberation Serif', serif;font-size:8px;line-height:8px;font-weight:normal;color:#222;white-space:nowrap;-webkit-text-stroke:0.16px;">0.25</div>
<div style="left:277.75px;width:400px;text-align:center;top:103.45px;font-family:'Liberation Serif', serif;font-size:8px;line-height:8px;font-weight:normal;color:#222;white-space:nowrap;-webkit-text-stroke:0.16px;">1.10</div>
<div style="left:421.50px;top:111.30px;width:22.55px;height:9.55px;background:#fffab4"></div>
<div style="left:444.00px;top:111.30px;width:22.55px;height:9.55px;background:#fffab4"></div>
<div style="left:466.50px;top:111.30px;width:22.55px;height:9.55px;background:#ec9a48"></div>
<div style="left:381.80px;top:113.10px;font-family:'Liberation Serif', serif;font-size:7.7px;line-height:7.7px;font-weight:normal;color:#303030;white-space:nowrap;-webkit-text-stroke:0.16px;">HDAC10</div>
<div style="left:232.75px;width:400px;text-align:center;top:112.95px;font-family:'Liberation Serif', serif;font-size:8px;line-height:8px;font-weight:normal;color:#222;white-space:nowrap;-webkit-text-stroke:0.16px;">0.46</div>
<div style="left:255.25px;width:400px;text-align:center;top:112.95px;font-family:'Liberation Serif', serif;font-size:8px;line-height:8px;font-weight:normal;color:#222;white-space:nowrap;-webkit-text-stroke:0.16px;">0.31</div>
<div style="left:277.75px;width:400px;text-align:center;top:112.95px;font-family:'Liberation Serif', serif;font-size:8px;line-height:8px;font-weight:normal;color:#222;white-space:nowrap;-webkit-text-stroke:0.16px;">1.00</div>
<div style="left:421.50px;top:120.80px;width:22.55px;height:9.55px;background:#e2f8ff"></div>
<div style="left:444.00px;top:120.80px;width:22.55px;height:9.55px;background:#fffab4"></div>
<div style="left:466.50px;top:120.80px;width:22.55px;height:9.55px;background:#ec9a48"></div>
<div style="left:381.80px;top:122.60px;font-family:'Liberation Serif', serif;font-size:7.7px;line-height:7.7px;font-weight:normal;color:#303030;white-space:nowrap;-webkit-text-stroke:0.16px;">BTBD14B</div>
<div style="left:232.75px;width:400px;text-align:center;top:122.45px;font-family:'Liberation Serif', serif;font-size:8px;line-height:8px;font-weight:normal;color:#222;white-space:nowrap;-webkit-text-stroke:0.16px;">0.05</div>
<div style="left:255.25px;width:400px;text-align:center;top:122.45px;font-family:'Liberation Serif', serif;font-size:8px;line-height:8px;font-weight:normal;color:#222;white-space:nowrap;-webkit-text-stroke:0.16px;">0.20</div>
<div style="left:277.75px;width:400px;text-align:center;top:122.45px;font-family:'Liberation Serif', serif;font-size:8px;line-height:8px;font-weight:normal;color:#222;white-space:nowrap;-webkit-text-stroke:0.16px;">1.06</div>
<div style="left:421.50px;top:130.30px;width:22.55px;height:9.55px;background:#fffab4"></div>
<div style="left:444.00px;top:130.30px;width:22.55px;height:9.55px;background:#f5c32c"></div>
<div style="left:466.50px;top:130.30px;width:22.55px;height:9.55px;background:#f5c32c"></div>
<div style="left:381.80px;top:132.10px;font-family:'Liberation Serif', serif;font-size:7.7px;line-height:7.7px;font-weight:normal;color:#303030;white-space:nowrap;-webkit-text-stroke:0.16px;">RAM2</div>
<div style="left:232.75px;width:400px;text-align:center;top:131.95px;font-family:'Liberation Serif', serif;font-size:8px;line-height:8px;font-weight:normal;color:#222;white-space:nowrap;-webkit-text-stroke:0.16px;">0.47</div>
<div style="left:255.25px;width:400px;text-align:center;top:131.95px;font-family:'Liberation Serif', serif;font-size:8px;line-height:8px;font-weight:normal;color:#222;white-space:nowrap;-webkit-text-stroke:0.16px;">0.51</div>
<div style="left:277.75px;width:400px;text-align:center;top:131.95px;font-family:'Liberation Serif', serif;font-size:8px;line-height:8px;font-weight:normal;color:#222;white-space:nowrap;-webkit-text-stroke:0.16px;">0.75</div>
<div style="left:421.50px;top:139.80px;width:22.55px;height:9.55px;background:#fffab4"></div>
<div style="left:444.00px;top:139.80px;width:22.55px;height:9.55px;background:#fffab4"></div>
<div style="left:466.50px;top:139.80px;width:22.55px;height:9.55px;background:#f5c32c"></div>
<div style="left:381.80px;top:141.60px;font-family:'Liberation Serif', serif;font-size:7.7px;line-height:7.7px;font-weight:normal;color:#303030;white-space:nowrap;-webkit-text-stroke:0.16px;">ZNF42</div>
<div style="left:232.75px;width:400px;text-align:center;top:141.45px;font-family:'Liberation Serif', serif;font-size:8px;line-height:8px;font-weight:normal;color:#222;white-space:nowrap;-webkit-text-stroke:0.16px;">0.44</div>
<div style="left:255.25px;width:400px;text-align:center;top:141.45px;font-family:'Liberation Serif', serif;font-size:8px;line-height:8px;font-weight:normal;color:#222;white-space:nowrap;-webkit-text-stroke:0.16px;">0.34</div>
<div style="left:277.75px;width:400px;text-align:center;top:141.45px;font-family:'Liberation Serif', serif;font-size:8px;line-height:8px;font-weight:normal;color:#222;white-space:nowrap;-webkit-text-stroke:0.16px;">0.70</div>
<div style="left:421.50px;top:149.30px;width:22.55px;height:9.55px;background:#fffab4"></div>
<div style="left:444.00px;top:149.30px;width:22.55px;height:9.55px;background:#fffab4"></div>
<div style="left:466.50px;top:149.30px;width:22.55px;height:9.55px;background:#f5c32c"></div>
<div style="left:381.80px;top:151.10px;font-family:'Liberation Serif', serif;font-size:7.7px;line-height:7.7px;font-weight:normal;color:#303030;white-space:nowrap;-webkit-text-stroke:0.16px;">HDAC3</div>
<div style="left:232.75px;width:400px;text-align:center;top:150.95px;font-family:'Liberation Serif', serif;font-size:8px;line-height:8px;font-weight:normal;color:#222;white-space:nowrap;-webkit-text-stroke:0.16px;">0.30</div>
<div style="left:255.25px;width:400px;text-align:center;top:150.95px;font-family:'Liberation Serif', serif;font-size:8px;line-height:8px;font-weight:normal;color:#222;white-space:nowrap;-webkit-text-stroke:0.16px;">0.25</div>
<div style="left:277.75px;width:400px;text-align:center;top:150.95px;font-family:'Liberation Serif', serif;font-size:8px;line-height:8px;font-weight:normal;color:#222;white-space:nowrap;-webkit-text-stroke:0.16px;">0.68</div>
<div style="left:421.50px;top:158.80px;width:22.55px;height:9.55px;background:#fffab4"></div>
<div style="left:444.00px;top:158.80px;width:22.55px;height:9.55px;background:#fffab4"></div>
<div style="left:466.50px;top:158.80px;width:22.55px;height:9.55px;background:#f5c32c"></div>
<div style="left:381.80px;top:160.60px;font-family:'Liberation Serif', serif;font-size:7.7px;line-height:7.7px;font-weight:normal;color:#303030;white-space:nowrap;-webkit-text-stroke:0.16px;">DEK</div>
<div style="left:232.75px;width:400px;text-align:center;top:160.45px;font-family:'Liberation Serif', serif;font-size:8px;line-height:8px;font-weight:normal;color:#222;white-space:nowrap;-webkit-text-stroke:0.16px;">0.20</div>
<div style="left:255.25px;width:400px;text-align:center;top:160.45px;font-family:'Liberation Serif', serif;font-size:8px;line-height:8px;font-weight:normal;color:#222;white-space:nowrap;-webkit-text-stroke:0.16px;">0.21</div>
<div style="left:277.75px;width:400px;text-align:center;top:160.45px;font-family:'Liberation Serif', serif;font-size:8px;line-height:8px;font-weight:normal;color:#222;white-space:nowrap;-webkit-text-stroke:0.16px;">0.52</div>
<div style="left:421.50px;top:168.30px;width:22.55px;height:9.55px;background:#e6f8d8"></div>
<div style="left:444.00px;top:168.30px;width:22.55px;height:9.55px;background:#fffab4"></div>
<div style="left:466.50px;top:168.30px;width:22.55px;height:9.55px;background:#f5c32c"></div>
<div style="left:381.80px;top:170.10px;font-family:'Liberation Serif', serif;font-size:7.7px;line-height:7.7px;font-weight:normal;color:#303030;white-space:nowrap;-webkit-text-stroke:0.16px;">MYB</div>
<div style="left:232.75px;width:400px;text-align:center;top:169.95px;font-family:'Liberation Serif', serif;font-size:8px;line-height:8px;font-weight:normal;color:#222;white-space:nowrap;-webkit-text-stroke:0.16px;">0.04</div>
<div style="left:255.25px;width:400px;text-align:center;top:169.95px;font-family:'Liberation Serif', serif;font-size:8px;line-height:8px;font-weight:normal;color:#222;white-space:nowrap;-webkit-text-stroke:0.16px;">0.27</div>
<div style="left:277.75px;width:400px;text-align:center;top:169.95px;font-family:'Liberation Serif', serif;font-size:8px;line-height:8px;font-weight:normal;color:#222;white-space:nowrap;-webkit-text-stroke:0.16px;">0.47</div>
<div style="left:421.50px;top:177.80px;width:22.55px;height:9.55px;background:#e6f8d8"></div>
<div style="left:444.00px;top:177.80px;width:22.55px;height:9.55px;background:#fffab4"></div>
<div style="left:466.50px;top:177.80px;width:22.55px;height:9.55px;background:#f5c32c"></div>
<div style="left:381.80px;top:179.60px;font-family:'Liberation Serif', serif;font-size:7.7px;line-height:7.7px;font-weight:normal;color:#303030;white-space:nowrap;-webkit-text-stroke:0.16px;">LYL1</div>
<div style="left:232.75px;width:400px;text-align:center;top:179.45px;font-family:'Liberation Serif', serif;font-size:8px;line-height:8px;font-weight:normal;color:#222;white-space:nowrap;-webkit-text-stroke:0.16px;">0.14</div>
<div style="left:255.25px;width:400px;text-align:center;top:179.45px;font-family:'Liberation Serif', serif;font-size:8px;line-height:8px;font-weight:normal;color:#222;white-space:nowrap;-webkit-text-stroke:0.16px;">0.43</div>
<div style="left:277.75px;width:400px;text-align:center;top:179.45px;font-family:'Liberation Serif', serif;font-size:8px;line-height:8px;font-weight:normal;color:#222;white-space:nowrap;-webkit-text-stroke:0.16px;">0.79</div>
<div style="left:421.50px;top:187.30px;width:22.55px;height:9.55px;background:#e6f8d8"></div>
<div style="left:444.00px;top:187.30px;width:22.55px;height:9.55px;background:#e6f8d8"></div>
<div style="left:466.50px;top:187.30px;width:22.55px;height:9.55px;background:#f5c32c"></div>
<div style="left:381.80px;top:189.10px;font-family:'Liberation Serif', serif;font-size:7.7px;line-height:7.7px;font-weight:normal;color:#303030;white-space:nowrap;-webkit-text-stroke:0.16px;">TP53</div>
<div style="left:232.75px;width:400px;text-align:center;top:188.95px;font-family:'Liberation Serif', serif;font-size:8px;line-height:8px;font-weight:normal;color:#222;white-space:nowrap;-webkit-text-stroke:0.16px;">0.03</div>
<div style="left:255.25px;width:400px;text-align:center;top:188.95px;font-family:'Liberation Serif', serif;font-size:8px;line-height:8px;font-weight:normal;color:#222;white-space:nowrap;-webkit-text-stroke:0.16px;">0.12</div>
<div style="left:277.75px;width:400px;text-align:center;top:188.95px;font-family:'Liberation Serif', serif;font-size:8px;line-height:8px;font-weight:normal;color:#222;white-space:nowrap;-webkit-text-stroke:0.16px;">0.62</div>
<div style="left:421.50px;top:196.80px;width:22.55px;height:9.55px;background:#e6f8d8"></div>
<div style="left:444.00px;top:196.80px;width:22.55px;height:9.55px;background:#e6f8d8"></div>
<div style="left:466.50px;top:196.80px;width:22.55px;height:9.55px;background:#f5c32c"></div>
<div style="left:381.80px;top:198.60px;font-family:'Liberation Serif', serif;font-size:7.7px;line-height:7.7px;font-weight:normal;color:#303030;white-space:nowrap;-webkit-text-stroke:0.16px;">CEBPA</div>
<div style="left:232.75px;width:400px;text-align:center;top:198.45px;font-family:'Liberation Serif', serif;font-size:8px;line-height:8px;font-weight:normal;color:#222;white-space:nowrap;-webkit-text-stroke:0.16px;">0.04</div>
<div style="left:255.25px;width:400px;text-align:center;top:198.45px;font-family:'Liberation Serif', serif;font-size:8px;line-height:8px;font-weight:normal;color:#222;white-space:nowrap;-webkit-text-stroke:0.16px;">-0.13</div>
<div style="left:277.75px;width:400px;text-align:center;top:198.45px;font-family:'Liberation Serif', serif;font-size:8px;line-height:8px;font-weight:normal;color:#222;white-space:nowrap;-webkit-text-stroke:0.16px;">0.76</div>
<div style="left:421.50px;top:206.30px;width:22.55px;height:9.55px;background:#8cc8f5"></div>
<div style="left:444.00px;top:206.30px;width:22.55px;height:9.55px;background:#e2f8ff"></div>
<div style="left:466.50px;top:206.30px;width:22.55px;height:9.55px;background:#f5c32c"></div>
<div style="left:381.80px;top:208.10px;font-family:'Liberation Serif', serif;font-size:7.7px;line-height:7.7px;font-weight:normal;color:#303030;white-space:nowrap;-webkit-text-stroke:0.16px;">HDAC11</div>
<div style="left:232.75px;width:400px;text-align:center;top:207.95px;font-family:'Liberation Serif', serif;font-size:8px;line-height:8px;font-weight:normal;color:#222;white-space:nowrap;-webkit-text-stroke:0.16px;">-0.56</div>
<div style="left:255.25px;width:400px;text-align:center;top:207.95px;font-family:'Liberation Serif', serif;font-size:8px;line-height:8px;font-weight:normal;color:#222;white-space:nowrap;-webkit-text-stroke:0.16px;">-0.29</div>
<div style="left:277.75px;width:400px;text-align:center;top:207.95px;font-family:'Liberation Serif', serif;font-size:8px;line-height:8px;font-weight:normal;color:#222;white-space:nowrap;-webkit-text-stroke:0.16px;">0.98</div>
<div style="left:421.50px;top:215.80px;width:22.55px;height:9.55px;background:#e6f8d8"></div>
<div style="left:444.00px;top:215.80px;width:22.55px;height:9.55px;background:#f5c32c"></div>
<div style="left:466.50px;top:215.80px;width:22.55px;height:9.55px;background:#fffab4"></div>
<div style="left:381.80px;top:217.60px;font-family:'Liberation Serif', serif;font-size:7.7px;line-height:7.7px;font-weight:normal;color:#303030;white-space:nowrap;-webkit-text-stroke:0.16px;">RAC2</div>
<div style="left:232.75px;width:400px;text-align:center;top:217.45px;font-family:'Liberation Serif', serif;font-size:8px;line-height:8px;font-weight:normal;color:#222;white-space:nowrap;-webkit-text-stroke:0.16px;">-0.09</div>
<div style="left:255.25px;width:400px;text-align:center;top:217.45px;font-family:'Liberation Serif', serif;font-size:8px;line-height:8px;font-weight:normal;color:#222;white-space:nowrap;-webkit-text-stroke:0.16px;">0.92</div>
<div style="left:277.75px;width:400px;text-align:center;top:217.45px;font-family:'Liberation Serif', serif;font-size:8px;line-height:8px;font-weight:normal;color:#222;white-space:nowrap;-webkit-text-stroke:0.16px;">0.32</div>
<div style="left:421.50px;top:225.30px;width:22.55px;height:9.55px;background:#e6f8d8"></div>
<div style="left:444.00px;top:225.30px;width:22.55px;height:9.55px;background:#e6f8d8"></div>
<div style="left:466.50px;top:225.30px;width:22.55px;height:9.55px;background:#fffab4"></div>
<div style="left:381.80px;top:227.10px;font-family:'Liberation Serif', serif;font-size:7.7px;line-height:7.7px;font-weight:normal;color:#303030;white-space:nowrap;-webkit-text-stroke:0.16px;">MAZ</div>
<div style="left:232.75px;width:400px;text-align:center;top:226.95px;font-family:'Liberation Serif', serif;font-size:8px;line-height:8px;font-weight:normal;color:#222;white-space:nowrap;-webkit-text-stroke:0.16px;">-0.15</div>
<div style="left:255.25px;width:400px;text-align:center;top:226.95px;font-family:'Liberation Serif', serif;font-size:8px;line-height:8px;font-weight:normal;color:#222;white-space:nowrap;-webkit-text-stroke:0.16px;">0.00</div>
<div style="left:277.75px;width:400px;text-align:center;top:226.95px;font-family:'Liberation Serif', serif;font-size:8px;line-height:8px;font-weight:normal;color:#222;white-space:nowrap;-webkit-text-stroke:0.16px;">0.45</div>
<div style="left:421.50px;top:234.80px;width:22.55px;height:9.55px;background:#8cc8f5"></div>
<div style="left:444.00px;top:234.80px;width:22.55px;height:9.55px;background:#e2f8ff"></div>
<div style="left:466.50px;top:234.80px;width:22.55px;height:9.55px;background:#e6f8d8"></div>
<div style="left:381.80px;top:236.60px;font-family:'Liberation Serif', serif;font-size:7.7px;line-height:7.7px;font-weight:normal;color:#303030;white-space:nowrap;-webkit-text-stroke:0.16px;">CDKN1A</div>
<div style="left:232.75px;width:400px;text-align:center;top:236.45px;font-family:'Liberation Serif', serif;font-size:8px;line-height:8px;font-weight:normal;color:#222;white-space:nowrap;-webkit-text-stroke:0.16px;">-0.51</div>
<div style="left:255.25px;width:400px;text-align:center;top:236.45px;font-family:'Liberation Serif', serif;font-size:8px;line-height:8px;font-weight:normal;color:#222;white-space:nowrap;-webkit-text-stroke:0.16px;">-0.49</div>
<div style="left:277.75px;width:400px;text-align:center;top:236.45px;font-family:'Liberation Serif', serif;font-size:8px;line-height:8px;font-weight:normal;color:#222;white-space:nowrap;-webkit-text-stroke:0.16px;">-0.05</div>
<div style="left:421.50px;top:244.30px;width:22.55px;height:9.55px;background:#4a70e8"></div>
<div style="left:444.00px;top:244.30px;width:22.55px;height:9.55px;background:#8cc8f5"></div>
<div style="left:466.50px;top:244.30px;width:22.55px;height:9.55px;background:#8cc8f5"></div>
<div style="left:381.80px;top:246.10px;font-family:'Liberation Serif', serif;font-size:7.7px;line-height:7.7px;font-weight:normal;color:#303030;white-space:nowrap;-webkit-text-stroke:0.16px;">MYC</div>
<div style="left:232.75px;width:400px;text-align:center;top:245.95px;font-family:'Liberation Serif', serif;font-size:8px;line-height:8px;font-weight:normal;color:#1a2470;white-space:nowrap;-webkit-text-stroke:0.16px;">-1.05</div>
<div style="left:255.25px;width:400px;text-align:center;top:245.95px;font-family:'Liberation Serif', serif;font-size:8px;line-height:8px;font-weight:normal;color:#222;white-space:nowrap;-webkit-text-stroke:0.16px;">-0.89</div>
<div style="left:277.75px;width:400px;text-align:center;top:245.95px;font-family:'Liberation Serif', serif;font-size:8px;line-height:8px;font-weight:normal;color:#222;white-space:nowrap;-webkit-text-stroke:0.16px;">-0.89</div>
<div style="left:421.70px;top:315.00px;width:22.65px;height:9.75px;background:#e00a0a"></div>
<div style="left:444.30px;top:315.00px;width:22.65px;height:9.75px;background:#ec9a48"></div>
<div style="left:466.90px;top:315.00px;width:22.65px;height:9.75px;background:#e6f8d8"></div>
<div style="left:382.20px;top:316.90px;font-family:'Liberation Serif', serif;font-size:7.7px;line-height:7.7px;font-weight:normal;color:#303030;white-space:nowrap;-webkit-text-stroke:0.16px;">CYP26A1</div>
<div style="left:233.00px;width:400px;text-align:center;top:316.75px;font-family:'Liberation Serif', serif;font-size:8px;line-height:8px;font-weight:normal;color:#800808;white-space:nowrap;-webkit-text-stroke:0.16px;">3.12</div>
<div style="left:255.60px;width:400px;text-align:center;top:316.75px;font-family:'Liberation Serif', serif;font-size:8px;line-height:8px;font-weight:normal;color:#222;white-space:nowrap;-webkit-text-stroke:0.16px;">1.84</div>
<div style="left:278.20px;width:400px;text-align:center;top:316.75px;font-family:'Liberation Serif', serif;font-size:8px;line-height:8px;font-weight:normal;color:#222;white-space:nowrap;-webkit-text-stroke:0.16px;">0.02</div>
<div style="left:421.70px;top:324.70px;width:22.65px;height:9.75px;background:#ec9a48"></div>
<div style="left:444.30px;top:324.70px;width:22.65px;height:9.75px;background:#e6f8d8"></div>
<div style="left:466.90px;top:324.70px;width:22.65px;height:9.75px;background:#e6f8d8"></div>
<div style="left:382.20px;top:326.60px;font-family:'Liberation Serif', serif;font-size:7.7px;line-height:7.7px;font-weight:normal;color:#303030;white-space:nowrap;-webkit-text-stroke:0.16px;">CYP26B1</div>
<div style="left:233.00px;width:400px;text-align:center;top:326.45px;font-family:'Liberation Serif', serif;font-size:8px;line-height:8px;font-weight:normal;color:#222;white-space:nowrap;-webkit-text-stroke:0.16px;">1.85</div>
<div style="left:255.60px;width:400px;text-align:center;top:326.45px;font-family:'Liberation Serif', serif;font-size:8px;line-height:8px;font-weight:normal;color:#222;white-space:nowrap;-webkit-text-stroke:0.16px;">0.06</div>
<div style="left:278.20px;width:400px;text-align:center;top:326.45px;font-family:'Liberation Serif', serif;font-size:8px;line-height:8px;font-weight:normal;color:#222;white-space:nowrap;-webkit-text-stroke:0.16px;">0.02</div>
<div style="left:421.70px;top:362.70px;width:22.65px;height:9.70px;background:#ec9a48"></div>
<div style="left:444.30px;top:362.70px;width:22.65px;height:9.70px;background:#f5c32c"></div>
<div style="left:466.90px;top:362.70px;width:22.65px;height:9.70px;background:#f5c32c"></div>
<div style="left:382.20px;top:364.57px;font-family:'Liberation Serif', serif;font-size:7.7px;line-height:7.7px;font-weight:normal;color:#303030;white-space:nowrap;-webkit-text-stroke:0.16px;">CXCR2</div>
<div style="left:233.00px;width:400px;text-align:center;top:364.42px;font-family:'Liberation Serif', serif;font-size:8px;line-height:8px;font-weight:normal;color:#222;white-space:nowrap;-webkit-text-stroke:0.16px;">1.43</div>
<div style="left:255.60px;width:400px;text-align:center;top:364.42px;font-family:'Liberation Serif', serif;font-size:8px;line-height:8px;font-weight:normal;color:#222;white-space:nowrap;-webkit-text-stroke:0.16px;">0.96</div>
<div style="left:278.20px;width:400px;text-align:center;top:364.42px;font-family:'Liberation Serif', serif;font-size:8px;line-height:8px;font-weight:normal;color:#222;white-space:nowrap;-webkit-text-stroke:0.16px;">0.80</div>
<div style="left:421.70px;top:372.35px;width:22.65px;height:9.70px;background:#f5c32c"></div>
<div style="left:444.30px;top:372.35px;width:22.65px;height:9.70px;background:#e6f8d8"></div>
<div style="left:466.90px;top:372.35px;width:22.65px;height:9.70px;background:#e2f8ff"></div>
<div style="left:382.20px;top:374.22px;font-family:'Liberation Serif', serif;font-size:7.7px;line-height:7.7px;font-weight:normal;color:#303030;white-space:nowrap;-webkit-text-stroke:0.16px;">CXCR1</div>
<div style="left:233.00px;width:400px;text-align:center;top:374.07px;font-family:'Liberation Serif', serif;font-size:8px;line-height:8px;font-weight:normal;color:#222;white-space:nowrap;-webkit-text-stroke:0.16px;">0.81</div>
<div style="left:255.60px;width:400px;text-align:center;top:374.07px;font-family:'Liberation Serif', serif;font-size:8px;line-height:8px;font-weight:normal;color:#222;white-space:nowrap;-webkit-text-stroke:0.16px;">0.20</div>
<div style="left:278.20px;width:400px;text-align:center;top:374.07px;font-family:'Liberation Serif', serif;font-size:8px;line-height:8px;font-weight:normal;color:#222;white-space:nowrap;-webkit-text-stroke:0.16px;">-0.30</div>
<div style="left:421.70px;top:382.00px;width:22.65px;height:9.70px;background:#fffab4"></div>
<div style="left:444.30px;top:382.00px;width:22.65px;height:9.70px;background:#e6f8d8"></div>
<div style="left:466.90px;top:382.00px;width:22.65px;height:9.70px;background:#e6f8d8"></div>
<div style="left:382.20px;top:383.87px;font-family:'Liberation Serif', serif;font-size:7.7px;line-height:7.7px;font-weight:normal;color:#303030;white-space:nowrap;-webkit-text-stroke:0.16px;">IL8</div>
<div style="left:233.00px;width:400px;text-align:center;top:383.72px;font-family:'Liberation Serif', serif;font-size:8px;line-height:8px;font-weight:normal;color:#222;white-space:nowrap;-webkit-text-stroke:0.16px;">0.21</div>
<div style="left:255.60px;width:400px;text-align:center;top:383.72px;font-family:'Liberation Serif', serif;font-size:8px;line-height:8px;font-weight:normal;color:#222;white-space:nowrap;-webkit-text-stroke:0.16px;">0.01</div>
<div style="left:278.20px;width:400px;text-align:center;top:383.72px;font-family:'Liberation Serif', serif;font-size:8px;line-height:8px;font-weight:normal;color:#222;white-space:nowrap;-webkit-text-stroke:0.16px;">0.09</div>
<div style="left:421.70px;top:391.65px;width:22.65px;height:9.70px;background:#fffab4"></div>
<div style="left:444.30px;top:391.65px;width:22.65px;height:9.70px;background:#fffab4"></div>
<div style="left:466.90px;top:391.65px;width:22.65px;height:9.70px;background:#e6f8d8"></div>
<div style="left:382.20px;top:393.52px;font-family:'Liberation Serif', serif;font-size:7.7px;line-height:7.7px;font-weight:normal;color:#303030;white-space:nowrap;-webkit-text-stroke:0.16px;">MNDA</div>
<div style="left:233.00px;width:400px;text-align:center;top:393.37px;font-family:'Liberation Serif', serif;font-size:8px;line-height:8px;font-weight:normal;color:#222;white-space:nowrap;-webkit-text-stroke:0.16px;">0.46</div>
<div style="left:255.60px;width:400px;text-align:center;top:393.37px;font-family:'Liberation Serif', serif;font-size:8px;line-height:8px;font-weight:normal;color:#222;white-space:nowrap;-webkit-text-stroke:0.16px;">0.49</div>
<div style="left:278.20px;width:400px;text-align:center;top:393.37px;font-family:'Liberation Serif', serif;font-size:8px;line-height:8px;font-weight:normal;color:#222;white-space:nowrap;-webkit-text-stroke:0.16px;">0.10</div>
<div style="left:421.70px;top:429.80px;width:22.65px;height:9.35px;background:#e6f8d8"></div>
<div style="left:444.30px;top:429.80px;width:22.65px;height:9.35px;background:#e6f8d8"></div>
<div style="left:466.90px;top:429.80px;width:22.65px;height:9.35px;background:#e6f8d8"></div>
<div style="left:382.20px;top:431.50px;font-family:'Liberation Serif', serif;font-size:7.7px;line-height:7.7px;font-weight:normal;color:#303030;white-space:nowrap;-webkit-text-stroke:0.16px;">GAPDH</div>
<div style="left:233.00px;width:400px;text-align:center;top:431.35px;font-family:'Liberation Serif', serif;font-size:8px;line-height:8px;font-weight:normal;color:#222;white-space:nowrap;-webkit-text-stroke:0.16px;">0.00</div>
<div style="left:255.60px;width:400px;text-align:center;top:431.35px;font-family:'Liberation Serif', serif;font-size:8px;line-height:8px;font-weight:normal;color:#222;white-space:nowrap;-webkit-text-stroke:0.16px;">0.00</div>
<div style="left:278.20px;width:400px;text-align:center;top:431.35px;font-family:'Liberation Serif', serif;font-size:8px;line-height:8px;font-weight:normal;color:#222;white-space:nowrap;-webkit-text-stroke:0.16px;">0.00</div>
<div style="left:421.70px;top:439.10px;width:22.65px;height:9.35px;background:#fffab4"></div>
<div style="left:444.30px;top:439.10px;width:22.65px;height:9.35px;background:#fffab4"></div>
<div style="left:466.90px;top:439.10px;width:22.65px;height:9.35px;background:#fffab4"></div>
<div style="left:382.20px;top:440.80px;font-family:'Liberation Serif', serif;font-size:7.7px;line-height:7.7px;font-weight:normal;color:#303030;white-space:nowrap;-webkit-text-stroke:0.16px;">ATP5E</div>
<div style="left:233.00px;width:400px;text-align:center;top:440.65px;font-family:'Liberation Serif', serif;font-size:8px;line-height:8px;font-weight:normal;color:#222;white-space:nowrap;-webkit-text-stroke:0.16px;">0.25</div>
<div style="left:255.60px;width:400px;text-align:center;top:440.65px;font-family:'Liberation Serif', serif;font-size:8px;line-height:8px;font-weight:normal;color:#222;white-space:nowrap;-webkit-text-stroke:0.16px;">0.49</div>
<div style="left:278.20px;width:400px;text-align:center;top:440.65px;font-family:'Liberation Serif', serif;font-size:8px;line-height:8px;font-weight:normal;color:#222;white-space:nowrap;-webkit-text-stroke:0.16px;">0.42</div>
<div style="left:421.70px;top:448.40px;width:22.65px;height:9.35px;background:#fffab4"></div>
<div style="left:444.30px;top:448.40px;width:22.65px;height:9.35px;background:#fffab4"></div>
<div style="left:466.90px;top:448.40px;width:22.65px;height:9.35px;background:#fffab4"></div>
<div style="left:382.20px;top:450.10px;font-family:'Liberation Serif', serif;font-size:7.7px;line-height:7.7px;font-weight:normal;color:#303030;white-space:nowrap;-webkit-text-stroke:0.16px;">RPS19</div>
<div style="left:233.00px;width:400px;text-align:center;top:449.95px;font-family:'Liberation Serif', serif;font-size:8px;line-height:8px;font-weight:normal;color:#222;white-space:nowrap;-webkit-text-stroke:0.16px;">0.27</div>
<div style="left:255.60px;width:400px;text-align:center;top:449.95px;font-family:'Liberation Serif', serif;font-size:8px;line-height:8px;font-weight:normal;color:#222;white-space:nowrap;-webkit-text-stroke:0.16px;">0.33</div>
<div style="left:278.20px;width:400px;text-align:center;top:449.95px;font-family:'Liberation Serif', serif;font-size:8px;line-height:8px;font-weight:normal;color:#222;white-space:nowrap;-webkit-text-stroke:0.16px;">0.31</div>
<div style="left:291.55px;top:216.40px;font-family:'Liberation Serif', serif;font-size:10.5px;line-height:10.5px;font-weight:bold;color:#000;white-space:nowrap;transform-origin:0 0;transform:rotate(-90deg)">Pt1</div>
<div style="left:313.15px;top:216.40px;font-family:'Liberation Serif', serif;font-size:10.5px;line-height:10.5px;font-weight:bold;color:#000;white-space:nowrap;transform-origin:0 0;transform:rotate(-90deg)">Pt2</div>
<div style="left:334.95px;top:216.40px;font-family:'Liberation Serif', serif;font-size:10.5px;line-height:10.5px;font-weight:bold;color:#000;white-space:nowrap;transform-origin:0 0;transform:rotate(-90deg)">Pt3</div>
<div style="left:430.55px;top:57.20px;font-family:'Liberation Serif', serif;font-size:10.5px;line-height:10.5px;font-weight:bold;color:#000;white-space:nowrap;transform-origin:0 0;transform:rotate(-90deg)">Pt1</div>
<div style="left:449.75px;top:57.20px;font-family:'Liberation Serif', serif;font-size:10.5px;line-height:10.5px;font-weight:bold;color:#000;white-space:nowrap;transform-origin:0 0;transform:rotate(-90deg)">Pt2</div>
<div style="left:474.25px;top:57.20px;font-family:'Liberation Serif', serif;font-size:10.5px;line-height:10.5px;font-weight:bold;color:#000;white-space:nowrap;transform-origin:0 0;transform:rotate(-90deg)">Pt3</div>
<div style="left:429.75px;top:309.10px;font-family:'Liberation Serif', serif;font-size:10.5px;line-height:10.5px;font-weight:bold;color:#000;white-space:nowrap;transform-origin:0 0;transform:rotate(-90deg)">Pt1</div>
<div style="left:450.15px;top:309.10px;font-family:'Liberation Serif', serif;font-size:10.5px;line-height:10.5px;font-weight:bold;color:#000;white-space:nowrap;transform-origin:0 0;transform:rotate(-90deg)">Pt2</div>
<div style="left:473.75px;top:309.10px;font-family:'Liberation Serif', serif;font-size:10.5px;line-height:10.5px;font-weight:bold;color:#000;white-space:nowrap;transform-origin:0 0;transform:rotate(-90deg)">Pt3</div>
<div style="left:361.10px;top:271.10px;font-family:'Liberation Serif', serif;font-size:8.7px;line-height:8.7px;font-weight:bold;color:#000;white-space:nowrap;transform:translate(-50%,-50%) rotate(90deg)">ATRA targets</div>
<div style="left:361.00px;top:469.60px;font-family:'Liberation Serif', serif;font-size:8.9px;line-height:8.9px;font-weight:bold;color:#000;white-space:nowrap;transform:translate(-50%,-50%) rotate(90deg)">granulocytic hallmarks</div>
<div style="left:502.80px;top:163.70px;font-family:'Liberation Serif', serif;font-size:8.72px;line-height:8.72px;font-weight:bold;color:#000;white-space:nowrap;transform:translate(-50%,-50%) rotate(90deg)">transcriptional factors and coregulators</div>
<div style="left:512.60px;top:322.80px;font-family:'Liberation Serif', serif;font-size:8.8px;line-height:8.8px;font-weight:bold;color:#000;white-space:nowrap;transform:translate(-50%,-50%) rotate(90deg)">ATRA</div>
<div style="left:502.00px;top:322.80px;font-family:'Liberation Serif', serif;font-size:8.8px;line-height:8.8px;font-weight:bold;color:#000;white-space:nowrap;transform:translate(-50%,-50%) rotate(90deg)">catabolism</div>
<div style="left:502.50px;top:385.30px;font-family:'Liberation Serif', serif;font-size:8.8px;line-height:8.8px;font-weight:bold;color:#000;white-space:nowrap;transform:translate(-50%,-50%) rotate(90deg)">inflammation</div>
<div style="left:501.40px;top:444.40px;font-family:'Liberation Serif', serif;font-size:8.6px;line-height:8.6px;font-weight:bold;color:#000;white-space:nowrap;transform:translate(-50%,-50%) rotate(90deg)">controls</div>
<div style="left:256.60px;width:400px;text-align:center;top:478.40px;font-family:'Liberation Serif', serif;font-size:8.8px;line-height:8.8px;font-weight:bold;color:#000;white-space:nowrap;">Modulation level</div>
<div style="left:257.00px;width:400px;text-align:center;top:488.80px;font-family:'Liberation Serif', serif;font-size:8.8px;line-height:8.8px;font-weight:bold;color:#000;white-space:nowrap;">Blasts ATRA / UnT (Log<sub style="font-size:5px;vertical-align:-1px">10</sub> RQ)</div>
<div style="left:410.20px;top:504.60px;width:11.10px;height:11.45px;background:#e00a0a"></div>
<div style="left:421.30px;top:504.60px;width:11.10px;height:11.45px;background:#0a0a90"></div>
<div style="left:410.20px;top:516.00px;width:11.10px;height:11.45px;background:#ec9a48"></div>
<div style="left:421.30px;top:516.00px;width:11.10px;height:11.45px;background:#4a70e8"></div>
<div style="left:410.20px;top:527.40px;width:11.10px;height:11.45px;background:#f5c32c"></div>
<div style="left:421.30px;top:527.40px;width:11.10px;height:11.45px;background:#8cc8f5"></div>
<div style="left:410.20px;top:538.80px;width:11.10px;height:11.45px;background:#fffab4"></div>
<div style="left:421.30px;top:538.80px;width:11.10px;height:11.45px;background:#e2f8ff"></div>
<div style="left:410.20px;top:550.20px;width:11.10px;height:11.45px;background:#e6f8d8"></div>
<div style="left:421.30px;top:550.20px;width:11.10px;height:11.45px;background:#e6f8d8"></div>
<div style="left:403.70px;top:536.00px;font-family:'Liberation Serif', serif;font-size:8.7px;line-height:8.7px;font-weight:bold;color:#000;white-space:nowrap;transform:translate(-50%,-50%) rotate(90deg)">up-regulated</div>
<div style="left:437.70px;top:534.60px;font-family:'Liberation Serif', serif;font-size:8.7px;line-height:8.7px;font-weight:bold;color:#000;white-space:nowrap;transform:translate(-50%,-50%) rotate(90deg)">down-regulated</div>
<div style="left:450.00px;top:507.00px;font-family:'Liberation Serif', serif;font-size:7.6px;line-height:7.6px;font-weight:bold;color:#000;white-space:nowrap;">RQ &gt; 2 <span style="font-size:5.2px">(&#177; 0.30)</span></div>
<div style="left:450.00px;top:518.95px;font-family:'Liberation Serif', serif;font-size:7.6px;line-height:7.6px;font-weight:bold;color:#000;white-space:nowrap;">2 &gt; RQ &gt; 1 <span style="font-size:5.2px">(&#177; 0.27)</span></div>
<div style="left:450.00px;top:530.90px;font-family:'Liberation Serif', serif;font-size:7.6px;line-height:7.6px;font-weight:bold;color:#000;white-space:nowrap;">1 &gt; RQ &gt; 0.5 <span style="font-size:5.2px">(&#177; 0.18)</span></div>
<div style="left:450.00px;top:542.85px;font-family:'Liberation Serif', serif;font-size:7.6px;line-height:7.6px;font-weight:bold;color:#000;white-space:nowrap;">0.5 &gt; RQ &gt; 0.2 <span style="font-size:5.2px">(&#177; 0.11)</span></div>
<div style="left:450.00px;top:554.80px;font-family:'Liberation Serif', serif;font-size:7.6px;line-height:7.6px;font-weight:bold;color:#000;white-space:nowrap;">RQ &lt; 0.2</div>
</body></html>
